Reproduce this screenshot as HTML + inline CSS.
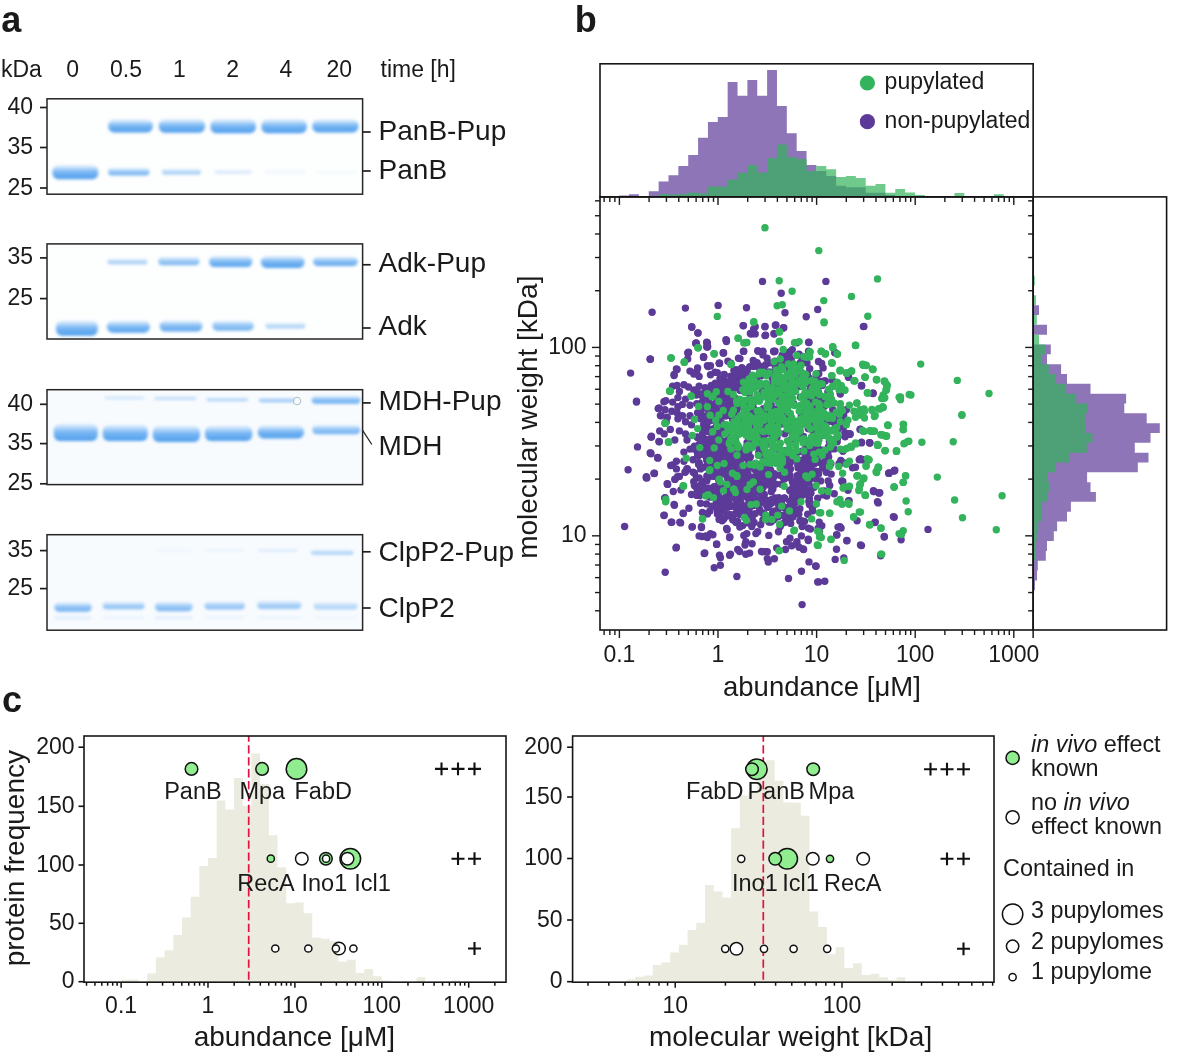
<!DOCTYPE html>
<html><head><meta charset="utf-8"><title>Figure</title>
<style>html,body{margin:0;padding:0;background:#fff;width:1200px;height:1056px;overflow:hidden}svg{display:block;will-change:transform}</style>
</head><body>
<svg width="1200" height="1056" viewBox="0 0 1200 1056" font-family="'Liberation Sans', sans-serif">
<defs>
<filter id="blur" x="-20%" y="-100%" width="140%" height="300%"><feGaussianBlur stdDeviation="1.7"/></filter>
<linearGradient id="bg" x1="0" y1="0" x2="0" y2="1"><stop offset="0" stop-color="#a6d0f8" stop-opacity="0.35"/><stop offset="0.45" stop-color="#6eb1f2" stop-opacity="0.9"/><stop offset="1" stop-color="#4c9cec"/></linearGradient>
</defs>
<rect width="1200" height="1056" fill="#ffffff"/>
<text x="1.3" y="32" font-size="36" font-weight="bold" fill="#1a1a1a">a</text>
<text x="1" y="76.5" font-size="23" fill="#1a1a1a">kDa</text>
<text x="72.7" y="76.5" font-size="23" text-anchor="middle" fill="#1a1a1a">0</text>
<text x="126" y="76.5" font-size="23" text-anchor="middle" fill="#1a1a1a">0.5</text>
<text x="179.3" y="76.5" font-size="23" text-anchor="middle" fill="#1a1a1a">1</text>
<text x="232.7" y="76.5" font-size="23" text-anchor="middle" fill="#1a1a1a">2</text>
<text x="286" y="76.5" font-size="23" text-anchor="middle" fill="#1a1a1a">4</text>
<text x="339.3" y="76.5" font-size="23" text-anchor="middle" fill="#1a1a1a">20</text>
<text x="380.5" y="76.5" font-size="23" fill="#1a1a1a">time [h]</text>
<rect x="47" y="98.8" width="315.6" height="95.4" fill="#fdfefe"/>
<rect x="108.2" y="119.5" width="44.6" height="13" rx="6" fill="url(#bg)" opacity="1" filter="url(#blur)"/>
<rect x="158.8" y="119.25" width="46.2" height="13.5" rx="6" fill="url(#bg)" opacity="1" filter="url(#blur)"/>
<rect x="210.5" y="119.3" width="45.4" height="14" rx="6" fill="url(#bg)" opacity="1" filter="url(#blur)"/>
<rect x="261.4" y="119.3" width="45.4" height="14" rx="6" fill="url(#bg)" opacity="1" filter="url(#blur)"/>
<rect x="312.3" y="119.5" width="46.2" height="13" rx="6" fill="url(#bg)" opacity="1" filter="url(#blur)"/>
<rect x="52.4" y="165.3" width="45.9" height="14" rx="6" fill="url(#bg)" opacity="1" filter="url(#blur)"/>
<rect x="108" y="168.1" width="41.5" height="7.5" rx="3.75" fill="url(#bg)" opacity="0.8" filter="url(#blur)"/>
<rect x="162" y="168.93" width="39" height="5.62" rx="2.81" fill="url(#bg)" opacity="0.55" filter="url(#blur)"/>
<rect x="214.6" y="169.38" width="37.2" height="4.38" rx="2.19" fill="url(#bg)" opacity="0.25" filter="url(#blur)"/>
<rect x="265" y="169.75" width="40" height="3.75" rx="1.88" fill="url(#bg)" opacity="0.1" filter="url(#blur)"/>
<rect x="316" y="169.75" width="40" height="3.75" rx="1.88" fill="url(#bg)" opacity="0.06" filter="url(#blur)"/>

<rect x="47" y="98.8" width="315.6" height="95.4" fill="none" stroke="#262424" stroke-width="1.5"/>
<line x1="40" y1="107.5" x2="47" y2="107.5" stroke="#1e1e1e" stroke-width="1.7"/>
<text x="33" y="114" font-size="23" text-anchor="end" fill="#1a1a1a">40</text>
<line x1="40" y1="147.5" x2="47" y2="147.5" stroke="#1e1e1e" stroke-width="1.7"/>
<text x="33" y="154" font-size="23" text-anchor="end" fill="#1a1a1a">35</text>
<line x1="40" y1="188" x2="47" y2="188" stroke="#1e1e1e" stroke-width="1.7"/>
<text x="33" y="194.5" font-size="23" text-anchor="end" fill="#1a1a1a">25</text>
<line x1="362.6" y1="132" x2="370.7" y2="132" stroke="#1e1e1e" stroke-width="1.7"/>
<text x="378.6" y="140" font-size="28" fill="#1a1a1a">PanB-Pup</text>
<line x1="362.6" y1="171" x2="370.7" y2="171" stroke="#1e1e1e" stroke-width="1.7"/>
<text x="378.6" y="179.2" font-size="28" fill="#1a1a1a">PanB</text>
<rect x="47" y="243.9" width="315.6" height="95.1" fill="#fdfefe"/>
<rect x="107.4" y="258.7" width="39.9" height="5.5" rx="2.75" fill="url(#bg)" opacity="0.55" filter="url(#blur)"/>
<rect x="158.3" y="257.05" width="41.2" height="8.25" rx="4.12" fill="url(#bg)" opacity="0.75" filter="url(#blur)"/>
<rect x="209.1" y="256" width="43.2" height="11" rx="5.5" fill="url(#bg)" opacity="0.95" filter="url(#blur)"/>
<rect x="260.8" y="256" width="43.8" height="12" rx="6" fill="url(#bg)" opacity="1" filter="url(#blur)"/>
<rect x="313.1" y="256.85" width="44.6" height="9.25" rx="4.62" fill="url(#bg)" opacity="0.9" filter="url(#blur)"/>
<rect x="56" y="320.8" width="41.8" height="15" rx="6" fill="url(#bg)" opacity="1" filter="url(#blur)"/>
<rect x="106.8" y="320.8" width="43.2" height="12" rx="6" fill="url(#bg)" opacity="0.95" filter="url(#blur)"/>
<rect x="159.6" y="320.5" width="42.7" height="11" rx="5.5" fill="url(#bg)" opacity="0.9" filter="url(#blur)"/>
<rect x="212.4" y="320.7" width="41.3" height="10" rx="5" fill="url(#bg)" opacity="0.8" filter="url(#blur)"/>
<rect x="265.5" y="322.67" width="39.9" height="5.88" rx="2.94" fill="url(#bg)" opacity="0.5" filter="url(#blur)"/>

<rect x="47" y="243.9" width="315.6" height="95.1" fill="none" stroke="#262424" stroke-width="1.5"/>
<line x1="40" y1="257.9" x2="47" y2="257.9" stroke="#1e1e1e" stroke-width="1.7"/>
<text x="33" y="264.4" font-size="23" text-anchor="end" fill="#1a1a1a">35</text>
<line x1="40" y1="298.6" x2="47" y2="298.6" stroke="#1e1e1e" stroke-width="1.7"/>
<text x="33" y="305.1" font-size="23" text-anchor="end" fill="#1a1a1a">25</text>
<line x1="362.6" y1="264.75" x2="370.7" y2="264.75" stroke="#1e1e1e" stroke-width="1.7"/>
<text x="378.6" y="272.4" font-size="28" fill="#1a1a1a">Adk-Pup</text>
<line x1="362.6" y1="328" x2="370.7" y2="328" stroke="#1e1e1e" stroke-width="1.7"/>
<text x="378.6" y="335.1" font-size="28" fill="#1a1a1a">Adk</text>
<rect x="47" y="389.7" width="315.6" height="94.9" fill="#f8fbfe"/>
<rect x="53.75" y="424" width="44" height="17" rx="6" fill="url(#bg)" opacity="1" filter="url(#blur)"/>
<rect x="102.7" y="425" width="45.1" height="16" rx="6" fill="url(#bg)" opacity="1" filter="url(#blur)"/>
<rect x="152.8" y="426" width="47.2" height="16" rx="6" fill="url(#bg)" opacity="1" filter="url(#blur)"/>
<rect x="205" y="426" width="47.3" height="15" rx="6" fill="url(#bg)" opacity="1" filter="url(#blur)"/>
<rect x="257.8" y="425.5" width="46.2" height="13" rx="6" fill="url(#bg)" opacity="1" filter="url(#blur)"/>
<rect x="312.3" y="424.98" width="48.1" height="9.38" rx="4.69" fill="url(#bg)" opacity="0.8" filter="url(#blur)"/>
<rect x="104.6" y="395.8" width="39.9" height="3.5" rx="1.75" fill="url(#bg)" opacity="0.3" filter="url(#blur)"/>
<rect x="154" y="396.1" width="42.8" height="4" rx="2" fill="url(#bg)" opacity="0.4" filter="url(#blur)"/>
<rect x="206.4" y="397.23" width="41.8" height="4.12" rx="2.06" fill="url(#bg)" opacity="0.5" filter="url(#blur)"/>
<rect x="258.6" y="397.45" width="35.8" height="4.75" rx="2.38" fill="url(#bg)" opacity="0.6" filter="url(#blur)"/>
<rect x="311.7" y="395.78" width="48.7" height="7.88" rx="3.94" fill="url(#bg)" opacity="0.85" filter="url(#blur)"/>
<circle cx="297" cy="401" r="3.8" fill="none" stroke="#aab4c0" stroke-width="0.9"/>
<rect x="47" y="389.7" width="315.6" height="94.9" fill="none" stroke="#262424" stroke-width="1.5"/>
<line x1="40" y1="404.3" x2="47" y2="404.3" stroke="#1e1e1e" stroke-width="1.7"/>
<text x="33" y="410.8" font-size="23" text-anchor="end" fill="#1a1a1a">40</text>
<line x1="40" y1="443.6" x2="47" y2="443.6" stroke="#1e1e1e" stroke-width="1.7"/>
<text x="33" y="450.1" font-size="23" text-anchor="end" fill="#1a1a1a">35</text>
<line x1="40" y1="483.8" x2="47" y2="483.8" stroke="#1e1e1e" stroke-width="1.7"/>
<text x="33" y="490.3" font-size="23" text-anchor="end" fill="#1a1a1a">25</text>
<line x1="362.6" y1="402.9" x2="370.7" y2="402.9" stroke="#1e1e1e" stroke-width="1.7"/>
<text x="378.6" y="410.2" font-size="28" fill="#1a1a1a">MDH-Pup</text>
<text x="378.6" y="454.6" font-size="28" fill="#1a1a1a">MDH</text>
<line x1="362.3" y1="429.8" x2="371.8" y2="444.5" stroke="#2a2a2a" stroke-width="1.3"/>
<rect x="47" y="534.7" width="315.6" height="95.5" fill="#f8fbfe"/>
<rect x="54.3" y="602.38" width="37.4" height="9.38" rx="4.69" fill="url(#bg)" opacity="0.8" filter="url(#blur)"/>
<rect x="102.7" y="601.8" width="41.8" height="7.5" rx="3.75" fill="url(#bg)" opacity="0.65" filter="url(#blur)"/>
<rect x="155" y="601.88" width="37.6" height="9.38" rx="4.69" fill="url(#bg)" opacity="0.75" filter="url(#blur)"/>
<rect x="204.5" y="601.42" width="40.4" height="8.12" rx="4.06" fill="url(#bg)" opacity="0.65" filter="url(#blur)"/>
<rect x="257.3" y="600.83" width="44" height="8.12" rx="4.06" fill="url(#bg)" opacity="0.6" filter="url(#blur)"/>
<rect x="313.6" y="602.1" width="44.1" height="7.5" rx="3.75" fill="url(#bg)" opacity="0.45" filter="url(#blur)"/>
<rect x="54.3" y="615.55" width="37.4" height="3.75" rx="1.88" fill="url(#bg)" opacity="0.2" filter="url(#blur)"/>
<rect x="102.7" y="615.92" width="41.8" height="3.12" rx="1.56" fill="url(#bg)" opacity="0.12" filter="url(#blur)"/>
<rect x="155" y="615.55" width="37.6" height="3.75" rx="1.88" fill="url(#bg)" opacity="0.18" filter="url(#blur)"/>
<rect x="204.5" y="615.62" width="40.4" height="3.12" rx="1.56" fill="url(#bg)" opacity="0.12" filter="url(#blur)"/>
<rect x="257.3" y="615.62" width="44" height="3.12" rx="1.56" fill="url(#bg)" opacity="0.1" filter="url(#blur)"/>
<rect x="313.6" y="615.62" width="44.1" height="3.12" rx="1.56" fill="url(#bg)" opacity="0.08" filter="url(#blur)"/>
<rect x="311" y="549.7" width="42.5" height="5" rx="2.5" fill="url(#bg)" opacity="0.5" filter="url(#blur)"/>
<rect x="258" y="548.62" width="40" height="3.12" rx="1.56" fill="url(#bg)" opacity="0.22" filter="url(#blur)"/>
<rect x="205" y="548.62" width="40" height="3.12" rx="1.56" fill="url(#bg)" opacity="0.12" filter="url(#blur)"/>
<rect x="155" y="548.62" width="37" height="3.12" rx="1.56" fill="url(#bg)" opacity="0.08" filter="url(#blur)"/>

<rect x="47" y="534.7" width="315.6" height="95.5" fill="none" stroke="#262424" stroke-width="1.5"/>
<line x1="40" y1="550.6" x2="47" y2="550.6" stroke="#1e1e1e" stroke-width="1.7"/>
<text x="33" y="557.1" font-size="23" text-anchor="end" fill="#1a1a1a">35</text>
<line x1="40" y1="588.6" x2="47" y2="588.6" stroke="#1e1e1e" stroke-width="1.7"/>
<text x="33" y="595.1" font-size="23" text-anchor="end" fill="#1a1a1a">25</text>
<line x1="362.6" y1="551.8" x2="370.7" y2="551.8" stroke="#1e1e1e" stroke-width="1.7"/>
<text x="378.6" y="560.5" font-size="28" fill="#1a1a1a">ClpP2-Pup</text>
<line x1="362.6" y1="608" x2="370.7" y2="608" stroke="#1e1e1e" stroke-width="1.7"/>
<text x="378.6" y="616.5" font-size="28" fill="#1a1a1a">ClpP2</text>
<text x="574.8" y="32.4" font-size="36" font-weight="bold" fill="#1a1a1a">b</text>
<path d="M619.2,196.9 L619.2,195.45 L629.06,195.45 L629.06,194.25 L638.92,194.25 L638.92,196.9 L648.78,196.9 L648.78,191.25 L658.64,191.25 L658.64,181.5 L668.5,181.5 L668.5,175.2 L678.36,175.2 L678.36,166.1 L688.22,166.1 L688.22,155 L698.08,155 L698.08,137.7 L707.94,137.7 L707.94,122.1 L717.8,122.1 L717.8,117 L727.66,117 L727.66,82.1 L737.52,82.1 L737.52,95.7 L747.38,95.7 L747.38,80 L757.24,80 L757.24,95.7 L767.1,95.7 L767.1,70.1 L776.96,70.1 L776.96,106 L786.82,106 L786.82,133.2 L796.68,133.2 L796.68,151.1 L806.54,151.1 L806.54,165 L816.4,165 L816.4,171 L826.26,171 L826.26,175.95 L836.12,175.95 L836.12,185.7 L845.98,185.7 L845.98,187.2 L855.84,187.2 L855.84,187.2 L865.7,187.2 L865.7,192.75 L875.56,192.75 L875.56,192.75 L885.42,192.75 L885.42,195 L895.28,195 L895.28,196.9 Z" fill="#5c3a98" fill-opacity="0.7"/>
<path d="M619.2,196.9 L619.2,196.9 L629.06,196.9 L629.06,196.9 L638.92,196.9 L638.92,196.9 L648.78,196.9 L648.78,196.9 L658.64,196.9 L658.64,193.95 L668.5,193.95 L668.5,194.55 L678.36,194.55 L678.36,193.95 L688.22,193.95 L688.22,192.45 L698.08,192.45 L698.08,193.2 L707.94,193.2 L707.94,186.45 L717.8,186.45 L717.8,186.45 L727.66,186.45 L727.66,179.55 L737.52,179.55 L737.52,172.8 L747.38,172.8 L747.38,165 L757.24,165 L757.24,172.5 L767.1,172.5 L767.1,157.95 L776.96,157.95 L776.96,144.5 L786.82,144.5 L786.82,157.2 L796.68,157.2 L796.68,159 L806.54,159 L806.54,171 L816.4,171 L816.4,166.1 L826.26,166.1 L826.26,169.2 L836.12,169.2 L836.12,177 L845.98,177 L845.98,175.95 L855.84,175.95 L855.84,178.1 L865.7,178.1 L865.7,185.7 L875.56,185.7 L875.56,184.05 L885.42,184.05 L885.42,192.75 L895.28,192.75 L895.28,189 L905.14,189 L905.14,192.45 L915,192.45 L915,195 L924.86,195 L924.86,196.9 L934.72,196.9 L934.72,196.9 L944.58,196.9 L944.58,196.9 L954.44,196.9 L954.44,193.05 L964.3,193.05 L964.3,196.9 L974.16,196.9 L974.16,196.9 L984.02,196.9 L984.02,196.9 L993.88,196.9 L993.88,194.2 L1003.74,194.2 L1003.74,196.9 Z" fill="#33b35b" fill-opacity="0.7"/>
<path d="M1033.15,275.71 L1033.15,275.71 L1033.15,285.54 L1033.15,285.54 L1033.15,295.37 L1033.15,295.37 L1033.15,305.2 L1039,305.2 L1039,315.03 L1033.15,315.03 L1033.15,324.86 L1047,324.86 L1047,334.69 L1033.15,334.69 L1033.15,344.52 L1050.8,344.52 L1050.8,354.35 L1047,354.35 L1047,364.18 L1061.1,364.18 L1061.1,374.01 L1067,374.01 L1067,383.84 L1090.5,383.84 L1090.5,393.67 L1126.1,393.67 L1126.1,403.5 L1124.3,403.5 L1124.3,413.33 L1146.7,413.33 L1146.7,423.16 L1159.8,423.16 L1159.8,432.99 L1150.5,432.99 L1150.5,442.82 L1134.8,442.82 L1134.8,452.65 L1148.5,452.65 L1148.5,462.48 L1137.8,462.48 L1137.8,472.31 L1087.1,472.31 L1087.1,482.14 L1090.5,482.14 L1090.5,491.97 L1095.9,491.97 L1095.9,501.8 L1070.9,501.8 L1070.9,511.63 L1067,511.63 L1067,521.46 L1057.1,521.46 L1057.1,531.29 L1053.8,531.29 L1053.8,541.12 L1047,541.12 L1047,550.95 L1045.8,550.95 L1045.8,560.78 L1037.8,560.78 L1037.8,570.61 L1037,570.61 L1037,580.44 L1035,580.44 L1035,590.27 L1033.15,590.27 L1033.15,600.1 L1033.15,600.1 Z" fill="#5c3a98" fill-opacity="0.7"/>
<path d="M1033.15,275.71 L1034.8,275.71 L1034.8,285.54 L1033.15,285.54 L1033.15,295.37 L1035.9,295.37 L1035.9,305.2 L1033.15,305.2 L1033.15,315.03 L1036.8,315.03 L1036.8,324.86 L1033.15,324.86 L1033.15,334.69 L1039,334.69 L1039,344.52 L1045,344.52 L1045,354.35 L1042.1,354.35 L1042.1,364.18 L1048.8,364.18 L1048.8,374.01 L1056.1,374.01 L1056.1,383.84 L1066.2,383.84 L1066.2,393.67 L1076.2,393.67 L1076.2,403.5 L1087.6,403.5 L1087.6,413.33 L1084.8,413.33 L1084.8,423.16 L1085.6,423.16 L1085.6,432.99 L1092.4,432.99 L1092.4,442.82 L1086.8,442.82 L1086.8,452.65 L1069,452.65 L1069,462.48 L1055.8,462.48 L1055.8,472.31 L1048,472.31 L1048,482.14 L1049.7,482.14 L1049.7,491.97 L1048,491.97 L1048,501.8 L1042.1,501.8 L1042.1,511.63 L1042.1,511.63 L1042.1,521.46 L1038.3,521.46 L1038.3,531.29 L1036.8,531.29 L1036.8,541.12 L1035.8,541.12 L1035.8,550.95 L1035,550.95 L1035,560.78 L1033.15,560.78 L1033.15,570.61 L1033.15,570.61 L1033.15,580.44 L1033.15,580.44 L1033.15,590.27 L1033.15,590.27 L1033.15,600.1 L1033.15,600.1 Z" fill="#33b35b" fill-opacity="0.7"/>
<g fill="#5c3a98">
<circle cx="724.8" cy="447.8" r="3.7"/>
<circle cx="789.7" cy="359.1" r="3.7"/>
<circle cx="728.4" cy="390.4" r="3.7"/>
<circle cx="791.2" cy="507.8" r="3.7"/>
<circle cx="783.9" cy="402.8" r="3.7"/>
<circle cx="764.1" cy="480.2" r="3.7"/>
<circle cx="782.9" cy="455.3" r="3.7"/>
<circle cx="797.3" cy="377.2" r="3.7"/>
<circle cx="720.3" cy="501.1" r="3.7"/>
<circle cx="699.8" cy="495.4" r="3.7"/>
<circle cx="740.4" cy="510.2" r="3.7"/>
<circle cx="785.3" cy="352.8" r="3.7"/>
<circle cx="787.1" cy="375.9" r="3.7"/>
<circle cx="748.2" cy="432.3" r="3.7"/>
<circle cx="784.7" cy="450.6" r="3.7"/>
<circle cx="763.0" cy="472.9" r="3.7"/>
<circle cx="808.5" cy="351.1" r="3.7"/>
<circle cx="746.8" cy="457.4" r="3.7"/>
<circle cx="808.0" cy="404.4" r="3.7"/>
<circle cx="724.9" cy="381.7" r="3.7"/>
<circle cx="702.0" cy="406.7" r="3.7"/>
<circle cx="758.3" cy="505.5" r="3.7"/>
<circle cx="793.8" cy="511.0" r="3.7"/>
<circle cx="705.2" cy="445.1" r="3.7"/>
<circle cx="825.3" cy="381.0" r="3.7"/>
<circle cx="792.4" cy="496.4" r="3.7"/>
<circle cx="733.8" cy="494.1" r="3.7"/>
<circle cx="754.7" cy="424.8" r="3.7"/>
<circle cx="809.7" cy="502.0" r="3.7"/>
<circle cx="735.2" cy="469.8" r="3.7"/>
<circle cx="727.2" cy="506.7" r="3.7"/>
<circle cx="743.9" cy="383.6" r="3.7"/>
<circle cx="713.7" cy="493.7" r="3.7"/>
<circle cx="729.9" cy="444.7" r="3.7"/>
<circle cx="747.4" cy="459.0" r="3.7"/>
<circle cx="819.0" cy="462.4" r="3.7"/>
<circle cx="768.0" cy="477.2" r="3.7"/>
<circle cx="762.1" cy="392.4" r="3.7"/>
<circle cx="762.7" cy="369.8" r="3.7"/>
<circle cx="807.8" cy="451.5" r="3.7"/>
<circle cx="832.3" cy="380.2" r="3.7"/>
<circle cx="770.5" cy="479.5" r="3.7"/>
<circle cx="779.4" cy="500.4" r="3.7"/>
<circle cx="726.8" cy="461.1" r="3.7"/>
<circle cx="754.1" cy="485.5" r="3.7"/>
<circle cx="811.5" cy="471.9" r="3.7"/>
<circle cx="792.6" cy="513.3" r="3.7"/>
<circle cx="759.1" cy="480.2" r="3.7"/>
<circle cx="718.3" cy="455.5" r="3.7"/>
<circle cx="729.7" cy="387.3" r="3.7"/>
<circle cx="765.2" cy="458.0" r="3.7"/>
<circle cx="822.5" cy="450.2" r="3.7"/>
<circle cx="828.3" cy="421.2" r="3.7"/>
<circle cx="763.2" cy="389.5" r="3.7"/>
<circle cx="725.5" cy="382.1" r="3.7"/>
<circle cx="727.7" cy="507.3" r="3.7"/>
<circle cx="807.0" cy="362.9" r="3.7"/>
<circle cx="733.8" cy="413.1" r="3.7"/>
<circle cx="766.3" cy="385.9" r="3.7"/>
<circle cx="796.3" cy="367.9" r="3.7"/>
<circle cx="814.2" cy="487.3" r="3.7"/>
<circle cx="794.4" cy="496.4" r="3.7"/>
<circle cx="704.0" cy="438.5" r="3.7"/>
<circle cx="798.5" cy="452.0" r="3.7"/>
<circle cx="790.5" cy="380.2" r="3.7"/>
<circle cx="740.5" cy="480.5" r="3.7"/>
<circle cx="775.9" cy="484.1" r="3.7"/>
<circle cx="749.1" cy="508.7" r="3.7"/>
<circle cx="726.4" cy="489.5" r="3.7"/>
<circle cx="809.4" cy="498.2" r="3.7"/>
<circle cx="709.5" cy="420.8" r="3.7"/>
<circle cx="780.1" cy="384.4" r="3.7"/>
<circle cx="782.5" cy="464.4" r="3.7"/>
<circle cx="735.1" cy="506.4" r="3.7"/>
<circle cx="717.4" cy="445.1" r="3.7"/>
<circle cx="793.1" cy="429.3" r="3.7"/>
<circle cx="789.3" cy="356.4" r="3.7"/>
<circle cx="739.1" cy="508.3" r="3.7"/>
<circle cx="804.8" cy="484.1" r="3.7"/>
<circle cx="768.2" cy="476.6" r="3.7"/>
<circle cx="793.6" cy="403.5" r="3.7"/>
<circle cx="752.2" cy="380.5" r="3.7"/>
<circle cx="720.0" cy="378.6" r="3.7"/>
<circle cx="767.0" cy="358.1" r="3.7"/>
<circle cx="753.2" cy="477.3" r="3.7"/>
<circle cx="712.6" cy="462.3" r="3.7"/>
<circle cx="693.7" cy="481.8" r="3.7"/>
<circle cx="762.9" cy="519.9" r="3.7"/>
<circle cx="729.5" cy="498.0" r="3.7"/>
<circle cx="740.9" cy="473.0" r="3.7"/>
<circle cx="808.8" cy="483.0" r="3.7"/>
<circle cx="805.6" cy="459.2" r="3.7"/>
<circle cx="763.1" cy="487.5" r="3.7"/>
<circle cx="724.7" cy="503.3" r="3.7"/>
<circle cx="830.9" cy="430.4" r="3.7"/>
<circle cx="755.2" cy="491.7" r="3.7"/>
<circle cx="823.1" cy="367.9" r="3.7"/>
<circle cx="718.3" cy="512.5" r="3.7"/>
<circle cx="722.3" cy="500.7" r="3.7"/>
<circle cx="812.4" cy="508.5" r="3.7"/>
<circle cx="784.4" cy="498.0" r="3.7"/>
<circle cx="762.7" cy="481.9" r="3.7"/>
<circle cx="720.8" cy="412.0" r="3.7"/>
<circle cx="757.1" cy="362.6" r="3.7"/>
<circle cx="774.6" cy="424.6" r="3.7"/>
<circle cx="733.9" cy="520.1" r="3.7"/>
<circle cx="805.9" cy="401.5" r="3.7"/>
<circle cx="757.3" cy="410.9" r="3.7"/>
<circle cx="753.8" cy="361.4" r="3.7"/>
<circle cx="827.7" cy="399.8" r="3.7"/>
<circle cx="820.0" cy="402.1" r="3.7"/>
<circle cx="813.8" cy="433.3" r="3.7"/>
<circle cx="693.6" cy="448.2" r="3.7"/>
<circle cx="726.4" cy="495.6" r="3.7"/>
<circle cx="731.8" cy="378.3" r="3.7"/>
<circle cx="715.6" cy="473.7" r="3.7"/>
<circle cx="753.3" cy="412.2" r="3.7"/>
<circle cx="760.7" cy="524.8" r="3.7"/>
<circle cx="772.3" cy="423.3" r="3.7"/>
<circle cx="840.8" cy="460.5" r="3.7"/>
<circle cx="777.0" cy="437.3" r="3.7"/>
<circle cx="747.1" cy="442.4" r="3.7"/>
<circle cx="749.1" cy="500.5" r="3.7"/>
<circle cx="809.3" cy="502.3" r="3.7"/>
<circle cx="729.8" cy="448.2" r="3.7"/>
<circle cx="793.2" cy="373.4" r="3.7"/>
<circle cx="726.1" cy="412.7" r="3.7"/>
<circle cx="810.2" cy="491.9" r="3.7"/>
<circle cx="775.0" cy="429.0" r="3.7"/>
<circle cx="718.5" cy="457.1" r="3.7"/>
<circle cx="772.9" cy="488.9" r="3.7"/>
<circle cx="768.8" cy="482.7" r="3.7"/>
<circle cx="764.9" cy="445.5" r="3.7"/>
<circle cx="720.9" cy="448.7" r="3.7"/>
<circle cx="794.0" cy="509.2" r="3.7"/>
<circle cx="721.8" cy="415.7" r="3.7"/>
<circle cx="775.1" cy="517.7" r="3.7"/>
<circle cx="758.8" cy="473.5" r="3.7"/>
<circle cx="716.8" cy="499.6" r="3.7"/>
<circle cx="824.3" cy="381.0" r="3.7"/>
<circle cx="770.6" cy="427.1" r="3.7"/>
<circle cx="800.6" cy="362.5" r="3.7"/>
<circle cx="765.3" cy="425.2" r="3.7"/>
<circle cx="740.5" cy="424.6" r="3.7"/>
<circle cx="718.8" cy="419.6" r="3.7"/>
<circle cx="781.0" cy="362.8" r="3.7"/>
<circle cx="828.4" cy="446.9" r="3.7"/>
<circle cx="788.7" cy="412.8" r="3.7"/>
<circle cx="717.4" cy="508.5" r="3.7"/>
<circle cx="768.4" cy="418.2" r="3.7"/>
<circle cx="714.7" cy="393.5" r="3.7"/>
<circle cx="741.9" cy="367.6" r="3.7"/>
<circle cx="797.2" cy="459.9" r="3.7"/>
<circle cx="700.7" cy="488.0" r="3.7"/>
<circle cx="726.8" cy="476.3" r="3.7"/>
<circle cx="703.3" cy="449.6" r="3.7"/>
<circle cx="713.9" cy="420.1" r="3.7"/>
<circle cx="718.7" cy="440.6" r="3.7"/>
<circle cx="737.6" cy="521.5" r="3.7"/>
<circle cx="764.8" cy="427.4" r="3.7"/>
<circle cx="716.1" cy="452.9" r="3.7"/>
<circle cx="807.7" cy="514.3" r="3.7"/>
<circle cx="810.6" cy="388.8" r="3.7"/>
<circle cx="739.7" cy="488.3" r="3.7"/>
<circle cx="730.1" cy="441.3" r="3.7"/>
<circle cx="766.1" cy="483.8" r="3.7"/>
<circle cx="698.9" cy="492.5" r="3.7"/>
<circle cx="739.8" cy="527.0" r="3.7"/>
<circle cx="750.0" cy="496.2" r="3.7"/>
<circle cx="739.6" cy="388.6" r="3.7"/>
<circle cx="737.8" cy="453.1" r="3.7"/>
<circle cx="741.7" cy="383.4" r="3.7"/>
<circle cx="812.5" cy="458.4" r="3.7"/>
<circle cx="817.9" cy="439.7" r="3.7"/>
<circle cx="693.0" cy="472.1" r="3.7"/>
<circle cx="735.3" cy="403.5" r="3.7"/>
<circle cx="790.5" cy="362.3" r="3.7"/>
<circle cx="744.8" cy="467.5" r="3.7"/>
<circle cx="725.1" cy="455.3" r="3.7"/>
<circle cx="741.9" cy="426.9" r="3.7"/>
<circle cx="721.7" cy="389.3" r="3.7"/>
<circle cx="792.4" cy="481.8" r="3.7"/>
<circle cx="718.5" cy="420.2" r="3.7"/>
<circle cx="708.1" cy="490.9" r="3.7"/>
<circle cx="784.5" cy="522.5" r="3.7"/>
<circle cx="840.3" cy="394.1" r="3.7"/>
<circle cx="722.1" cy="520.7" r="3.7"/>
<circle cx="740.7" cy="403.2" r="3.7"/>
<circle cx="704.5" cy="426.1" r="3.7"/>
<circle cx="729.4" cy="400.4" r="3.7"/>
<circle cx="742.7" cy="468.3" r="3.7"/>
<circle cx="705.8" cy="453.6" r="3.7"/>
<circle cx="742.5" cy="378.4" r="3.7"/>
<circle cx="767.9" cy="430.7" r="3.7"/>
<circle cx="702.9" cy="486.9" r="3.7"/>
<circle cx="831.4" cy="448.6" r="3.7"/>
<circle cx="731.9" cy="469.7" r="3.7"/>
<circle cx="809.4" cy="461.9" r="3.7"/>
<circle cx="706.5" cy="503.9" r="3.7"/>
<circle cx="797.0" cy="372.3" r="3.7"/>
<circle cx="801.9" cy="405.9" r="3.7"/>
<circle cx="814.9" cy="401.8" r="3.7"/>
<circle cx="807.1" cy="457.1" r="3.7"/>
<circle cx="785.5" cy="414.5" r="3.7"/>
<circle cx="761.7" cy="469.4" r="3.7"/>
<circle cx="767.8" cy="443.9" r="3.7"/>
<circle cx="717.1" cy="492.5" r="3.7"/>
<circle cx="697.2" cy="436.9" r="3.7"/>
<circle cx="718.9" cy="395.6" r="3.7"/>
<circle cx="779.6" cy="400.7" r="3.7"/>
<circle cx="738.3" cy="401.4" r="3.7"/>
<circle cx="768.1" cy="506.2" r="3.7"/>
<circle cx="695.8" cy="449.4" r="3.7"/>
<circle cx="782.2" cy="391.2" r="3.7"/>
<circle cx="695.4" cy="486.2" r="3.7"/>
<circle cx="708.7" cy="400.0" r="3.7"/>
<circle cx="822.0" cy="454.4" r="3.7"/>
<circle cx="736.1" cy="369.8" r="3.7"/>
<circle cx="700.9" cy="484.9" r="3.7"/>
<circle cx="729.4" cy="415.3" r="3.7"/>
<circle cx="801.4" cy="413.1" r="3.7"/>
<circle cx="723.2" cy="510.6" r="3.7"/>
<circle cx="812.1" cy="419.6" r="3.7"/>
<circle cx="720.3" cy="487.3" r="3.7"/>
<circle cx="744.6" cy="403.1" r="3.7"/>
<circle cx="748.3" cy="450.9" r="3.7"/>
<circle cx="771.5" cy="399.9" r="3.7"/>
<circle cx="811.9" cy="398.6" r="3.7"/>
<circle cx="822.6" cy="468.0" r="3.7"/>
<circle cx="793.5" cy="486.3" r="3.7"/>
<circle cx="782.0" cy="505.1" r="3.7"/>
<circle cx="789.3" cy="455.3" r="3.7"/>
<circle cx="706.0" cy="444.4" r="3.7"/>
<circle cx="772.6" cy="376.9" r="3.7"/>
<circle cx="835.1" cy="421.3" r="3.7"/>
<circle cx="783.7" cy="411.5" r="3.7"/>
<circle cx="781.9" cy="463.2" r="3.7"/>
<circle cx="802.6" cy="451.0" r="3.7"/>
<circle cx="718.0" cy="429.4" r="3.7"/>
<circle cx="789.9" cy="351.8" r="3.7"/>
<circle cx="777.9" cy="509.2" r="3.7"/>
<circle cx="726.8" cy="432.4" r="3.7"/>
<circle cx="781.4" cy="484.2" r="3.7"/>
<circle cx="724.6" cy="498.7" r="3.7"/>
<circle cx="763.7" cy="476.5" r="3.7"/>
<circle cx="696.4" cy="395.0" r="3.7"/>
<circle cx="749.3" cy="393.7" r="3.7"/>
<circle cx="719.2" cy="484.1" r="3.7"/>
<circle cx="800.2" cy="386.5" r="3.7"/>
<circle cx="762.6" cy="469.3" r="3.7"/>
<circle cx="790.0" cy="520.9" r="3.7"/>
<circle cx="735.8" cy="478.9" r="3.7"/>
<circle cx="723.7" cy="502.2" r="3.7"/>
<circle cx="767.9" cy="478.7" r="3.7"/>
<circle cx="772.0" cy="460.5" r="3.7"/>
<circle cx="816.2" cy="375.5" r="3.7"/>
<circle cx="753.8" cy="366.4" r="3.7"/>
<circle cx="714.5" cy="416.1" r="3.7"/>
<circle cx="790.1" cy="462.9" r="3.7"/>
<circle cx="793.6" cy="455.8" r="3.7"/>
<circle cx="727.2" cy="529.7" r="3.7"/>
<circle cx="726.3" cy="406.9" r="3.7"/>
<circle cx="754.1" cy="522.5" r="3.7"/>
<circle cx="829.2" cy="392.1" r="3.7"/>
<circle cx="737.9" cy="512.3" r="3.7"/>
<circle cx="717.1" cy="499.1" r="3.7"/>
<circle cx="727.1" cy="516.0" r="3.7"/>
<circle cx="789.7" cy="501.1" r="3.7"/>
<circle cx="740.6" cy="403.1" r="3.7"/>
<circle cx="837.6" cy="415.0" r="3.7"/>
<circle cx="770.5" cy="472.2" r="3.7"/>
<circle cx="740.6" cy="501.4" r="3.7"/>
<circle cx="735.9" cy="513.2" r="3.7"/>
<circle cx="738.8" cy="513.5" r="3.7"/>
<circle cx="827.9" cy="453.0" r="3.7"/>
<circle cx="758.5" cy="506.1" r="3.7"/>
<circle cx="818.5" cy="361.4" r="3.7"/>
<circle cx="699.8" cy="444.7" r="3.7"/>
<circle cx="802.1" cy="357.5" r="3.7"/>
<circle cx="754.7" cy="429.1" r="3.7"/>
<circle cx="728.2" cy="411.3" r="3.7"/>
<circle cx="810.4" cy="458.8" r="3.7"/>
<circle cx="787.6" cy="473.9" r="3.7"/>
<circle cx="762.4" cy="410.4" r="3.7"/>
<circle cx="727.6" cy="488.2" r="3.7"/>
<circle cx="725.1" cy="384.7" r="3.7"/>
<circle cx="795.6" cy="500.2" r="3.7"/>
<circle cx="721.2" cy="440.5" r="3.7"/>
<circle cx="783.8" cy="404.0" r="3.7"/>
<circle cx="707.0" cy="476.0" r="3.7"/>
<circle cx="798.1" cy="467.9" r="3.7"/>
<circle cx="735.9" cy="385.5" r="3.7"/>
<circle cx="744.1" cy="506.5" r="3.7"/>
<circle cx="774.6" cy="475.8" r="3.7"/>
<circle cx="731.4" cy="382.3" r="3.7"/>
<circle cx="727.8" cy="500.0" r="3.7"/>
<circle cx="824.3" cy="491.0" r="3.7"/>
<circle cx="764.0" cy="370.1" r="3.7"/>
<circle cx="730.6" cy="456.3" r="3.7"/>
<circle cx="700.8" cy="413.4" r="3.7"/>
<circle cx="794.8" cy="497.8" r="3.7"/>
<circle cx="740.6" cy="463.5" r="3.7"/>
<circle cx="735.5" cy="398.4" r="3.7"/>
<circle cx="761.3" cy="375.8" r="3.7"/>
<circle cx="747.3" cy="456.8" r="3.7"/>
<circle cx="819.1" cy="403.2" r="3.7"/>
<circle cx="773.6" cy="351.3" r="3.7"/>
<circle cx="775.4" cy="368.4" r="3.7"/>
<circle cx="719.4" cy="460.1" r="3.7"/>
<circle cx="743.7" cy="391.1" r="3.7"/>
<circle cx="831.8" cy="421.3" r="3.7"/>
<circle cx="747.8" cy="487.0" r="3.7"/>
<circle cx="719.9" cy="482.6" r="3.7"/>
<circle cx="770.7" cy="470.4" r="3.7"/>
<circle cx="776.2" cy="513.8" r="3.7"/>
<circle cx="730.5" cy="386.4" r="3.7"/>
<circle cx="819.7" cy="455.3" r="3.7"/>
<circle cx="802.0" cy="375.1" r="3.7"/>
<circle cx="739.4" cy="478.1" r="3.7"/>
<circle cx="787.7" cy="507.5" r="3.7"/>
<circle cx="732.7" cy="519.8" r="3.7"/>
<circle cx="711.5" cy="446.5" r="3.7"/>
<circle cx="823.7" cy="428.9" r="3.7"/>
<circle cx="731.0" cy="442.4" r="3.7"/>
<circle cx="802.7" cy="356.5" r="3.7"/>
<circle cx="800.3" cy="475.6" r="3.7"/>
<circle cx="769.8" cy="457.6" r="3.7"/>
<circle cx="718.8" cy="441.2" r="3.7"/>
<circle cx="761.1" cy="430.9" r="3.7"/>
<circle cx="747.2" cy="522.9" r="3.7"/>
<circle cx="743.9" cy="430.5" r="3.7"/>
<circle cx="735.8" cy="441.9" r="3.7"/>
<circle cx="707.2" cy="397.2" r="3.7"/>
<circle cx="761.0" cy="455.7" r="3.7"/>
<circle cx="826.6" cy="398.7" r="3.7"/>
<circle cx="784.7" cy="456.6" r="3.7"/>
<circle cx="800.6" cy="397.2" r="3.7"/>
<circle cx="762.3" cy="513.0" r="3.7"/>
<circle cx="780.1" cy="458.8" r="3.7"/>
<circle cx="704.4" cy="445.8" r="3.7"/>
<circle cx="724.1" cy="400.5" r="3.7"/>
<circle cx="745.2" cy="487.2" r="3.7"/>
<circle cx="747.8" cy="473.5" r="3.7"/>
<circle cx="751.8" cy="382.7" r="3.7"/>
<circle cx="743.8" cy="470.5" r="3.7"/>
<circle cx="800.6" cy="491.9" r="3.7"/>
<circle cx="716.7" cy="387.4" r="3.7"/>
<circle cx="714.4" cy="428.4" r="3.7"/>
<circle cx="797.8" cy="464.7" r="3.7"/>
<circle cx="768.5" cy="478.7" r="3.7"/>
<circle cx="809.8" cy="470.2" r="3.7"/>
<circle cx="748.1" cy="480.1" r="3.7"/>
<circle cx="762.1" cy="482.5" r="3.7"/>
<circle cx="785.3" cy="464.9" r="3.7"/>
<circle cx="734.0" cy="388.2" r="3.7"/>
<circle cx="784.8" cy="361.7" r="3.7"/>
<circle cx="717.4" cy="514.0" r="3.7"/>
<circle cx="732.4" cy="468.6" r="3.7"/>
<circle cx="726.8" cy="441.3" r="3.7"/>
<circle cx="761.1" cy="481.7" r="3.7"/>
<circle cx="725.9" cy="403.7" r="3.7"/>
<circle cx="769.3" cy="371.9" r="3.7"/>
<circle cx="805.8" cy="490.8" r="3.7"/>
<circle cx="801.3" cy="416.2" r="3.7"/>
<circle cx="786.5" cy="368.1" r="3.7"/>
<circle cx="752.2" cy="517.6" r="3.7"/>
<circle cx="716.3" cy="393.9" r="3.7"/>
<circle cx="818.0" cy="415.3" r="3.7"/>
<circle cx="759.7" cy="509.8" r="3.7"/>
<circle cx="756.5" cy="420.2" r="3.7"/>
<circle cx="753.9" cy="378.1" r="3.7"/>
<circle cx="730.0" cy="396.2" r="3.7"/>
<circle cx="717.7" cy="488.6" r="3.7"/>
<circle cx="733.3" cy="380.4" r="3.7"/>
<circle cx="771.3" cy="491.7" r="3.7"/>
<circle cx="784.3" cy="478.9" r="3.7"/>
<circle cx="810.7" cy="478.6" r="3.7"/>
<circle cx="804.9" cy="479.6" r="3.7"/>
<circle cx="758.9" cy="465.0" r="3.7"/>
<circle cx="806.3" cy="424.0" r="3.7"/>
<circle cx="755.5" cy="502.7" r="3.7"/>
<circle cx="720.4" cy="499.8" r="3.7"/>
<circle cx="821.7" cy="363.5" r="3.7"/>
<circle cx="759.4" cy="367.9" r="3.7"/>
<circle cx="815.5" cy="472.2" r="3.7"/>
<circle cx="723.1" cy="394.2" r="3.7"/>
<circle cx="715.4" cy="466.6" r="3.7"/>
<circle cx="748.0" cy="476.0" r="3.7"/>
<circle cx="730.1" cy="480.8" r="3.7"/>
<circle cx="759.6" cy="503.6" r="3.7"/>
<circle cx="780.0" cy="475.3" r="3.7"/>
<circle cx="843.7" cy="414.9" r="3.7"/>
<circle cx="822.1" cy="403.1" r="3.7"/>
<circle cx="732.7" cy="416.5" r="3.7"/>
<circle cx="770.9" cy="483.1" r="3.7"/>
<circle cx="732.7" cy="480.0" r="3.7"/>
<circle cx="840.8" cy="420.3" r="3.7"/>
<circle cx="785.8" cy="356.8" r="3.7"/>
<circle cx="739.6" cy="514.5" r="3.7"/>
<circle cx="755.8" cy="500.1" r="3.7"/>
<circle cx="727.1" cy="444.8" r="3.7"/>
<circle cx="706.7" cy="426.0" r="3.7"/>
<circle cx="764.1" cy="459.8" r="3.7"/>
<circle cx="703.1" cy="481.4" r="3.7"/>
<circle cx="789.7" cy="474.9" r="3.7"/>
<circle cx="733.4" cy="385.6" r="3.7"/>
<circle cx="704.8" cy="422.3" r="3.7"/>
<circle cx="720.5" cy="468.8" r="3.7"/>
<circle cx="749.3" cy="407.1" r="3.7"/>
<circle cx="811.5" cy="413.0" r="3.7"/>
<circle cx="769.9" cy="504.1" r="3.7"/>
<circle cx="736.1" cy="507.2" r="3.7"/>
<circle cx="713.0" cy="445.6" r="3.7"/>
<circle cx="714.4" cy="414.5" r="3.7"/>
<circle cx="756.8" cy="483.8" r="3.7"/>
<circle cx="741.3" cy="452.5" r="3.7"/>
<circle cx="743.8" cy="495.3" r="3.7"/>
<circle cx="723.8" cy="519.1" r="3.7"/>
<circle cx="763.4" cy="478.6" r="3.7"/>
<circle cx="750.3" cy="480.4" r="3.7"/>
<circle cx="716.4" cy="501.7" r="3.7"/>
<circle cx="775.5" cy="512.1" r="3.7"/>
<circle cx="752.2" cy="466.0" r="3.7"/>
<circle cx="715.2" cy="436.1" r="3.7"/>
<circle cx="764.3" cy="494.4" r="3.7"/>
<circle cx="751.9" cy="487.3" r="3.7"/>
<circle cx="774.8" cy="361.1" r="3.7"/>
<circle cx="726.6" cy="496.5" r="3.7"/>
<circle cx="771.2" cy="405.0" r="3.7"/>
<circle cx="800.2" cy="474.0" r="3.7"/>
<circle cx="731.1" cy="415.8" r="3.7"/>
<circle cx="754.3" cy="409.6" r="3.7"/>
<circle cx="793.1" cy="389.9" r="3.7"/>
<circle cx="771.8" cy="435.0" r="3.7"/>
<circle cx="795.6" cy="502.3" r="3.7"/>
<circle cx="801.5" cy="437.5" r="3.7"/>
<circle cx="748.5" cy="510.4" r="3.7"/>
<circle cx="810.8" cy="456.6" r="3.7"/>
<circle cx="740.2" cy="373.6" r="3.7"/>
<circle cx="730.8" cy="376.3" r="3.7"/>
<circle cx="731.7" cy="506.2" r="3.7"/>
<circle cx="747.8" cy="513.2" r="3.7"/>
<circle cx="804.1" cy="459.5" r="3.7"/>
<circle cx="727.6" cy="443.3" r="3.7"/>
<circle cx="765.3" cy="411.6" r="3.7"/>
<circle cx="746.3" cy="434.6" r="3.7"/>
<circle cx="733.1" cy="379.5" r="3.7"/>
<circle cx="770.9" cy="522.1" r="3.7"/>
<circle cx="728.8" cy="486.8" r="3.7"/>
<circle cx="721.8" cy="423.3" r="3.7"/>
<circle cx="800.6" cy="463.6" r="3.7"/>
<circle cx="749.4" cy="467.2" r="3.7"/>
<circle cx="765.9" cy="412.9" r="3.7"/>
<circle cx="836.4" cy="427.9" r="3.7"/>
<circle cx="762.7" cy="485.4" r="3.7"/>
<circle cx="713.3" cy="410.4" r="3.7"/>
<circle cx="810.9" cy="472.7" r="3.7"/>
<circle cx="801.7" cy="469.1" r="3.7"/>
<circle cx="748.2" cy="404.7" r="3.7"/>
<circle cx="811.3" cy="467.1" r="3.7"/>
<circle cx="793.1" cy="505.4" r="3.7"/>
<circle cx="751.2" cy="493.0" r="3.7"/>
<circle cx="808.2" cy="428.4" r="3.7"/>
<circle cx="712.5" cy="404.7" r="3.7"/>
<circle cx="756.5" cy="379.6" r="3.7"/>
<circle cx="731.9" cy="463.6" r="3.7"/>
<circle cx="734.0" cy="465.0" r="3.7"/>
<circle cx="755.8" cy="413.5" r="3.7"/>
<circle cx="753.2" cy="403.4" r="3.7"/>
<circle cx="770.7" cy="460.7" r="3.7"/>
<circle cx="809.9" cy="489.9" r="3.7"/>
<circle cx="723.5" cy="406.3" r="3.7"/>
<circle cx="815.7" cy="427.4" r="3.7"/>
<circle cx="800.0" cy="366.6" r="3.7"/>
<circle cx="815.8" cy="461.4" r="3.7"/>
<circle cx="742.6" cy="419.1" r="3.7"/>
<circle cx="729.5" cy="494.6" r="3.7"/>
<circle cx="782.8" cy="461.6" r="3.7"/>
<circle cx="773.5" cy="383.7" r="3.7"/>
<circle cx="791.5" cy="439.1" r="3.7"/>
<circle cx="790.9" cy="388.1" r="3.7"/>
<circle cx="815.6" cy="478.5" r="3.7"/>
<circle cx="820.5" cy="426.1" r="3.7"/>
<circle cx="722.7" cy="425.0" r="3.7"/>
<circle cx="775.0" cy="499.3" r="3.7"/>
<circle cx="737.9" cy="451.6" r="3.7"/>
<circle cx="704.5" cy="392.4" r="3.7"/>
<circle cx="725.2" cy="498.1" r="3.7"/>
<circle cx="709.0" cy="476.9" r="3.7"/>
<circle cx="777.9" cy="448.2" r="3.7"/>
<circle cx="759.3" cy="450.5" r="3.7"/>
<circle cx="699.0" cy="464.1" r="3.7"/>
<circle cx="821.5" cy="435.6" r="3.7"/>
<circle cx="769.8" cy="478.9" r="3.7"/>
<circle cx="764.9" cy="463.9" r="3.7"/>
<circle cx="764.0" cy="513.6" r="3.7"/>
<circle cx="772.0" cy="377.6" r="3.7"/>
<circle cx="741.9" cy="505.3" r="3.7"/>
<circle cx="720.7" cy="447.4" r="3.7"/>
<circle cx="700.5" cy="503.2" r="3.7"/>
<circle cx="738.5" cy="464.5" r="3.7"/>
<circle cx="727.6" cy="408.6" r="3.7"/>
<circle cx="785.3" cy="397.5" r="3.7"/>
<circle cx="711.8" cy="391.9" r="3.7"/>
<circle cx="738.0" cy="462.3" r="3.7"/>
<circle cx="759.4" cy="500.2" r="3.7"/>
<circle cx="733.5" cy="458.8" r="3.7"/>
<circle cx="697.7" cy="437.5" r="3.7"/>
<circle cx="738.7" cy="387.6" r="3.7"/>
<circle cx="817.6" cy="395.6" r="3.7"/>
<circle cx="700.6" cy="468.9" r="3.7"/>
<circle cx="744.9" cy="510.2" r="3.7"/>
<circle cx="717.0" cy="509.2" r="3.7"/>
<circle cx="724.4" cy="498.6" r="3.7"/>
<circle cx="743.6" cy="472.8" r="3.7"/>
<circle cx="771.7" cy="503.1" r="3.7"/>
<circle cx="746.9" cy="516.8" r="3.7"/>
<circle cx="764.3" cy="481.5" r="3.7"/>
<circle cx="737.8" cy="464.6" r="3.7"/>
<circle cx="807.4" cy="373.9" r="3.7"/>
<circle cx="753.5" cy="365.1" r="3.7"/>
<circle cx="727.2" cy="504.7" r="3.7"/>
<circle cx="703.0" cy="431.9" r="3.7"/>
<circle cx="747.9" cy="432.9" r="3.7"/>
<circle cx="786.1" cy="418.7" r="3.7"/>
<circle cx="720.9" cy="431.1" r="3.7"/>
<circle cx="837.9" cy="437.2" r="3.7"/>
<circle cx="719.3" cy="458.6" r="3.7"/>
<circle cx="746.4" cy="416.9" r="3.7"/>
<circle cx="703.2" cy="451.4" r="3.7"/>
<circle cx="710.0" cy="467.6" r="3.7"/>
<circle cx="751.2" cy="497.9" r="3.7"/>
<circle cx="737.8" cy="403.4" r="3.7"/>
<circle cx="725.2" cy="425.4" r="3.7"/>
<circle cx="809.0" cy="428.7" r="3.7"/>
<circle cx="803.2" cy="494.7" r="3.7"/>
<circle cx="715.2" cy="384.3" r="3.7"/>
<circle cx="728.9" cy="466.4" r="3.7"/>
<circle cx="720.8" cy="446.8" r="3.7"/>
<circle cx="727.8" cy="489.5" r="3.7"/>
<circle cx="808.9" cy="378.0" r="3.7"/>
<circle cx="716.6" cy="487.9" r="3.7"/>
<circle cx="828.9" cy="416.0" r="3.7"/>
<circle cx="703.2" cy="493.9" r="3.7"/>
<circle cx="756.6" cy="470.6" r="3.7"/>
<circle cx="767.5" cy="507.4" r="3.7"/>
<circle cx="735.7" cy="385.7" r="3.7"/>
<circle cx="802.8" cy="484.2" r="3.7"/>
<circle cx="813.0" cy="476.2" r="3.7"/>
<circle cx="738.4" cy="473.3" r="3.7"/>
<circle cx="759.4" cy="365.9" r="3.7"/>
<circle cx="712.1" cy="506.2" r="3.7"/>
<circle cx="720.7" cy="446.5" r="3.7"/>
<circle cx="791.5" cy="460.8" r="3.7"/>
<circle cx="750.2" cy="502.2" r="3.7"/>
<circle cx="753.5" cy="505.6" r="3.7"/>
<circle cx="730.4" cy="440.5" r="3.7"/>
<circle cx="765.3" cy="499.8" r="3.7"/>
<circle cx="782.2" cy="355.3" r="3.7"/>
<circle cx="829.4" cy="441.4" r="3.7"/>
<circle cx="732.3" cy="386.2" r="3.7"/>
<circle cx="812.5" cy="506.9" r="3.7"/>
<circle cx="800.0" cy="431.5" r="3.7"/>
<circle cx="727.9" cy="451.9" r="3.7"/>
<circle cx="739.7" cy="416.9" r="3.7"/>
<circle cx="799.8" cy="520.9" r="3.7"/>
<circle cx="715.3" cy="492.4" r="3.7"/>
<circle cx="830.9" cy="439.7" r="3.7"/>
<circle cx="735.6" cy="429.4" r="3.7"/>
<circle cx="739.9" cy="450.0" r="3.7"/>
<circle cx="784.0" cy="507.9" r="3.7"/>
<circle cx="843.9" cy="421.6" r="3.7"/>
<circle cx="792.9" cy="482.5" r="3.7"/>
<circle cx="794.4" cy="501.2" r="3.7"/>
<circle cx="784.2" cy="401.7" r="3.7"/>
<circle cx="793.2" cy="486.6" r="3.7"/>
<circle cx="798.5" cy="476.5" r="3.7"/>
<circle cx="718.4" cy="462.5" r="3.7"/>
<circle cx="825.3" cy="403.9" r="3.7"/>
<circle cx="752.2" cy="514.4" r="3.7"/>
<circle cx="767.4" cy="412.7" r="3.7"/>
<circle cx="714.9" cy="464.3" r="3.7"/>
<circle cx="693.4" cy="448.8" r="3.7"/>
<circle cx="740.2" cy="406.8" r="3.7"/>
<circle cx="694.4" cy="485.6" r="3.7"/>
<circle cx="722.8" cy="424.6" r="3.7"/>
<circle cx="709.9" cy="510.9" r="3.7"/>
<circle cx="832.4" cy="421.1" r="3.7"/>
<circle cx="774.6" cy="447.0" r="3.7"/>
<circle cx="703.1" cy="408.3" r="3.7"/>
<circle cx="790.0" cy="477.7" r="3.7"/>
<circle cx="742.6" cy="471.8" r="3.7"/>
<circle cx="762.9" cy="354.9" r="3.7"/>
<circle cx="700.7" cy="488.6" r="3.7"/>
<circle cx="753.3" cy="503.3" r="3.7"/>
<circle cx="763.8" cy="454.3" r="3.7"/>
<circle cx="715.4" cy="383.2" r="3.7"/>
<circle cx="837.2" cy="441.8" r="3.7"/>
<circle cx="707.4" cy="513.9" r="3.7"/>
<circle cx="709.1" cy="404.8" r="3.7"/>
<circle cx="732.2" cy="481.6" r="3.7"/>
<circle cx="794.7" cy="421.8" r="3.7"/>
<circle cx="723.7" cy="383.0" r="3.7"/>
<circle cx="709.0" cy="460.2" r="3.7"/>
<circle cx="739.6" cy="495.9" r="3.7"/>
<circle cx="816.2" cy="423.7" r="3.7"/>
<circle cx="797.0" cy="475.8" r="3.7"/>
<circle cx="705.0" cy="450.9" r="3.7"/>
<circle cx="787.8" cy="516.3" r="3.7"/>
<circle cx="747.3" cy="372.3" r="3.7"/>
<circle cx="737.8" cy="432.9" r="3.7"/>
<circle cx="806.3" cy="466.5" r="3.7"/>
<circle cx="829.3" cy="397.2" r="3.7"/>
<circle cx="808.9" cy="501.1" r="3.7"/>
<circle cx="724.6" cy="509.6" r="3.7"/>
<circle cx="702.8" cy="396.7" r="3.7"/>
<circle cx="725.0" cy="411.0" r="3.7"/>
<circle cx="729.4" cy="503.9" r="3.7"/>
<circle cx="753.8" cy="480.2" r="3.7"/>
<circle cx="826.8" cy="496.0" r="3.7"/>
<circle cx="746.9" cy="508.6" r="3.7"/>
<circle cx="707.4" cy="456.3" r="3.7"/>
<circle cx="805.4" cy="483.7" r="3.7"/>
<circle cx="756.1" cy="483.8" r="3.7"/>
<circle cx="825.4" cy="430.9" r="3.7"/>
<circle cx="816.1" cy="407.4" r="3.7"/>
<circle cx="814.0" cy="504.8" r="3.7"/>
<circle cx="728.3" cy="432.5" r="3.7"/>
<circle cx="811.0" cy="381.5" r="3.7"/>
<circle cx="773.0" cy="474.5" r="3.7"/>
<circle cx="773.7" cy="414.2" r="3.7"/>
<circle cx="822.4" cy="464.1" r="3.7"/>
<circle cx="698.9" cy="451.5" r="3.7"/>
<circle cx="724.1" cy="416.1" r="3.7"/>
<circle cx="722.9" cy="424.8" r="3.7"/>
<circle cx="750.3" cy="457.0" r="3.7"/>
<circle cx="816.3" cy="399.0" r="3.7"/>
<circle cx="745.5" cy="370.3" r="3.7"/>
<circle cx="723.6" cy="405.9" r="3.7"/>
<circle cx="716.3" cy="444.5" r="3.7"/>
<circle cx="801.6" cy="520.7" r="3.7"/>
<circle cx="768.7" cy="473.8" r="3.7"/>
<circle cx="756.9" cy="444.4" r="3.7"/>
<circle cx="775.8" cy="462.8" r="3.7"/>
<circle cx="759.3" cy="476.6" r="3.7"/>
<circle cx="720.8" cy="448.2" r="3.7"/>
<circle cx="742.6" cy="373.0" r="3.7"/>
<circle cx="768.3" cy="517.3" r="3.7"/>
<circle cx="735.5" cy="438.9" r="3.7"/>
<circle cx="788.8" cy="430.1" r="3.7"/>
<circle cx="747.6" cy="512.8" r="3.7"/>
<circle cx="764.1" cy="372.7" r="3.7"/>
<circle cx="732.3" cy="515.7" r="3.7"/>
<circle cx="759.6" cy="499.4" r="3.7"/>
<circle cx="742.8" cy="481.5" r="3.7"/>
<circle cx="739.7" cy="372.1" r="3.7"/>
<circle cx="820.3" cy="427.8" r="3.7"/>
<circle cx="739.4" cy="426.5" r="3.7"/>
<circle cx="709.8" cy="412.4" r="3.7"/>
<circle cx="729.6" cy="506.6" r="3.7"/>
<circle cx="818.8" cy="373.7" r="3.7"/>
<circle cx="697.8" cy="456.1" r="3.7"/>
<circle cx="737.9" cy="494.8" r="3.7"/>
<circle cx="752.0" cy="496.7" r="3.7"/>
<circle cx="746.2" cy="416.8" r="3.7"/>
<circle cx="733.3" cy="460.3" r="3.7"/>
<circle cx="790.4" cy="468.9" r="3.7"/>
<circle cx="720.2" cy="426.3" r="3.7"/>
<circle cx="742.3" cy="494.5" r="3.7"/>
<circle cx="812.8" cy="393.4" r="3.7"/>
<circle cx="792.7" cy="427.1" r="3.7"/>
<circle cx="744.0" cy="387.9" r="3.7"/>
<circle cx="738.2" cy="422.9" r="3.7"/>
<circle cx="772.6" cy="513.3" r="3.7"/>
<circle cx="760.1" cy="473.5" r="3.7"/>
<circle cx="755.8" cy="490.1" r="3.7"/>
<circle cx="714.2" cy="431.1" r="3.7"/>
<circle cx="787.4" cy="521.2" r="3.7"/>
<circle cx="839.1" cy="463.4" r="3.7"/>
<circle cx="723.1" cy="442.1" r="3.7"/>
<circle cx="747.0" cy="381.6" r="3.7"/>
<circle cx="808.2" cy="465.6" r="3.7"/>
<circle cx="737.9" cy="447.5" r="3.7"/>
<circle cx="783.2" cy="361.6" r="3.7"/>
<circle cx="788.2" cy="474.8" r="3.7"/>
<circle cx="779.6" cy="515.0" r="3.7"/>
<circle cx="698.6" cy="464.4" r="3.7"/>
<circle cx="816.4" cy="471.5" r="3.7"/>
<circle cx="778.0" cy="503.2" r="3.7"/>
<circle cx="770.0" cy="469.2" r="3.7"/>
<circle cx="809.4" cy="470.3" r="3.7"/>
<circle cx="726.3" cy="415.8" r="3.7"/>
<circle cx="748.8" cy="451.4" r="3.7"/>
<circle cx="812.0" cy="424.6" r="3.7"/>
<circle cx="718.0" cy="463.7" r="3.7"/>
<circle cx="759.0" cy="438.7" r="3.7"/>
<circle cx="730.6" cy="496.5" r="3.7"/>
<circle cx="732.2" cy="479.8" r="3.7"/>
<circle cx="811.3" cy="401.1" r="3.7"/>
<circle cx="731.2" cy="488.3" r="3.7"/>
<circle cx="708.0" cy="408.9" r="3.7"/>
<circle cx="804.5" cy="401.7" r="3.7"/>
<circle cx="762.8" cy="385.6" r="3.7"/>
<circle cx="745.0" cy="493.1" r="3.7"/>
<circle cx="709.5" cy="456.3" r="3.7"/>
<circle cx="705.0" cy="395.4" r="3.7"/>
<circle cx="729.7" cy="504.4" r="3.7"/>
<circle cx="755.3" cy="513.6" r="3.7"/>
<circle cx="768.6" cy="469.8" r="3.7"/>
<circle cx="699.4" cy="444.2" r="3.7"/>
<circle cx="729.4" cy="514.7" r="3.7"/>
<circle cx="754.1" cy="499.9" r="3.7"/>
<circle cx="732.5" cy="428.8" r="3.7"/>
<circle cx="768.2" cy="466.3" r="3.7"/>
<circle cx="702.3" cy="415.9" r="3.7"/>
<circle cx="828.6" cy="456.9" r="3.7"/>
<circle cx="720.8" cy="387.0" r="3.7"/>
<circle cx="705.6" cy="456.1" r="3.7"/>
<circle cx="844.8" cy="432.8" r="3.7"/>
<circle cx="809.4" cy="504.6" r="3.7"/>
<circle cx="720.8" cy="487.4" r="3.7"/>
<circle cx="717.3" cy="497.3" r="3.7"/>
<circle cx="773.0" cy="382.2" r="3.7"/>
<circle cx="726.4" cy="414.3" r="3.7"/>
<circle cx="707.4" cy="422.0" r="3.7"/>
<circle cx="786.5" cy="394.4" r="3.7"/>
<circle cx="773.1" cy="501.2" r="3.7"/>
<circle cx="805.7" cy="444.9" r="3.7"/>
<circle cx="700.3" cy="454.5" r="3.7"/>
<circle cx="715.1" cy="444.1" r="3.7"/>
<circle cx="736.2" cy="401.8" r="3.7"/>
<circle cx="728.1" cy="441.3" r="3.7"/>
<circle cx="784.4" cy="478.7" r="3.7"/>
<circle cx="714.2" cy="473.3" r="3.7"/>
<circle cx="719.8" cy="506.7" r="3.7"/>
<circle cx="720.8" cy="433.7" r="3.7"/>
<circle cx="801.9" cy="485.3" r="3.7"/>
<circle cx="727.0" cy="503.6" r="3.7"/>
<circle cx="718.3" cy="494.9" r="3.7"/>
<circle cx="809.6" cy="398.2" r="3.7"/>
<circle cx="794.3" cy="454.5" r="3.7"/>
<circle cx="809.7" cy="368.6" r="3.7"/>
<circle cx="761.9" cy="495.0" r="3.7"/>
<circle cx="739.6" cy="503.5" r="3.7"/>
<circle cx="817.9" cy="373.7" r="3.7"/>
<circle cx="814.1" cy="463.9" r="3.7"/>
<circle cx="712.3" cy="443.3" r="3.7"/>
<circle cx="741.6" cy="454.1" r="3.7"/>
<circle cx="794.6" cy="510.4" r="3.7"/>
<circle cx="797.8" cy="385.6" r="3.7"/>
<circle cx="766.8" cy="387.8" r="3.7"/>
<circle cx="808.0" cy="481.6" r="3.7"/>
<circle cx="732.5" cy="379.1" r="3.7"/>
<circle cx="793.5" cy="386.6" r="3.7"/>
<circle cx="711.1" cy="446.8" r="3.7"/>
<circle cx="823.8" cy="494.9" r="3.7"/>
<circle cx="715.2" cy="406.1" r="3.7"/>
<circle cx="726.9" cy="466.6" r="3.7"/>
<circle cx="724.4" cy="488.3" r="3.7"/>
<circle cx="776.7" cy="368.8" r="3.7"/>
<circle cx="832.6" cy="440.8" r="3.7"/>
<circle cx="728.5" cy="437.5" r="3.7"/>
<circle cx="779.7" cy="395.8" r="3.7"/>
<circle cx="782.1" cy="423.9" r="3.7"/>
<circle cx="721.4" cy="462.2" r="3.7"/>
<circle cx="702.4" cy="512.4" r="3.7"/>
<circle cx="756.0" cy="377.5" r="3.7"/>
<circle cx="710.1" cy="472.3" r="3.7"/>
<circle cx="840.2" cy="392.7" r="3.7"/>
<circle cx="778.8" cy="497.6" r="3.7"/>
<circle cx="736.1" cy="522.6" r="3.7"/>
<circle cx="742.4" cy="467.3" r="3.7"/>
<circle cx="773.3" cy="520.1" r="3.7"/>
<circle cx="721.9" cy="410.3" r="3.7"/>
<circle cx="781.6" cy="503.9" r="3.7"/>
<circle cx="776.9" cy="449.0" r="3.7"/>
<circle cx="708.9" cy="389.6" r="3.7"/>
<circle cx="731.1" cy="387.5" r="3.7"/>
<circle cx="732.9" cy="477.4" r="3.7"/>
<circle cx="769.1" cy="470.8" r="3.7"/>
<circle cx="702.6" cy="431.3" r="3.7"/>
<circle cx="709.5" cy="460.1" r="3.7"/>
<circle cx="716.7" cy="425.6" r="3.7"/>
<circle cx="766.5" cy="387.5" r="3.7"/>
<circle cx="775.1" cy="409.3" r="3.7"/>
<circle cx="793.7" cy="377.5" r="3.7"/>
<circle cx="719.1" cy="519.4" r="3.7"/>
<circle cx="804.5" cy="521.5" r="3.7"/>
<circle cx="758.7" cy="452.9" r="3.7"/>
<circle cx="765.7" cy="466.4" r="3.7"/>
<circle cx="817.7" cy="498.3" r="3.7"/>
<circle cx="708.8" cy="488.2" r="3.7"/>
<circle cx="749.2" cy="507.9" r="3.7"/>
<circle cx="707.2" cy="461.3" r="3.7"/>
<circle cx="753.2" cy="497.3" r="3.7"/>
<circle cx="810.7" cy="381.9" r="3.7"/>
<circle cx="719.0" cy="478.6" r="3.7"/>
<circle cx="808.7" cy="391.7" r="3.7"/>
<circle cx="765.1" cy="480.7" r="3.7"/>
<circle cx="720.1" cy="515.0" r="3.7"/>
<circle cx="801.4" cy="438.5" r="3.7"/>
<circle cx="778.8" cy="425.1" r="3.7"/>
<circle cx="811.0" cy="493.1" r="3.7"/>
<circle cx="721.4" cy="460.0" r="3.7"/>
<circle cx="843.6" cy="426.6" r="3.7"/>
<circle cx="803.0" cy="360.9" r="3.7"/>
<circle cx="816.1" cy="378.8" r="3.7"/>
<circle cx="780.9" cy="524.4" r="3.7"/>
<circle cx="746.9" cy="512.2" r="3.7"/>
<circle cx="798.8" cy="514.2" r="3.7"/>
<circle cx="778.4" cy="398.4" r="3.7"/>
<circle cx="748.2" cy="504.5" r="3.7"/>
<circle cx="747.0" cy="485.9" r="3.7"/>
<circle cx="711.9" cy="496.7" r="3.7"/>
<circle cx="756.6" cy="484.0" r="3.7"/>
<circle cx="718.6" cy="488.7" r="3.7"/>
<circle cx="750.6" cy="420.7" r="3.7"/>
<circle cx="771.1" cy="499.9" r="3.7"/>
<circle cx="765.8" cy="504.2" r="3.7"/>
<circle cx="758.2" cy="384.9" r="3.7"/>
<circle cx="762.7" cy="432.0" r="3.7"/>
<circle cx="707.6" cy="461.7" r="3.7"/>
<circle cx="805.2" cy="454.8" r="3.7"/>
<circle cx="736.3" cy="500.2" r="3.7"/>
<circle cx="830.9" cy="463.8" r="3.7"/>
<circle cx="820.9" cy="381.4" r="3.7"/>
<circle cx="827.9" cy="391.7" r="3.7"/>
<circle cx="723.8" cy="470.5" r="3.7"/>
<circle cx="712.6" cy="449.7" r="3.7"/>
<circle cx="730.1" cy="390.8" r="3.7"/>
<circle cx="739.5" cy="487.1" r="3.7"/>
<circle cx="715.5" cy="462.8" r="3.7"/>
<circle cx="747.1" cy="497.2" r="3.7"/>
<circle cx="716.0" cy="463.3" r="3.7"/>
<circle cx="713.4" cy="497.3" r="3.7"/>
<circle cx="754.1" cy="409.3" r="3.7"/>
<circle cx="730.1" cy="398.1" r="3.7"/>
<circle cx="826.0" cy="422.9" r="3.7"/>
<circle cx="713.0" cy="458.0" r="3.7"/>
<circle cx="725.0" cy="465.2" r="3.7"/>
<circle cx="706.7" cy="458.1" r="3.7"/>
<circle cx="710.4" cy="420.6" r="3.7"/>
<circle cx="737.0" cy="418.5" r="3.7"/>
<circle cx="763.6" cy="466.7" r="3.7"/>
<circle cx="715.2" cy="486.8" r="3.7"/>
<circle cx="803.8" cy="404.4" r="3.7"/>
<circle cx="751.8" cy="526.6" r="3.7"/>
<circle cx="753.3" cy="415.6" r="3.7"/>
<circle cx="724.8" cy="385.0" r="3.7"/>
<circle cx="715.4" cy="419.5" r="3.7"/>
<circle cx="716.6" cy="399.3" r="3.7"/>
<circle cx="717.0" cy="447.7" r="3.7"/>
<circle cx="727.6" cy="463.6" r="3.7"/>
<circle cx="742.9" cy="372.2" r="3.7"/>
<circle cx="696.5" cy="478.1" r="3.7"/>
<circle cx="792.5" cy="503.4" r="3.7"/>
<circle cx="837.3" cy="430.5" r="3.7"/>
<circle cx="811.2" cy="445.0" r="3.7"/>
<circle cx="742.3" cy="472.6" r="3.7"/>
<circle cx="715.3" cy="404.9" r="3.7"/>
<circle cx="791.2" cy="359.7" r="3.7"/>
<circle cx="790.8" cy="506.6" r="3.7"/>
<circle cx="795.2" cy="485.0" r="3.7"/>
<circle cx="787.1" cy="468.5" r="3.7"/>
<circle cx="840.4" cy="416.8" r="3.7"/>
<circle cx="745.6" cy="376.9" r="3.7"/>
<circle cx="732.6" cy="419.7" r="3.7"/>
<circle cx="726.6" cy="385.5" r="3.7"/>
<circle cx="750.7" cy="412.9" r="3.7"/>
<circle cx="845.1" cy="436.8" r="3.7"/>
<circle cx="731.3" cy="453.2" r="3.7"/>
<circle cx="766.6" cy="395.8" r="3.7"/>
<circle cx="799.9" cy="508.8" r="3.7"/>
<circle cx="740.9" cy="458.4" r="3.7"/>
<circle cx="739.9" cy="390.2" r="3.7"/>
<circle cx="818.1" cy="396.1" r="3.7"/>
<circle cx="786.3" cy="513.6" r="3.7"/>
<circle cx="818.6" cy="448.9" r="3.7"/>
<circle cx="797.4" cy="478.0" r="3.7"/>
<circle cx="730.8" cy="514.8" r="3.7"/>
<circle cx="707.9" cy="458.3" r="3.7"/>
<circle cx="696.9" cy="495.4" r="3.7"/>
<circle cx="697.8" cy="392.9" r="3.7"/>
<circle cx="710.4" cy="438.7" r="3.7"/>
<circle cx="736.9" cy="482.8" r="3.7"/>
<circle cx="753.7" cy="381.4" r="3.7"/>
<circle cx="707.2" cy="476.2" r="3.7"/>
<circle cx="801.2" cy="382.8" r="3.7"/>
<circle cx="738.7" cy="419.9" r="3.7"/>
<circle cx="775.0" cy="498.0" r="3.7"/>
<circle cx="758.6" cy="438.2" r="3.7"/>
<circle cx="800.8" cy="496.1" r="3.7"/>
<circle cx="745.6" cy="370.0" r="3.7"/>
<circle cx="726.9" cy="487.3" r="3.7"/>
<circle cx="704.1" cy="451.4" r="3.7"/>
<circle cx="810.0" cy="462.1" r="3.7"/>
<circle cx="772.0" cy="460.2" r="3.7"/>
<circle cx="709.5" cy="497.0" r="3.7"/>
<circle cx="728.1" cy="426.7" r="3.7"/>
<circle cx="741.7" cy="379.6" r="3.7"/>
<circle cx="804.6" cy="493.5" r="3.7"/>
<circle cx="814.3" cy="389.4" r="3.7"/>
<circle cx="740.2" cy="503.7" r="3.7"/>
<circle cx="772.8" cy="418.9" r="3.7"/>
<circle cx="809.9" cy="447.6" r="3.7"/>
<circle cx="813.1" cy="451.3" r="3.7"/>
<circle cx="822.3" cy="385.4" r="3.7"/>
<circle cx="729.7" cy="391.8" r="3.7"/>
<circle cx="781.3" cy="417.0" r="3.7"/>
<circle cx="718.7" cy="480.3" r="3.7"/>
<circle cx="747.9" cy="418.7" r="3.7"/>
<circle cx="764.9" cy="434.5" r="3.7"/>
<circle cx="774.3" cy="473.8" r="3.7"/>
<circle cx="757.0" cy="473.8" r="3.7"/>
<circle cx="780.2" cy="500.8" r="3.7"/>
<circle cx="818.6" cy="401.7" r="3.7"/>
<circle cx="738.5" cy="475.2" r="3.7"/>
<circle cx="718.7" cy="487.8" r="3.7"/>
<circle cx="769.0" cy="522.0" r="3.7"/>
<circle cx="807.9" cy="459.6" r="3.7"/>
<circle cx="716.9" cy="499.5" r="3.7"/>
<circle cx="795.7" cy="491.0" r="3.7"/>
<circle cx="824.7" cy="406.0" r="3.7"/>
<circle cx="737.6" cy="463.8" r="3.7"/>
<circle cx="748.8" cy="442.8" r="3.7"/>
<circle cx="759.4" cy="473.7" r="3.7"/>
<circle cx="739.8" cy="369.9" r="3.7"/>
<circle cx="784.7" cy="433.7" r="3.7"/>
<circle cx="754.4" cy="469.3" r="3.7"/>
<circle cx="802.1" cy="490.5" r="3.7"/>
<circle cx="754.0" cy="488.0" r="3.7"/>
<circle cx="750.9" cy="504.0" r="3.7"/>
<circle cx="743.8" cy="378.6" r="3.7"/>
<circle cx="743.5" cy="485.3" r="3.7"/>
<circle cx="818.5" cy="473.9" r="3.7"/>
<circle cx="726.6" cy="528.4" r="3.7"/>
<circle cx="769.5" cy="485.3" r="3.7"/>
<circle cx="743.4" cy="475.4" r="3.7"/>
<circle cx="706.8" cy="513.6" r="3.7"/>
<circle cx="788.5" cy="512.1" r="3.7"/>
<circle cx="716.3" cy="409.4" r="3.7"/>
<circle cx="763.4" cy="408.7" r="3.7"/>
<circle cx="784.4" cy="498.1" r="3.7"/>
<circle cx="725.9" cy="485.3" r="3.7"/>
<circle cx="739.2" cy="379.5" r="3.7"/>
<circle cx="785.4" cy="474.5" r="3.7"/>
<circle cx="813.7" cy="449.6" r="3.7"/>
<circle cx="710.6" cy="430.1" r="3.7"/>
<circle cx="782.8" cy="477.0" r="3.7"/>
<circle cx="771.8" cy="499.8" r="3.7"/>
<circle cx="785.7" cy="467.7" r="3.7"/>
<circle cx="750.4" cy="499.2" r="3.7"/>
<circle cx="803.5" cy="436.4" r="3.7"/>
<circle cx="770.8" cy="362.9" r="3.7"/>
<circle cx="794.7" cy="456.2" r="3.7"/>
<circle cx="727.0" cy="470.6" r="3.7"/>
<circle cx="806.8" cy="383.2" r="3.7"/>
<circle cx="730.8" cy="460.5" r="3.7"/>
<circle cx="835.3" cy="425.2" r="3.7"/>
<circle cx="708.7" cy="448.7" r="3.7"/>
<circle cx="789.6" cy="459.9" r="3.7"/>
<circle cx="772.3" cy="457.3" r="3.7"/>
<circle cx="697.3" cy="490.1" r="3.7"/>
<circle cx="703.1" cy="485.7" r="3.7"/>
<circle cx="739.7" cy="383.1" r="3.7"/>
<circle cx="805.1" cy="420.9" r="3.7"/>
<circle cx="728.0" cy="397.0" r="3.7"/>
<circle cx="789.8" cy="490.1" r="3.7"/>
<circle cx="754.1" cy="495.0" r="3.7"/>
<circle cx="773.1" cy="477.9" r="3.7"/>
<circle cx="766.6" cy="473.0" r="3.7"/>
<circle cx="707.8" cy="431.5" r="3.7"/>
<circle cx="699.7" cy="411.6" r="3.7"/>
<circle cx="723.8" cy="442.3" r="3.7"/>
<circle cx="778.5" cy="516.6" r="3.7"/>
<circle cx="799.0" cy="354.2" r="3.7"/>
<circle cx="726.4" cy="466.2" r="3.7"/>
<circle cx="714.8" cy="430.6" r="3.7"/>
<circle cx="761.2" cy="495.0" r="3.7"/>
<circle cx="712.4" cy="429.1" r="3.7"/>
<circle cx="755.7" cy="445.5" r="3.7"/>
<circle cx="799.3" cy="460.2" r="3.7"/>
<circle cx="749.0" cy="491.1" r="3.7"/>
<circle cx="826.3" cy="472.2" r="3.7"/>
<circle cx="760.0" cy="500.9" r="3.7"/>
<circle cx="714.1" cy="486.6" r="3.7"/>
<circle cx="717.0" cy="440.1" r="3.7"/>
<circle cx="792.3" cy="349.6" r="3.7"/>
<circle cx="725.2" cy="381.2" r="3.7"/>
<circle cx="743.6" cy="495.2" r="3.7"/>
<circle cx="726.9" cy="486.5" r="3.7"/>
<circle cx="704.1" cy="439.2" r="3.7"/>
<circle cx="721.4" cy="393.6" r="3.7"/>
<circle cx="726.9" cy="407.9" r="3.7"/>
<circle cx="765.6" cy="364.7" r="3.7"/>
<circle cx="736.7" cy="409.9" r="3.7"/>
<circle cx="743.7" cy="472.0" r="3.7"/>
<circle cx="790.7" cy="523.4" r="3.7"/>
<circle cx="800.2" cy="487.3" r="3.7"/>
<circle cx="706.8" cy="459.7" r="3.7"/>
<circle cx="804.4" cy="470.5" r="3.7"/>
<circle cx="728.9" cy="409.6" r="3.7"/>
<circle cx="834.1" cy="448.9" r="3.7"/>
<circle cx="773.9" cy="374.8" r="3.7"/>
<circle cx="711.3" cy="455.7" r="3.7"/>
<circle cx="729.9" cy="395.4" r="3.7"/>
<circle cx="749.1" cy="461.7" r="3.7"/>
<circle cx="773.1" cy="511.2" r="3.7"/>
<circle cx="717.9" cy="507.4" r="3.7"/>
<circle cx="721.9" cy="455.8" r="3.7"/>
<circle cx="844.2" cy="423.6" r="3.7"/>
<circle cx="794.9" cy="423.7" r="3.7"/>
<circle cx="800.3" cy="481.8" r="3.7"/>
<circle cx="707.7" cy="388.9" r="3.7"/>
<circle cx="842.9" cy="451.3" r="3.7"/>
<circle cx="708.7" cy="391.8" r="3.7"/>
<circle cx="789.9" cy="490.8" r="3.7"/>
<circle cx="749.8" cy="366.6" r="3.7"/>
<circle cx="776.8" cy="365.7" r="3.7"/>
<circle cx="740.2" cy="449.9" r="3.7"/>
<circle cx="762.5" cy="281.4" r="3.7"/>
<circle cx="781.2" cy="293.3" r="3.7"/>
<circle cx="785.0" cy="312.7" r="3.7"/>
<circle cx="817.7" cy="309.5" r="3.7"/>
<circle cx="806.2" cy="316.8" r="3.7"/>
<circle cx="652.1" cy="312.2" r="3.7"/>
<circle cx="685.4" cy="308.1" r="3.7"/>
<circle cx="718.1" cy="305.4" r="3.7"/>
<circle cx="746.5" cy="307.7" r="3.7"/>
<circle cx="691.7" cy="326.8" r="3.7"/>
<circle cx="697.9" cy="332.9" r="3.7"/>
<circle cx="743.1" cy="325.6" r="3.7"/>
<circle cx="755.2" cy="326.8" r="3.7"/>
<circle cx="765.0" cy="326.8" r="3.7"/>
<circle cx="775.4" cy="325.2" r="3.7"/>
<circle cx="783.8" cy="327.7" r="3.7"/>
<circle cx="750.4" cy="333.5" r="3.7"/>
<circle cx="755.2" cy="333.9" r="3.7"/>
<circle cx="765.6" cy="335.2" r="3.7"/>
<circle cx="774.0" cy="333.5" r="3.7"/>
<circle cx="726.0" cy="339.8" r="3.7"/>
<circle cx="696.2" cy="343.3" r="3.7"/>
<circle cx="707.3" cy="342.9" r="3.7"/>
<circle cx="707.3" cy="347.0" r="3.7"/>
<circle cx="809.0" cy="342.5" r="3.7"/>
<circle cx="688.5" cy="352.7" r="3.7"/>
<circle cx="723.3" cy="352.7" r="3.7"/>
<circle cx="743.8" cy="351.2" r="3.7"/>
<circle cx="758.3" cy="351.2" r="3.7"/>
<circle cx="762.9" cy="351.2" r="3.7"/>
<circle cx="775.0" cy="351.2" r="3.7"/>
<circle cx="703.5" cy="357.0" r="3.7"/>
<circle cx="650.4" cy="359.1" r="3.7"/>
<circle cx="719.2" cy="363.3" r="3.7"/>
<circle cx="630.6" cy="373.1" r="3.7"/>
<circle cx="636.5" cy="401.2" r="3.7"/>
<circle cx="825.9" cy="281.4" r="3.7"/>
<circle cx="863.4" cy="326.6" r="3.7"/>
<circle cx="834.8" cy="352.7" r="3.7"/>
<circle cx="848.4" cy="377.2" r="3.7"/>
<circle cx="861.5" cy="385.6" r="3.7"/>
<circle cx="873.0" cy="393.5" r="3.7"/>
<circle cx="818.2" cy="391.8" r="3.7"/>
<circle cx="818.2" cy="397.0" r="3.7"/>
<circle cx="849.8" cy="434.4" r="3.7"/>
<circle cx="869.8" cy="442.7" r="3.7"/>
<circle cx="861.5" cy="442.9" r="3.7"/>
<circle cx="862.3" cy="459.6" r="3.7"/>
<circle cx="889.0" cy="472.9" r="3.7"/>
<circle cx="894.2" cy="470.8" r="3.7"/>
<circle cx="842.8" cy="481.5" r="3.7"/>
<circle cx="848.0" cy="490.2" r="3.7"/>
<circle cx="873.4" cy="490.8" r="3.7"/>
<circle cx="879.2" cy="492.9" r="3.7"/>
<circle cx="878.2" cy="502.9" r="3.7"/>
<circle cx="848.4" cy="501.0" r="3.7"/>
<circle cx="857.1" cy="520.8" r="3.7"/>
<circle cx="894.2" cy="517.3" r="3.7"/>
<circle cx="874.8" cy="522.5" r="3.7"/>
<circle cx="838.0" cy="527.1" r="3.7"/>
<circle cx="841.1" cy="528.1" r="3.7"/>
<circle cx="928.0" cy="529.4" r="3.7"/>
<circle cx="901.1" cy="539.8" r="3.7"/>
<circle cx="884.2" cy="536.5" r="3.7"/>
<circle cx="836.9" cy="535.0" r="3.7"/>
<circle cx="846.9" cy="540.8" r="3.7"/>
<circle cx="861.5" cy="545.6" r="3.7"/>
<circle cx="836.5" cy="549.2" r="3.7"/>
<circle cx="819.2" cy="522.1" r="3.7"/>
<circle cx="818.2" cy="528.1" r="3.7"/>
<circle cx="835.2" cy="559.4" r="3.7"/>
<circle cx="843.8" cy="557.9" r="3.7"/>
<circle cx="880.7" cy="555.8" r="3.7"/>
<circle cx="816.1" cy="566.2" r="3.7"/>
<circle cx="818.6" cy="581.9" r="3.7"/>
<circle cx="824.8" cy="581.2" r="3.7"/>
<circle cx="636.5" cy="402.1" r="3.7"/>
<circle cx="659.0" cy="408.3" r="3.7"/>
<circle cx="660.4" cy="415.6" r="3.7"/>
<circle cx="666.2" cy="421.9" r="3.7"/>
<circle cx="651.0" cy="437.1" r="3.7"/>
<circle cx="659.4" cy="441.7" r="3.7"/>
<circle cx="637.5" cy="446.9" r="3.7"/>
<circle cx="651.0" cy="453.8" r="3.7"/>
<circle cx="657.7" cy="457.9" r="3.7"/>
<circle cx="628.1" cy="469.8" r="3.7"/>
<circle cx="646.2" cy="477.7" r="3.7"/>
<circle cx="654.2" cy="473.5" r="3.7"/>
<circle cx="667.7" cy="484.4" r="3.7"/>
<circle cx="665.0" cy="497.9" r="3.7"/>
<circle cx="674.4" cy="505.2" r="3.7"/>
<circle cx="683.3" cy="513.5" r="3.7"/>
<circle cx="664.2" cy="515.2" r="3.7"/>
<circle cx="671.2" cy="522.3" r="3.7"/>
<circle cx="680.6" cy="522.9" r="3.7"/>
<circle cx="624.6" cy="526.5" r="3.7"/>
<circle cx="692.1" cy="527.1" r="3.7"/>
<circle cx="701.5" cy="527.5" r="3.7"/>
<circle cx="702.1" cy="536.5" r="3.7"/>
<circle cx="707.3" cy="537.5" r="3.7"/>
<circle cx="712.9" cy="534.8" r="3.7"/>
<circle cx="716.7" cy="544.4" r="3.7"/>
<circle cx="729.6" cy="537.5" r="3.7"/>
<circle cx="676.0" cy="547.9" r="3.7"/>
<circle cx="704.2" cy="553.5" r="3.7"/>
<circle cx="720.4" cy="557.7" r="3.7"/>
<circle cx="729.6" cy="555.2" r="3.7"/>
<circle cx="714.2" cy="567.7" r="3.7"/>
<circle cx="720.4" cy="565.2" r="3.7"/>
<circle cx="665.2" cy="572.3" r="3.7"/>
<circle cx="736.9" cy="576.5" r="3.7"/>
<circle cx="739.6" cy="551.5" r="3.7"/>
<circle cx="745.8" cy="554.2" r="3.7"/>
<circle cx="749.6" cy="553.1" r="3.7"/>
<circle cx="752.1" cy="543.8" r="3.7"/>
<circle cx="743.8" cy="535.4" r="3.7"/>
<circle cx="745.8" cy="541.7" r="3.7"/>
<circle cx="761.5" cy="551.5" r="3.7"/>
<circle cx="765.6" cy="551.7" r="3.7"/>
<circle cx="768.3" cy="562.1" r="3.7"/>
<circle cx="774.4" cy="558.8" r="3.7"/>
<circle cx="776.7" cy="547.9" r="3.7"/>
<circle cx="788.5" cy="578.5" r="3.7"/>
<circle cx="801.5" cy="571.2" r="3.7"/>
<circle cx="802.1" cy="604.6" r="3.7"/>
<circle cx="809.0" cy="561.9" r="3.7"/>
<circle cx="815.6" cy="566.0" r="3.7"/>
<circle cx="817.7" cy="581.9" r="3.7"/>
<circle cx="742.7" cy="525.6" r="3.7"/>
<circle cx="757.7" cy="531.7" r="3.7"/>
<circle cx="768.8" cy="535.4" r="3.7"/>
<circle cx="778.5" cy="531.7" r="3.7"/>
<circle cx="780.2" cy="526.5" r="3.7"/>
<circle cx="786.5" cy="541.7" r="3.7"/>
<circle cx="791.7" cy="545.8" r="3.7"/>
<circle cx="796.9" cy="541.7" r="3.7"/>
<circle cx="803.1" cy="549.0" r="3.7"/>
<circle cx="808.3" cy="540.6" r="3.7"/>
<circle cx="808.3" cy="528.1" r="3.7"/>
<circle cx="802.1" cy="526.5" r="3.7"/>
<circle cx="793.1" cy="516.7" r="3.7"/>
<circle cx="783.3" cy="515.6" r="3.7"/>
<circle cx="691.8" cy="327.3" r="3.7"/>
<circle cx="698.0" cy="333.0" r="3.7"/>
<circle cx="743.4" cy="325.7" r="3.7"/>
<circle cx="753.6" cy="329.1" r="3.7"/>
<circle cx="765.0" cy="326.4" r="3.7"/>
<circle cx="775.9" cy="325.0" r="3.7"/>
<circle cx="783.2" cy="328.0" r="3.7"/>
<circle cx="751.4" cy="334.1" r="3.7"/>
<circle cx="765.0" cy="335.5" r="3.7"/>
<circle cx="774.1" cy="334.1" r="3.7"/>
<circle cx="726.4" cy="340.5" r="3.7"/>
<circle cx="796.8" cy="342.7" r="3.7"/>
<circle cx="808.6" cy="342.3" r="3.7"/>
<circle cx="863.9" cy="326.4" r="3.7"/>
<circle cx="695.7" cy="343.4" r="3.7"/>
<circle cx="707.0" cy="342.7" r="3.7"/>
<circle cx="707.7" cy="346.8" r="3.7"/>
<circle cx="723.6" cy="353.0" r="3.7"/>
<circle cx="743.4" cy="351.4" r="3.7"/>
<circle cx="757.7" cy="350.7" r="3.7"/>
<circle cx="762.7" cy="351.8" r="3.7"/>
<circle cx="774.1" cy="351.8" r="3.7"/>
<circle cx="650.2" cy="359.1" r="3.7"/>
<circle cx="687.7" cy="353.0" r="3.7"/>
<circle cx="703.6" cy="356.8" r="3.7"/>
<circle cx="719.5" cy="363.2" r="3.7"/>
<circle cx="730.9" cy="363.2" r="3.7"/>
<circle cx="740.0" cy="358.6" r="3.7"/>
<circle cx="753.2" cy="360.5" r="3.7"/>
<circle cx="861.6" cy="385.9" r="3.7"/>
<circle cx="873.0" cy="393.2" r="3.7"/>
<circle cx="869.5" cy="442.7" r="3.7"/>
<circle cx="860.5" cy="429.1" r="3.7"/>
<circle cx="849.1" cy="433.6" r="3.7"/>
<circle cx="860.5" cy="458.6" r="3.7"/>
<circle cx="852.5" cy="467.7" r="3.7"/>
<circle cx="888.9" cy="473.4" r="3.7"/>
<circle cx="894.1" cy="471.1" r="3.7"/>
<circle cx="874.1" cy="491.6" r="3.7"/>
<circle cx="879.8" cy="492.7" r="3.7"/>
<circle cx="877.5" cy="501.8" r="3.7"/>
<circle cx="893.4" cy="516.6" r="3.7"/>
<circle cx="884.3" cy="537.0" r="3.7"/>
<circle cx="875.2" cy="522.3" r="3.7"/>
<circle cx="860.5" cy="545.0" r="3.7"/>
<circle cx="846.8" cy="540.5" r="3.7"/>
<circle cx="836.6" cy="534.8" r="3.7"/>
<circle cx="840.0" cy="526.8" r="3.7"/>
<circle cx="821.8" cy="525.7" r="3.7"/>
<circle cx="842.3" cy="481.4" r="3.7"/>
<circle cx="849.1" cy="500.7" r="3.7"/>
<circle cx="812.7" cy="510.9" r="3.7"/>
<circle cx="810.5" cy="529.1" r="3.7"/>
<circle cx="819.5" cy="531.4" r="3.7"/>
<circle cx="801.4" cy="535.9" r="3.7"/>
<circle cx="790.0" cy="538.2" r="3.7"/>
<circle cx="796.8" cy="543.9" r="3.7"/>
<circle cx="799.1" cy="547.3" r="3.7"/>
<circle cx="808.2" cy="539.3" r="3.7"/>
<circle cx="803.6" cy="549.5" r="3.7"/>
<circle cx="785.5" cy="549.5" r="3.7"/>
<circle cx="767.3" cy="551.8" r="3.7"/>
<circle cx="762.7" cy="551.8" r="3.7"/>
<circle cx="755.9" cy="533.6" r="3.7"/>
<circle cx="746.8" cy="533.6" r="3.7"/>
<circle cx="745.0" cy="545.0" r="3.7"/>
<circle cx="737.7" cy="549.5" r="3.7"/>
<circle cx="730.5" cy="554.1" r="3.7"/>
<circle cx="719.5" cy="555.2" r="3.7"/>
<circle cx="704.8" cy="553.0" r="3.7"/>
<circle cx="729.8" cy="537.0" r="3.7"/>
<circle cx="716.6" cy="543.9" r="3.7"/>
<circle cx="699.1" cy="535.9" r="3.7"/>
<circle cx="705.9" cy="535.9" r="3.7"/>
<circle cx="710.5" cy="533.6" r="3.7"/>
<circle cx="692.3" cy="526.8" r="3.7"/>
<circle cx="701.4" cy="526.8" r="3.7"/>
<circle cx="676.4" cy="547.3" r="3.7"/>
<circle cx="679.8" cy="522.3" r="3.7"/>
<circle cx="671.8" cy="522.3" r="3.7"/>
<circle cx="663.9" cy="515.5" r="3.7"/>
<circle cx="674.1" cy="504.5" r="3.7"/>
<circle cx="683.2" cy="513.2" r="3.7"/>
<circle cx="688.9" cy="508.2" r="3.7"/>
<circle cx="665.0" cy="498.4" r="3.7"/>
<circle cx="667.3" cy="483.6" r="3.7"/>
<circle cx="675.2" cy="479.1" r="3.7"/>
<circle cx="677.5" cy="476.8" r="3.7"/>
<circle cx="670.7" cy="465.5" r="3.7"/>
<circle cx="676.4" cy="468.9" r="3.7"/>
<circle cx="685.0" cy="472.3" r="3.7"/>
<circle cx="687.3" cy="468.9" r="3.7"/>
<circle cx="646.4" cy="476.8" r="3.7"/>
<circle cx="654.1" cy="473.4" r="3.7"/>
<circle cx="650.2" cy="453.0" r="3.7"/>
<circle cx="657.7" cy="457.5" r="3.7"/>
<circle cx="651.4" cy="437.0" r="3.7"/>
<circle cx="658.2" cy="408.6" r="3.7"/>
<circle cx="663.9" cy="401.8" r="3.7"/>
<circle cx="676.4" cy="368.9" r="3.7"/>
<circle cx="674.1" cy="374.5" r="3.7"/>
<circle cx="696.8" cy="371.1" r="3.7"/>
<circle cx="708.2" cy="366.6" r="3.7"/>
<circle cx="715.0" cy="372.3" r="3.7"/>
<circle cx="724.1" cy="374.5" r="3.7"/>
<circle cx="767.3" cy="558.6" r="3.7"/>
<circle cx="835.0" cy="352.4" r="3.7"/>
<circle cx="848.6" cy="377.1" r="3.7"/>
<circle cx="861.5" cy="385.5" r="3.7"/>
<circle cx="872.9" cy="393.3" r="3.7"/>
<circle cx="817.6" cy="391.5" r="3.7"/>
<circle cx="819.1" cy="397.6" r="3.7"/>
<circle cx="832.7" cy="409.7" r="3.7"/>
<circle cx="838.0" cy="412.7" r="3.7"/>
<circle cx="846.4" cy="409.7" r="3.7"/>
<circle cx="842.6" cy="427.1" r="3.7"/>
<circle cx="850.2" cy="433.9" r="3.7"/>
<circle cx="860.0" cy="429.4" r="3.7"/>
<circle cx="861.5" cy="442.3" r="3.7"/>
<circle cx="869.8" cy="443.0" r="3.7"/>
<circle cx="859.2" cy="459.7" r="3.7"/>
<circle cx="862.3" cy="459.7" r="3.7"/>
<circle cx="855.5" cy="467.3" r="3.7"/>
<circle cx="843.3" cy="462.7" r="3.7"/>
<circle cx="831.2" cy="474.1" r="3.7"/>
<circle cx="841.8" cy="480.9" r="3.7"/>
<circle cx="888.8" cy="473.3" r="3.7"/>
<circle cx="894.8" cy="470.3" r="3.7"/>
<circle cx="873.6" cy="491.5" r="3.7"/>
<circle cx="878.9" cy="493.0" r="3.7"/>
<circle cx="825.2" cy="461.2" r="3.7"/>
<circle cx="817.6" cy="471.8" r="3.7"/>
<circle cx="814.5" cy="476.4" r="3.7"/>
<circle cx="820.6" cy="480.9" r="3.7"/>
<circle cx="828.2" cy="480.9" r="3.7"/>
<circle cx="829.7" cy="485.5" r="3.7"/>
<circle cx="834.2" cy="493.8" r="3.7"/>
<circle cx="696.1" cy="343.0" r="3.7"/>
<circle cx="706.7" cy="342.3" r="3.7"/>
<circle cx="706.7" cy="346.8" r="3.7"/>
<circle cx="726.4" cy="341.5" r="3.7"/>
<circle cx="723.3" cy="352.9" r="3.7"/>
<circle cx="650.3" cy="359.2" r="3.7"/>
<circle cx="688.5" cy="352.1" r="3.7"/>
<circle cx="687.7" cy="358.9" r="3.7"/>
<circle cx="703.6" cy="357.4" r="3.7"/>
<circle cx="707.4" cy="365.8" r="3.7"/>
<circle cx="710.5" cy="365.8" r="3.7"/>
<circle cx="719.5" cy="363.5" r="3.7"/>
<circle cx="727.9" cy="361.2" r="3.7"/>
<circle cx="738.5" cy="358.2" r="3.7"/>
<circle cx="677.1" cy="369.5" r="3.7"/>
<circle cx="674.1" cy="375.6" r="3.7"/>
<circle cx="690.0" cy="371.1" r="3.7"/>
<circle cx="693.8" cy="374.1" r="3.7"/>
<circle cx="697.6" cy="368.0" r="3.7"/>
<circle cx="699.1" cy="376.4" r="3.7"/>
<circle cx="710.5" cy="374.8" r="3.7"/>
<circle cx="717.3" cy="372.6" r="3.7"/>
<circle cx="724.1" cy="374.8" r="3.7"/>
<circle cx="733.9" cy="370.3" r="3.7"/>
<circle cx="737.0" cy="376.4" r="3.7"/>
<circle cx="672.6" cy="386.2" r="3.7"/>
<circle cx="677.1" cy="385.5" r="3.7"/>
<circle cx="683.9" cy="384.7" r="3.7"/>
<circle cx="688.5" cy="387.0" r="3.7"/>
<circle cx="693.8" cy="390.0" r="3.7"/>
<circle cx="699.1" cy="386.2" r="3.7"/>
<circle cx="705.2" cy="387.7" r="3.7"/>
<circle cx="711.2" cy="385.5" r="3.7"/>
<circle cx="715.8" cy="383.9" r="3.7"/>
<circle cx="721.8" cy="383.9" r="3.7"/>
<circle cx="679.4" cy="391.5" r="3.7"/>
<circle cx="700.6" cy="394.5" r="3.7"/>
<circle cx="724.8" cy="388.5" r="3.7"/>
<circle cx="730.9" cy="385.5" r="3.7"/>
<circle cx="665.8" cy="400.6" r="3.7"/>
<circle cx="658.9" cy="408.2" r="3.7"/>
<circle cx="665.0" cy="409.7" r="3.7"/>
<circle cx="672.6" cy="402.1" r="3.7"/>
<circle cx="677.9" cy="397.6" r="3.7"/>
<circle cx="685.5" cy="399.1" r="3.7"/>
<circle cx="677.9" cy="406.7" r="3.7"/>
<circle cx="682.4" cy="404.4" r="3.7"/>
<circle cx="690.0" cy="405.2" r="3.7"/>
<circle cx="696.8" cy="403.6" r="3.7"/>
<circle cx="702.1" cy="402.1" r="3.7"/>
<circle cx="703.6" cy="407.4" r="3.7"/>
<circle cx="709.7" cy="409.7" r="3.7"/>
<circle cx="715.8" cy="406.7" r="3.7"/>
<circle cx="721.8" cy="403.6" r="3.7"/>
<circle cx="730.9" cy="406.7" r="3.7"/>
<circle cx="661.2" cy="415.8" r="3.7"/>
<circle cx="667.3" cy="417.3" r="3.7"/>
<circle cx="671.8" cy="411.2" r="3.7"/>
<circle cx="677.1" cy="412.7" r="3.7"/>
<circle cx="677.9" cy="418.8" r="3.7"/>
<circle cx="682.4" cy="415.8" r="3.7"/>
<circle cx="685.5" cy="421.8" r="3.7"/>
<circle cx="690.0" cy="415.8" r="3.7"/>
<circle cx="697.6" cy="412.7" r="3.7"/>
<circle cx="700.6" cy="418.8" r="3.7"/>
<circle cx="706.7" cy="415.8" r="3.7"/>
<circle cx="711.2" cy="418.8" r="3.7"/>
<circle cx="715.8" cy="415.8" r="3.7"/>
<circle cx="718.8" cy="421.8" r="3.7"/>
<circle cx="659.7" cy="430.9" r="3.7"/>
<circle cx="651.4" cy="436.2" r="3.7"/>
<circle cx="658.9" cy="441.5" r="3.7"/>
<circle cx="664.2" cy="433.9" r="3.7"/>
<circle cx="670.3" cy="429.4" r="3.7"/>
<circle cx="674.8" cy="440.0" r="3.7"/>
<circle cx="679.4" cy="430.9" r="3.7"/>
<circle cx="685.5" cy="433.9" r="3.7"/>
<circle cx="687.0" cy="440.0" r="3.7"/>
<circle cx="691.5" cy="424.8" r="3.7"/>
<circle cx="703.6" cy="424.8" r="3.7"/>
<circle cx="708.2" cy="430.9" r="3.7"/>
<circle cx="700.6" cy="437.0" r="3.7"/>
<circle cx="708.2" cy="440.0" r="3.7"/>
<circle cx="720.3" cy="433.9" r="3.7"/>
<circle cx="727.9" cy="430.9" r="3.7"/>
<circle cx="650.6" cy="452.9" r="3.7"/>
<circle cx="657.9" cy="457.9" r="3.7"/>
<circle cx="683.9" cy="452.1" r="3.7"/>
<circle cx="690.0" cy="449.1" r="3.7"/>
<circle cx="694.5" cy="446.1" r="3.7"/>
<circle cx="697.6" cy="453.6" r="3.7"/>
<circle cx="703.6" cy="449.1" r="3.7"/>
<circle cx="709.7" cy="452.1" r="3.7"/>
<circle cx="715.8" cy="446.1" r="3.7"/>
<circle cx="721.8" cy="450.6" r="3.7"/>
<circle cx="726.4" cy="455.2" r="3.7"/>
<circle cx="733.9" cy="446.1" r="3.7"/>
<circle cx="672.6" cy="465.0" r="3.7"/>
<circle cx="676.4" cy="461.2" r="3.7"/>
<circle cx="683.9" cy="461.2" r="3.7"/>
<circle cx="687.0" cy="468.8" r="3.7"/>
<circle cx="693.0" cy="459.7" r="3.7"/>
<circle cx="699.1" cy="462.7" r="3.7"/>
<circle cx="703.6" cy="467.3" r="3.7"/>
<circle cx="712.7" cy="459.7" r="3.7"/>
<circle cx="718.8" cy="461.2" r="3.7"/>
<circle cx="724.8" cy="458.2" r="3.7"/>
<circle cx="730.9" cy="465.8" r="3.7"/>
<circle cx="646.8" cy="477.9" r="3.7"/>
<circle cx="654.4" cy="473.3" r="3.7"/>
<circle cx="667.3" cy="483.9" r="3.7"/>
<circle cx="674.8" cy="479.4" r="3.7"/>
<circle cx="679.4" cy="476.4" r="3.7"/>
<circle cx="685.5" cy="471.8" r="3.7"/>
<circle cx="694.5" cy="473.3" r="3.7"/>
<circle cx="699.1" cy="477.9" r="3.7"/>
<circle cx="706.7" cy="480.9" r="3.7"/>
<circle cx="714.2" cy="476.4" r="3.7"/>
<circle cx="721.8" cy="473.3" r="3.7"/>
<circle cx="727.9" cy="479.4" r="3.7"/>
<circle cx="735.5" cy="479.4" r="3.7"/>
<circle cx="665.0" cy="497.6" r="3.7"/>
<circle cx="673.3" cy="491.5" r="3.7"/>
<circle cx="680.9" cy="490.0" r="3.7"/>
<circle cx="691.5" cy="494.5" r="3.7"/>
<circle cx="697.6" cy="490.0" r="3.7"/>
<circle cx="703.6" cy="491.5" r="3.7"/>
<circle cx="709.7" cy="496.1" r="3.7"/>
<circle cx="715.8" cy="491.5" r="3.7"/>
<circle cx="724.8" cy="490.0" r="3.7"/>
<circle cx="730.9" cy="497.6" r="3.7"/>
<circle cx="737.0" cy="491.5" r="3.7"/>
</g>
<g fill="#33b35b">
<circle cx="824.9" cy="435.3" r="3.7"/>
<circle cx="735.4" cy="441.0" r="3.7"/>
<circle cx="734.2" cy="489.5" r="3.7"/>
<circle cx="769.8" cy="426.9" r="3.7"/>
<circle cx="784.2" cy="406.3" r="3.7"/>
<circle cx="733.4" cy="410.2" r="3.7"/>
<circle cx="783.5" cy="400.2" r="3.7"/>
<circle cx="769.0" cy="405.5" r="3.7"/>
<circle cx="793.2" cy="455.7" r="3.7"/>
<circle cx="804.8" cy="417.5" r="3.7"/>
<circle cx="746.5" cy="420.5" r="3.7"/>
<circle cx="803.0" cy="423.6" r="3.7"/>
<circle cx="749.0" cy="378.9" r="3.7"/>
<circle cx="750.4" cy="447.9" r="3.7"/>
<circle cx="793.3" cy="431.8" r="3.7"/>
<circle cx="752.5" cy="447.3" r="3.7"/>
<circle cx="806.7" cy="381.3" r="3.7"/>
<circle cx="795.7" cy="438.1" r="3.7"/>
<circle cx="811.6" cy="436.9" r="3.7"/>
<circle cx="746.4" cy="415.7" r="3.7"/>
<circle cx="816.0" cy="373.6" r="3.7"/>
<circle cx="839.5" cy="414.2" r="3.7"/>
<circle cx="815.4" cy="436.1" r="3.7"/>
<circle cx="766.5" cy="375.5" r="3.7"/>
<circle cx="740.8" cy="415.6" r="3.7"/>
<circle cx="792.8" cy="455.5" r="3.7"/>
<circle cx="774.5" cy="381.9" r="3.7"/>
<circle cx="808.0" cy="425.4" r="3.7"/>
<circle cx="831.6" cy="416.0" r="3.7"/>
<circle cx="762.5" cy="444.5" r="3.7"/>
<circle cx="774.6" cy="377.7" r="3.7"/>
<circle cx="817.1" cy="441.3" r="3.7"/>
<circle cx="785.8" cy="423.8" r="3.7"/>
<circle cx="792.7" cy="383.1" r="3.7"/>
<circle cx="750.7" cy="399.2" r="3.7"/>
<circle cx="774.5" cy="417.9" r="3.7"/>
<circle cx="802.7" cy="405.0" r="3.7"/>
<circle cx="713.1" cy="396.3" r="3.7"/>
<circle cx="758.8" cy="374.1" r="3.7"/>
<circle cx="769.7" cy="416.2" r="3.7"/>
<circle cx="773.4" cy="428.8" r="3.7"/>
<circle cx="756.2" cy="504.0" r="3.7"/>
<circle cx="828.0" cy="418.2" r="3.7"/>
<circle cx="735.3" cy="440.6" r="3.7"/>
<circle cx="698.6" cy="406.4" r="3.7"/>
<circle cx="748.3" cy="435.1" r="3.7"/>
<circle cx="795.7" cy="444.9" r="3.7"/>
<circle cx="751.4" cy="386.3" r="3.7"/>
<circle cx="779.5" cy="392.5" r="3.7"/>
<circle cx="751.0" cy="447.0" r="3.7"/>
<circle cx="828.8" cy="437.8" r="3.7"/>
<circle cx="804.9" cy="409.8" r="3.7"/>
<circle cx="764.9" cy="446.9" r="3.7"/>
<circle cx="767.4" cy="455.0" r="3.7"/>
<circle cx="808.0" cy="412.0" r="3.7"/>
<circle cx="781.4" cy="366.8" r="3.7"/>
<circle cx="771.2" cy="420.6" r="3.7"/>
<circle cx="809.6" cy="440.4" r="3.7"/>
<circle cx="819.6" cy="394.7" r="3.7"/>
<circle cx="792.2" cy="386.2" r="3.7"/>
<circle cx="796.9" cy="458.9" r="3.7"/>
<circle cx="789.5" cy="510.9" r="3.7"/>
<circle cx="801.9" cy="378.7" r="3.7"/>
<circle cx="742.8" cy="389.6" r="3.7"/>
<circle cx="772.3" cy="426.0" r="3.7"/>
<circle cx="782.4" cy="462.5" r="3.7"/>
<circle cx="765.2" cy="392.9" r="3.7"/>
<circle cx="809.6" cy="445.4" r="3.7"/>
<circle cx="803.9" cy="450.9" r="3.7"/>
<circle cx="808.5" cy="394.8" r="3.7"/>
<circle cx="764.8" cy="384.6" r="3.7"/>
<circle cx="768.9" cy="394.3" r="3.7"/>
<circle cx="810.7" cy="414.4" r="3.7"/>
<circle cx="765.0" cy="417.1" r="3.7"/>
<circle cx="836.6" cy="427.6" r="3.7"/>
<circle cx="823.8" cy="425.2" r="3.7"/>
<circle cx="738.0" cy="418.4" r="3.7"/>
<circle cx="778.7" cy="420.8" r="3.7"/>
<circle cx="738.0" cy="447.7" r="3.7"/>
<circle cx="733.6" cy="437.1" r="3.7"/>
<circle cx="813.5" cy="436.4" r="3.7"/>
<circle cx="826.8" cy="435.8" r="3.7"/>
<circle cx="826.6" cy="416.5" r="3.7"/>
<circle cx="828.8" cy="399.1" r="3.7"/>
<circle cx="835.5" cy="428.2" r="3.7"/>
<circle cx="757.0" cy="387.1" r="3.7"/>
<circle cx="812.1" cy="474.3" r="3.7"/>
<circle cx="821.3" cy="415.5" r="3.7"/>
<circle cx="766.2" cy="383.1" r="3.7"/>
<circle cx="772.5" cy="416.2" r="3.7"/>
<circle cx="819.6" cy="434.6" r="3.7"/>
<circle cx="789.4" cy="405.3" r="3.7"/>
<circle cx="816.4" cy="423.9" r="3.7"/>
<circle cx="833.0" cy="439.7" r="3.7"/>
<circle cx="792.8" cy="398.5" r="3.7"/>
<circle cx="818.6" cy="422.7" r="3.7"/>
<circle cx="724.2" cy="424.6" r="3.7"/>
<circle cx="776.4" cy="463.4" r="3.7"/>
<circle cx="799.2" cy="383.2" r="3.7"/>
<circle cx="784.0" cy="420.7" r="3.7"/>
<circle cx="787.1" cy="395.1" r="3.7"/>
<circle cx="782.7" cy="400.5" r="3.7"/>
<circle cx="784.1" cy="381.8" r="3.7"/>
<circle cx="719.2" cy="479.2" r="3.7"/>
<circle cx="752.4" cy="375.3" r="3.7"/>
<circle cx="759.0" cy="410.4" r="3.7"/>
<circle cx="789.5" cy="443.4" r="3.7"/>
<circle cx="803.3" cy="383.1" r="3.7"/>
<circle cx="765.8" cy="452.0" r="3.7"/>
<circle cx="746.1" cy="446.6" r="3.7"/>
<circle cx="827.4" cy="430.9" r="3.7"/>
<circle cx="769.6" cy="397.7" r="3.7"/>
<circle cx="836.4" cy="412.2" r="3.7"/>
<circle cx="813.1" cy="391.5" r="3.7"/>
<circle cx="758.6" cy="416.5" r="3.7"/>
<circle cx="823.2" cy="429.9" r="3.7"/>
<circle cx="730.5" cy="431.2" r="3.7"/>
<circle cx="771.0" cy="440.1" r="3.7"/>
<circle cx="822.9" cy="411.7" r="3.7"/>
<circle cx="772.2" cy="420.9" r="3.7"/>
<circle cx="756.8" cy="428.5" r="3.7"/>
<circle cx="759.4" cy="401.2" r="3.7"/>
<circle cx="826.9" cy="416.3" r="3.7"/>
<circle cx="805.1" cy="406.0" r="3.7"/>
<circle cx="826.8" cy="404.4" r="3.7"/>
<circle cx="810.4" cy="416.7" r="3.7"/>
<circle cx="815.6" cy="402.1" r="3.7"/>
<circle cx="777.2" cy="411.6" r="3.7"/>
<circle cx="768.0" cy="461.4" r="3.7"/>
<circle cx="763.7" cy="441.1" r="3.7"/>
<circle cx="791.2" cy="365.8" r="3.7"/>
<circle cx="764.5" cy="373.8" r="3.7"/>
<circle cx="828.0" cy="415.4" r="3.7"/>
<circle cx="811.7" cy="380.4" r="3.7"/>
<circle cx="790.1" cy="396.9" r="3.7"/>
<circle cx="780.0" cy="404.6" r="3.7"/>
<circle cx="710.1" cy="415.3" r="3.7"/>
<circle cx="837.2" cy="434.5" r="3.7"/>
<circle cx="828.8" cy="389.3" r="3.7"/>
<circle cx="760.1" cy="489.3" r="3.7"/>
<circle cx="814.5" cy="413.0" r="3.7"/>
<circle cx="802.1" cy="405.6" r="3.7"/>
<circle cx="817.9" cy="434.1" r="3.7"/>
<circle cx="774.1" cy="437.6" r="3.7"/>
<circle cx="795.0" cy="375.0" r="3.7"/>
<circle cx="796.8" cy="450.5" r="3.7"/>
<circle cx="795.6" cy="391.6" r="3.7"/>
<circle cx="803.7" cy="417.7" r="3.7"/>
<circle cx="794.6" cy="405.5" r="3.7"/>
<circle cx="764.7" cy="415.4" r="3.7"/>
<circle cx="760.3" cy="383.1" r="3.7"/>
<circle cx="833.5" cy="443.3" r="3.7"/>
<circle cx="780.2" cy="468.2" r="3.7"/>
<circle cx="805.8" cy="374.5" r="3.7"/>
<circle cx="746.8" cy="431.0" r="3.7"/>
<circle cx="813.4" cy="392.2" r="3.7"/>
<circle cx="756.9" cy="427.5" r="3.7"/>
<circle cx="778.7" cy="374.8" r="3.7"/>
<circle cx="739.0" cy="434.3" r="3.7"/>
<circle cx="803.7" cy="397.7" r="3.7"/>
<circle cx="790.4" cy="413.5" r="3.7"/>
<circle cx="832.6" cy="418.2" r="3.7"/>
<circle cx="794.1" cy="387.2" r="3.7"/>
<circle cx="775.6" cy="448.1" r="3.7"/>
<circle cx="780.2" cy="359.0" r="3.7"/>
<circle cx="787.6" cy="389.6" r="3.7"/>
<circle cx="803.0" cy="442.7" r="3.7"/>
<circle cx="818.0" cy="443.2" r="3.7"/>
<circle cx="821.2" cy="417.2" r="3.7"/>
<circle cx="801.5" cy="397.7" r="3.7"/>
<circle cx="746.1" cy="435.2" r="3.7"/>
<circle cx="785.8" cy="420.9" r="3.7"/>
<circle cx="762.7" cy="431.3" r="3.7"/>
<circle cx="748.5" cy="445.1" r="3.7"/>
<circle cx="778.6" cy="402.8" r="3.7"/>
<circle cx="755.7" cy="422.4" r="3.7"/>
<circle cx="759.1" cy="420.0" r="3.7"/>
<circle cx="793.7" cy="364.0" r="3.7"/>
<circle cx="801.1" cy="381.7" r="3.7"/>
<circle cx="803.0" cy="380.2" r="3.7"/>
<circle cx="776.1" cy="369.9" r="3.7"/>
<circle cx="781.6" cy="387.8" r="3.7"/>
<circle cx="756.0" cy="431.8" r="3.7"/>
<circle cx="781.7" cy="506.2" r="3.7"/>
<circle cx="788.2" cy="422.5" r="3.7"/>
<circle cx="815.1" cy="411.8" r="3.7"/>
<circle cx="773.6" cy="439.9" r="3.7"/>
<circle cx="765.9" cy="515.1" r="3.7"/>
<circle cx="828.6" cy="417.3" r="3.7"/>
<circle cx="754.2" cy="418.4" r="3.7"/>
<circle cx="796.9" cy="421.3" r="3.7"/>
<circle cx="804.9" cy="383.0" r="3.7"/>
<circle cx="755.0" cy="441.4" r="3.7"/>
<circle cx="736.7" cy="475.4" r="3.7"/>
<circle cx="735.4" cy="492.6" r="3.7"/>
<circle cx="803.9" cy="422.2" r="3.7"/>
<circle cx="739.8" cy="400.5" r="3.7"/>
<circle cx="787.2" cy="408.3" r="3.7"/>
<circle cx="774.7" cy="436.9" r="3.7"/>
<circle cx="764.0" cy="441.9" r="3.7"/>
<circle cx="842.4" cy="410.4" r="3.7"/>
<circle cx="813.5" cy="386.6" r="3.7"/>
<circle cx="755.0" cy="437.8" r="3.7"/>
<circle cx="800.5" cy="384.2" r="3.7"/>
<circle cx="818.5" cy="419.5" r="3.7"/>
<circle cx="767.1" cy="405.6" r="3.7"/>
<circle cx="830.4" cy="394.4" r="3.7"/>
<circle cx="806.1" cy="392.6" r="3.7"/>
<circle cx="710.0" cy="469.8" r="3.7"/>
<circle cx="757.2" cy="411.3" r="3.7"/>
<circle cx="749.1" cy="437.0" r="3.7"/>
<circle cx="798.2" cy="439.1" r="3.7"/>
<circle cx="782.6" cy="369.5" r="3.7"/>
<circle cx="800.3" cy="405.4" r="3.7"/>
<circle cx="824.5" cy="414.0" r="3.7"/>
<circle cx="736.6" cy="400.9" r="3.7"/>
<circle cx="705.7" cy="495.9" r="3.7"/>
<circle cx="769.6" cy="426.6" r="3.7"/>
<circle cx="810.2" cy="406.1" r="3.7"/>
<circle cx="751.5" cy="406.2" r="3.7"/>
<circle cx="763.1" cy="397.1" r="3.7"/>
<circle cx="768.5" cy="402.0" r="3.7"/>
<circle cx="739.7" cy="399.3" r="3.7"/>
<circle cx="743.1" cy="465.6" r="3.7"/>
<circle cx="816.2" cy="392.4" r="3.7"/>
<circle cx="794.6" cy="383.3" r="3.7"/>
<circle cx="780.8" cy="411.5" r="3.7"/>
<circle cx="775.2" cy="459.4" r="3.7"/>
<circle cx="810.3" cy="416.4" r="3.7"/>
<circle cx="782.5" cy="459.3" r="3.7"/>
<circle cx="804.8" cy="393.2" r="3.7"/>
<circle cx="751.4" cy="431.7" r="3.7"/>
<circle cx="743.5" cy="414.3" r="3.7"/>
<circle cx="802.3" cy="396.4" r="3.7"/>
<circle cx="778.1" cy="416.5" r="3.7"/>
<circle cx="787.3" cy="374.8" r="3.7"/>
<circle cx="760.0" cy="424.1" r="3.7"/>
<circle cx="782.8" cy="409.3" r="3.7"/>
<circle cx="781.9" cy="396.8" r="3.7"/>
<circle cx="715.7" cy="420.3" r="3.7"/>
<circle cx="796.1" cy="438.0" r="3.7"/>
<circle cx="810.5" cy="428.8" r="3.7"/>
<circle cx="731.2" cy="425.9" r="3.7"/>
<circle cx="830.4" cy="462.8" r="3.7"/>
<circle cx="744.1" cy="409.2" r="3.7"/>
<circle cx="763.7" cy="431.5" r="3.7"/>
<circle cx="806.6" cy="403.1" r="3.7"/>
<circle cx="763.9" cy="420.3" r="3.7"/>
<circle cx="753.3" cy="399.7" r="3.7"/>
<circle cx="762.9" cy="461.4" r="3.7"/>
<circle cx="801.2" cy="418.6" r="3.7"/>
<circle cx="778.1" cy="426.6" r="3.7"/>
<circle cx="748.1" cy="399.8" r="3.7"/>
<circle cx="783.7" cy="379.8" r="3.7"/>
<circle cx="787.4" cy="452.8" r="3.7"/>
<circle cx="747.2" cy="408.8" r="3.7"/>
<circle cx="819.0" cy="439.8" r="3.7"/>
<circle cx="778.8" cy="382.1" r="3.7"/>
<circle cx="786.7" cy="452.3" r="3.7"/>
<circle cx="708.3" cy="494.6" r="3.7"/>
<circle cx="748.0" cy="416.1" r="3.7"/>
<circle cx="788.1" cy="385.9" r="3.7"/>
<circle cx="777.8" cy="515.1" r="3.7"/>
<circle cx="740.2" cy="426.6" r="3.7"/>
<circle cx="765.9" cy="454.6" r="3.7"/>
<circle cx="773.8" cy="436.5" r="3.7"/>
<circle cx="788.0" cy="411.7" r="3.7"/>
<circle cx="772.3" cy="399.3" r="3.7"/>
<circle cx="791.7" cy="417.6" r="3.7"/>
<circle cx="803.6" cy="399.0" r="3.7"/>
<circle cx="787.5" cy="440.9" r="3.7"/>
<circle cx="763.9" cy="448.2" r="3.7"/>
<circle cx="801.8" cy="408.0" r="3.7"/>
<circle cx="781.2" cy="411.0" r="3.7"/>
<circle cx="757.3" cy="438.3" r="3.7"/>
<circle cx="817.3" cy="412.9" r="3.7"/>
<circle cx="779.6" cy="376.6" r="3.7"/>
<circle cx="737.0" cy="444.4" r="3.7"/>
<circle cx="735.8" cy="427.2" r="3.7"/>
<circle cx="766.2" cy="441.1" r="3.7"/>
<circle cx="746.7" cy="430.4" r="3.7"/>
<circle cx="815.1" cy="459.4" r="3.7"/>
<circle cx="775.2" cy="389.6" r="3.7"/>
<circle cx="789.3" cy="373.1" r="3.7"/>
<circle cx="792.7" cy="425.6" r="3.7"/>
<circle cx="830.7" cy="441.5" r="3.7"/>
<circle cx="810.4" cy="440.3" r="3.7"/>
<circle cx="748.7" cy="424.9" r="3.7"/>
<circle cx="774.7" cy="395.5" r="3.7"/>
<circle cx="801.7" cy="372.4" r="3.7"/>
<circle cx="818.5" cy="432.5" r="3.7"/>
<circle cx="831.3" cy="430.4" r="3.7"/>
<circle cx="788.1" cy="449.8" r="3.7"/>
<circle cx="759.1" cy="385.8" r="3.7"/>
<circle cx="791.6" cy="378.1" r="3.7"/>
<circle cx="822.5" cy="414.6" r="3.7"/>
<circle cx="770.6" cy="463.2" r="3.7"/>
<circle cx="774.1" cy="361.6" r="3.7"/>
<circle cx="782.6" cy="450.9" r="3.7"/>
<circle cx="746.2" cy="415.1" r="3.7"/>
<circle cx="785.9" cy="420.9" r="3.7"/>
<circle cx="783.2" cy="420.2" r="3.7"/>
<circle cx="749.4" cy="380.7" r="3.7"/>
<circle cx="801.1" cy="365.2" r="3.7"/>
<circle cx="766.4" cy="462.7" r="3.7"/>
<circle cx="723.5" cy="490.8" r="3.7"/>
<circle cx="756.0" cy="443.1" r="3.7"/>
<circle cx="769.6" cy="455.6" r="3.7"/>
<circle cx="831.5" cy="399.2" r="3.7"/>
<circle cx="747.1" cy="430.4" r="3.7"/>
<circle cx="817.3" cy="391.1" r="3.7"/>
<circle cx="780.3" cy="443.3" r="3.7"/>
<circle cx="816.0" cy="442.6" r="3.7"/>
<circle cx="823.1" cy="412.4" r="3.7"/>
<circle cx="754.1" cy="380.3" r="3.7"/>
<circle cx="803.6" cy="418.8" r="3.7"/>
<circle cx="754.1" cy="401.2" r="3.7"/>
<circle cx="792.3" cy="423.0" r="3.7"/>
<circle cx="729.2" cy="444.0" r="3.7"/>
<circle cx="784.2" cy="486.2" r="3.7"/>
<circle cx="726.9" cy="484.4" r="3.7"/>
<circle cx="764.1" cy="392.2" r="3.7"/>
<circle cx="790.1" cy="401.4" r="3.7"/>
<circle cx="789.6" cy="392.7" r="3.7"/>
<circle cx="811.8" cy="395.7" r="3.7"/>
<circle cx="761.2" cy="415.3" r="3.7"/>
<circle cx="826.6" cy="430.2" r="3.7"/>
<circle cx="787.2" cy="429.1" r="3.7"/>
<circle cx="779.7" cy="524.2" r="3.7"/>
<circle cx="749.5" cy="416.0" r="3.7"/>
<circle cx="753.4" cy="482.0" r="3.7"/>
<circle cx="780.8" cy="454.2" r="3.7"/>
<circle cx="728.2" cy="429.0" r="3.7"/>
<circle cx="790.1" cy="449.6" r="3.7"/>
<circle cx="747.0" cy="489.5" r="3.7"/>
<circle cx="821.5" cy="490.9" r="3.7"/>
<circle cx="801.3" cy="422.0" r="3.7"/>
<circle cx="799.3" cy="411.3" r="3.7"/>
<circle cx="771.7" cy="457.1" r="3.7"/>
<circle cx="784.1" cy="388.8" r="3.7"/>
<circle cx="769.7" cy="416.8" r="3.7"/>
<circle cx="760.3" cy="466.9" r="3.7"/>
<circle cx="771.6" cy="412.5" r="3.7"/>
<circle cx="811.2" cy="441.5" r="3.7"/>
<circle cx="800.4" cy="426.2" r="3.7"/>
<circle cx="784.3" cy="404.3" r="3.7"/>
<circle cx="768.1" cy="427.8" r="3.7"/>
<circle cx="786.6" cy="423.0" r="3.7"/>
<circle cx="826.0" cy="426.4" r="3.7"/>
<circle cx="774.2" cy="446.0" r="3.7"/>
<circle cx="807.7" cy="477.7" r="3.7"/>
<circle cx="824.4" cy="416.6" r="3.7"/>
<circle cx="768.6" cy="474.6" r="3.7"/>
<circle cx="757.0" cy="394.7" r="3.7"/>
<circle cx="729.5" cy="442.4" r="3.7"/>
<circle cx="772.2" cy="452.8" r="3.7"/>
<circle cx="811.9" cy="438.5" r="3.7"/>
<circle cx="719.0" cy="415.0" r="3.7"/>
<circle cx="779.2" cy="392.7" r="3.7"/>
<circle cx="788.4" cy="363.9" r="3.7"/>
<circle cx="771.6" cy="451.4" r="3.7"/>
<circle cx="746.4" cy="520.3" r="3.7"/>
<circle cx="751.2" cy="404.9" r="3.7"/>
<circle cx="805.8" cy="475.9" r="3.7"/>
<circle cx="775.8" cy="411.5" r="3.7"/>
<circle cx="754.5" cy="465.2" r="3.7"/>
<circle cx="813.8" cy="454.1" r="3.7"/>
<circle cx="811.9" cy="442.9" r="3.7"/>
<circle cx="776.2" cy="434.7" r="3.7"/>
<circle cx="792.4" cy="452.6" r="3.7"/>
<circle cx="763.5" cy="372.3" r="3.7"/>
<circle cx="746.1" cy="449.9" r="3.7"/>
<circle cx="754.3" cy="421.2" r="3.7"/>
<circle cx="741.9" cy="430.3" r="3.7"/>
<circle cx="814.0" cy="418.6" r="3.7"/>
<circle cx="819.8" cy="406.9" r="3.7"/>
<circle cx="784.6" cy="472.3" r="3.7"/>
<circle cx="785.5" cy="396.7" r="3.7"/>
<circle cx="768.4" cy="388.4" r="3.7"/>
<circle cx="757.7" cy="422.1" r="3.7"/>
<circle cx="811.9" cy="414.3" r="3.7"/>
<circle cx="744.9" cy="417.4" r="3.7"/>
<circle cx="778.4" cy="456.3" r="3.7"/>
<circle cx="761.5" cy="419.8" r="3.7"/>
<circle cx="798.5" cy="368.1" r="3.7"/>
<circle cx="797.2" cy="427.7" r="3.7"/>
<circle cx="783.3" cy="400.8" r="3.7"/>
<circle cx="796.8" cy="355.4" r="3.7"/>
<circle cx="812.1" cy="388.8" r="3.7"/>
<circle cx="745.0" cy="392.4" r="3.7"/>
<circle cx="743.4" cy="404.9" r="3.7"/>
<circle cx="759.5" cy="398.8" r="3.7"/>
<circle cx="779.0" cy="446.7" r="3.7"/>
<circle cx="772.1" cy="387.6" r="3.7"/>
<circle cx="819.7" cy="414.4" r="3.7"/>
<circle cx="796.8" cy="427.5" r="3.7"/>
<circle cx="798.6" cy="381.9" r="3.7"/>
<circle cx="792.2" cy="434.9" r="3.7"/>
<circle cx="804.0" cy="438.7" r="3.7"/>
<circle cx="744.3" cy="400.4" r="3.7"/>
<circle cx="830.5" cy="403.7" r="3.7"/>
<circle cx="744.6" cy="422.4" r="3.7"/>
<circle cx="760.7" cy="412.5" r="3.7"/>
<circle cx="806.1" cy="413.0" r="3.7"/>
<circle cx="816.2" cy="422.1" r="3.7"/>
<circle cx="799.3" cy="431.8" r="3.7"/>
<circle cx="744.5" cy="517.4" r="3.7"/>
<circle cx="786.4" cy="451.7" r="3.7"/>
<circle cx="832.2" cy="417.2" r="3.7"/>
<circle cx="742.5" cy="432.7" r="3.7"/>
<circle cx="806.8" cy="357.3" r="3.7"/>
<circle cx="745.8" cy="386.2" r="3.7"/>
<circle cx="739.9" cy="433.4" r="3.7"/>
<circle cx="769.9" cy="393.0" r="3.7"/>
<circle cx="776.2" cy="375.5" r="3.7"/>
<circle cx="784.9" cy="400.5" r="3.7"/>
<circle cx="801.0" cy="501.7" r="3.7"/>
<circle cx="772.0" cy="445.1" r="3.7"/>
<circle cx="755.7" cy="463.1" r="3.7"/>
<circle cx="779.3" cy="455.2" r="3.7"/>
<circle cx="817.3" cy="428.7" r="3.7"/>
<circle cx="750.9" cy="504.6" r="3.7"/>
<circle cx="769.5" cy="431.4" r="3.7"/>
<circle cx="819.2" cy="407.4" r="3.7"/>
<circle cx="734.5" cy="426.7" r="3.7"/>
<circle cx="738.1" cy="423.8" r="3.7"/>
<circle cx="753.6" cy="388.7" r="3.7"/>
<circle cx="744.1" cy="412.8" r="3.7"/>
<circle cx="716.3" cy="391.7" r="3.7"/>
<circle cx="796.2" cy="424.2" r="3.7"/>
<circle cx="791.0" cy="393.5" r="3.7"/>
<circle cx="767.1" cy="407.9" r="3.7"/>
<circle cx="773.7" cy="457.9" r="3.7"/>
<circle cx="779.3" cy="414.9" r="3.7"/>
<circle cx="830.3" cy="447.3" r="3.7"/>
<circle cx="828.1" cy="404.2" r="3.7"/>
<circle cx="779.9" cy="412.0" r="3.7"/>
<circle cx="779.0" cy="382.5" r="3.7"/>
<circle cx="791.2" cy="368.8" r="3.7"/>
<circle cx="820.0" cy="384.2" r="3.7"/>
<circle cx="828.3" cy="416.3" r="3.7"/>
<circle cx="770.5" cy="398.8" r="3.7"/>
<circle cx="747.6" cy="426.5" r="3.7"/>
<circle cx="803.0" cy="386.8" r="3.7"/>
<circle cx="768.7" cy="388.0" r="3.7"/>
<circle cx="824.9" cy="450.2" r="3.7"/>
<circle cx="794.7" cy="370.7" r="3.7"/>
<circle cx="733.5" cy="489.1" r="3.7"/>
<circle cx="764.7" cy="417.1" r="3.7"/>
<circle cx="792.3" cy="427.2" r="3.7"/>
<circle cx="770.0" cy="389.5" r="3.7"/>
<circle cx="807.2" cy="412.1" r="3.7"/>
<circle cx="820.6" cy="419.8" r="3.7"/>
<circle cx="799.2" cy="380.9" r="3.7"/>
<circle cx="779.0" cy="432.6" r="3.7"/>
<circle cx="739.6" cy="429.7" r="3.7"/>
<circle cx="773.3" cy="393.9" r="3.7"/>
<circle cx="738.3" cy="446.7" r="3.7"/>
<circle cx="750.1" cy="484.4" r="3.7"/>
<circle cx="750.2" cy="464.5" r="3.7"/>
<circle cx="809.7" cy="356.9" r="3.7"/>
<circle cx="782.6" cy="417.5" r="3.7"/>
<circle cx="815.1" cy="381.4" r="3.7"/>
<circle cx="737.5" cy="430.0" r="3.7"/>
<circle cx="816.4" cy="503.9" r="3.7"/>
<circle cx="758.3" cy="455.4" r="3.7"/>
<circle cx="781.2" cy="449.9" r="3.7"/>
<circle cx="822.8" cy="413.1" r="3.7"/>
<circle cx="738.4" cy="426.4" r="3.7"/>
<circle cx="810.2" cy="419.8" r="3.7"/>
<circle cx="792.6" cy="437.2" r="3.7"/>
<circle cx="800.0" cy="430.5" r="3.7"/>
<circle cx="791.6" cy="383.0" r="3.7"/>
<circle cx="750.0" cy="391.6" r="3.7"/>
<circle cx="786.3" cy="376.4" r="3.7"/>
<circle cx="760.0" cy="372.3" r="3.7"/>
<circle cx="738.0" cy="445.6" r="3.7"/>
<circle cx="769.1" cy="372.9" r="3.7"/>
<circle cx="743.4" cy="382.1" r="3.7"/>
<circle cx="749.9" cy="421.2" r="3.7"/>
<circle cx="765.0" cy="227.7" r="3.7"/>
<circle cx="818.8" cy="250.6" r="3.7"/>
<circle cx="779.2" cy="280.8" r="3.7"/>
<circle cx="792.1" cy="291.2" r="3.7"/>
<circle cx="777.1" cy="305.8" r="3.7"/>
<circle cx="782.3" cy="304.8" r="3.7"/>
<circle cx="717.3" cy="316.4" r="3.7"/>
<circle cx="753.8" cy="321.6" r="3.7"/>
<circle cx="779.6" cy="332.0" r="3.7"/>
<circle cx="738.1" cy="338.3" r="3.7"/>
<circle cx="743.8" cy="342.9" r="3.7"/>
<circle cx="746.9" cy="342.5" r="3.7"/>
<circle cx="779.6" cy="341.2" r="3.7"/>
<circle cx="697.9" cy="347.7" r="3.7"/>
<circle cx="714.0" cy="353.7" r="3.7"/>
<circle cx="810.0" cy="351.8" r="3.7"/>
<circle cx="803.8" cy="356.8" r="3.7"/>
<circle cx="670.8" cy="357.9" r="3.7"/>
<circle cx="684.4" cy="362.2" r="3.7"/>
<circle cx="731.2" cy="364.3" r="3.7"/>
<circle cx="669.8" cy="391.2" r="3.7"/>
<circle cx="691.0" cy="396.0" r="3.7"/>
<circle cx="877.5" cy="278.9" r="3.7"/>
<circle cx="851.5" cy="296.4" r="3.7"/>
<circle cx="823.8" cy="300.6" r="3.7"/>
<circle cx="867.8" cy="316.2" r="3.7"/>
<circle cx="824.0" cy="322.0" r="3.7"/>
<circle cx="855.7" cy="345.4" r="3.7"/>
<circle cx="832.8" cy="347.0" r="3.7"/>
<circle cx="821.3" cy="351.2" r="3.7"/>
<circle cx="825.5" cy="353.7" r="3.7"/>
<circle cx="837.3" cy="353.9" r="3.7"/>
<circle cx="831.7" cy="362.7" r="3.7"/>
<circle cx="920.7" cy="364.1" r="3.7"/>
<circle cx="863.0" cy="365.2" r="3.7"/>
<circle cx="866.1" cy="365.2" r="3.7"/>
<circle cx="873.0" cy="369.5" r="3.7"/>
<circle cx="840.0" cy="370.4" r="3.7"/>
<circle cx="851.5" cy="371.0" r="3.7"/>
<circle cx="846.3" cy="373.1" r="3.7"/>
<circle cx="831.7" cy="375.6" r="3.7"/>
<circle cx="865.0" cy="377.2" r="3.7"/>
<circle cx="854.6" cy="380.8" r="3.7"/>
<circle cx="876.5" cy="379.8" r="3.7"/>
<circle cx="884.4" cy="381.0" r="3.7"/>
<circle cx="886.5" cy="384.5" r="3.7"/>
<circle cx="957.3" cy="380.4" r="3.7"/>
<circle cx="820.2" cy="384.1" r="3.7"/>
<circle cx="817.1" cy="385.6" r="3.7"/>
<circle cx="836.9" cy="382.5" r="3.7"/>
<circle cx="832.8" cy="386.6" r="3.7"/>
<circle cx="841.1" cy="386.0" r="3.7"/>
<circle cx="839.0" cy="389.8" r="3.7"/>
<circle cx="844.8" cy="390.2" r="3.7"/>
<circle cx="885.9" cy="390.2" r="3.7"/>
<circle cx="867.8" cy="392.9" r="3.7"/>
<circle cx="989.0" cy="393.5" r="3.7"/>
<circle cx="910.9" cy="395.0" r="3.7"/>
<circle cx="900.5" cy="397.0" r="3.7"/>
<circle cx="900.5" cy="399.8" r="3.7"/>
<circle cx="881.7" cy="398.5" r="3.7"/>
<circle cx="884.8" cy="397.7" r="3.7"/>
<circle cx="825.5" cy="396.4" r="3.7"/>
<circle cx="856.7" cy="403.3" r="3.7"/>
<circle cx="882.8" cy="407.5" r="3.7"/>
<circle cx="879.6" cy="408.9" r="3.7"/>
<circle cx="871.9" cy="409.5" r="3.7"/>
<circle cx="864.0" cy="408.9" r="3.7"/>
<circle cx="961.9" cy="414.8" r="3.7"/>
<circle cx="961.9" cy="415.2" r="3.7"/>
<circle cx="888.0" cy="425.2" r="3.7"/>
<circle cx="903.6" cy="424.6" r="3.7"/>
<circle cx="903.2" cy="429.8" r="3.7"/>
<circle cx="862.3" cy="430.4" r="3.7"/>
<circle cx="869.8" cy="430.8" r="3.7"/>
<circle cx="874.4" cy="431.2" r="3.7"/>
<circle cx="882.8" cy="435.0" r="3.7"/>
<circle cx="886.5" cy="436.0" r="3.7"/>
<circle cx="908.8" cy="441.2" r="3.7"/>
<circle cx="904.6" cy="443.3" r="3.7"/>
<circle cx="921.9" cy="442.3" r="3.7"/>
<circle cx="953.2" cy="441.7" r="3.7"/>
<circle cx="877.5" cy="445.4" r="3.7"/>
<circle cx="885.2" cy="450.6" r="3.7"/>
<circle cx="896.7" cy="451.2" r="3.7"/>
<circle cx="868.6" cy="460.0" r="3.7"/>
<circle cx="866.1" cy="466.2" r="3.7"/>
<circle cx="878.2" cy="467.3" r="3.7"/>
<circle cx="876.1" cy="472.1" r="3.7"/>
<circle cx="905.7" cy="476.0" r="3.7"/>
<circle cx="937.3" cy="477.1" r="3.7"/>
<circle cx="903.2" cy="482.3" r="3.7"/>
<circle cx="857.1" cy="476.0" r="3.7"/>
<circle cx="863.6" cy="478.8" r="3.7"/>
<circle cx="859.8" cy="485.0" r="3.7"/>
<circle cx="858.8" cy="490.6" r="3.7"/>
<circle cx="843.2" cy="488.1" r="3.7"/>
<circle cx="849.4" cy="486.5" r="3.7"/>
<circle cx="894.2" cy="487.1" r="3.7"/>
<circle cx="865.5" cy="495.4" r="3.7"/>
<circle cx="1002.1" cy="495.8" r="3.7"/>
<circle cx="954.6" cy="500.0" r="3.7"/>
<circle cx="906.1" cy="501.0" r="3.7"/>
<circle cx="849.0" cy="504.2" r="3.7"/>
<circle cx="842.1" cy="504.2" r="3.7"/>
<circle cx="836.9" cy="501.7" r="3.7"/>
<circle cx="908.2" cy="511.7" r="3.7"/>
<circle cx="860.5" cy="512.1" r="3.7"/>
<circle cx="853.6" cy="517.3" r="3.7"/>
<circle cx="962.5" cy="517.7" r="3.7"/>
<circle cx="869.8" cy="525.0" r="3.7"/>
<circle cx="881.1" cy="528.3" r="3.7"/>
<circle cx="996.3" cy="529.8" r="3.7"/>
<circle cx="903.2" cy="530.8" r="3.7"/>
<circle cx="901.5" cy="534.6" r="3.7"/>
<circle cx="831.1" cy="539.6" r="3.7"/>
<circle cx="818.2" cy="545.4" r="3.7"/>
<circle cx="821.3" cy="537.5" r="3.7"/>
<circle cx="819.2" cy="531.9" r="3.7"/>
<circle cx="829.6" cy="513.1" r="3.7"/>
<circle cx="820.7" cy="512.7" r="3.7"/>
<circle cx="844.2" cy="560.4" r="3.7"/>
<circle cx="881.7" cy="554.2" r="3.7"/>
<circle cx="665.2" cy="423.3" r="3.7"/>
<circle cx="668.8" cy="442.3" r="3.7"/>
<circle cx="683.3" cy="485.8" r="3.7"/>
<circle cx="665.6" cy="501.7" r="3.7"/>
<circle cx="702.5" cy="518.8" r="3.7"/>
<circle cx="779.2" cy="550.4" r="3.7"/>
<circle cx="793.8" cy="530.8" r="3.7"/>
<circle cx="817.7" cy="545.2" r="3.7"/>
<circle cx="817.7" cy="531.2" r="3.7"/>
<circle cx="765.6" cy="519.4" r="3.7"/>
<circle cx="771.9" cy="519.4" r="3.7"/>
<circle cx="753.6" cy="322.3" r="3.7"/>
<circle cx="779.1" cy="331.8" r="3.7"/>
<circle cx="738.2" cy="338.2" r="3.7"/>
<circle cx="745.0" cy="342.7" r="3.7"/>
<circle cx="779.3" cy="341.6" r="3.7"/>
<circle cx="794.5" cy="342.7" r="3.7"/>
<circle cx="799.1" cy="341.6" r="3.7"/>
<circle cx="824.1" cy="322.7" r="3.7"/>
<circle cx="855.5" cy="345.5" r="3.7"/>
<circle cx="698.0" cy="347.7" r="3.7"/>
<circle cx="714.3" cy="354.1" r="3.7"/>
<circle cx="783.2" cy="349.5" r="3.7"/>
<circle cx="810.0" cy="352.3" r="3.7"/>
<circle cx="821.4" cy="351.4" r="3.7"/>
<circle cx="825.2" cy="354.1" r="3.7"/>
<circle cx="832.7" cy="347.7" r="3.7"/>
<circle cx="837.3" cy="354.1" r="3.7"/>
<circle cx="671.1" cy="358.0" r="3.7"/>
<circle cx="684.3" cy="362.0" r="3.7"/>
<circle cx="730.9" cy="364.3" r="3.7"/>
<circle cx="832.0" cy="363.2" r="3.7"/>
<circle cx="862.7" cy="364.3" r="3.7"/>
<circle cx="866.1" cy="365.5" r="3.7"/>
<circle cx="872.3" cy="368.9" r="3.7"/>
<circle cx="840.0" cy="371.1" r="3.7"/>
<circle cx="846.8" cy="373.4" r="3.7"/>
<circle cx="851.4" cy="371.1" r="3.7"/>
<circle cx="854.8" cy="380.9" r="3.7"/>
<circle cx="865.0" cy="377.3" r="3.7"/>
<circle cx="876.4" cy="379.5" r="3.7"/>
<circle cx="884.3" cy="381.4" r="3.7"/>
<circle cx="886.6" cy="388.2" r="3.7"/>
<circle cx="867.3" cy="392.7" r="3.7"/>
<circle cx="883.2" cy="395.0" r="3.7"/>
<circle cx="883.6" cy="398.4" r="3.7"/>
<circle cx="899.1" cy="397.3" r="3.7"/>
<circle cx="878.6" cy="408.6" r="3.7"/>
<circle cx="883.2" cy="407.5" r="3.7"/>
<circle cx="875.2" cy="415.5" r="3.7"/>
<circle cx="887.7" cy="425.0" r="3.7"/>
<circle cx="880.9" cy="434.8" r="3.7"/>
<circle cx="885.5" cy="435.9" r="3.7"/>
<circle cx="877.5" cy="444.5" r="3.7"/>
<circle cx="885.0" cy="450.7" r="3.7"/>
<circle cx="896.4" cy="450.7" r="3.7"/>
<circle cx="863.9" cy="431.4" r="3.7"/>
<circle cx="871.8" cy="431.4" r="3.7"/>
<circle cx="855.9" cy="443.9" r="3.7"/>
<circle cx="851.4" cy="447.3" r="3.7"/>
<circle cx="844.5" cy="449.5" r="3.7"/>
<circle cx="867.3" cy="458.6" r="3.7"/>
<circle cx="876.4" cy="471.1" r="3.7"/>
<circle cx="878.6" cy="467.7" r="3.7"/>
<circle cx="894.1" cy="487.0" r="3.7"/>
<circle cx="869.5" cy="524.5" r="3.7"/>
<circle cx="880.9" cy="528.0" r="3.7"/>
<circle cx="899.1" cy="533.6" r="3.7"/>
<circle cx="880.9" cy="554.1" r="3.7"/>
<circle cx="830.9" cy="539.3" r="3.7"/>
<circle cx="817.3" cy="545.0" r="3.7"/>
<circle cx="819.5" cy="537.0" r="3.7"/>
<circle cx="853.6" cy="516.6" r="3.7"/>
<circle cx="859.3" cy="512.0" r="3.7"/>
<circle cx="865.0" cy="495.0" r="3.7"/>
<circle cx="859.3" cy="489.3" r="3.7"/>
<circle cx="860.5" cy="483.6" r="3.7"/>
<circle cx="863.9" cy="478.0" r="3.7"/>
<circle cx="857.0" cy="475.7" r="3.7"/>
<circle cx="844.5" cy="487.0" r="3.7"/>
<circle cx="840.0" cy="499.5" r="3.7"/>
<circle cx="838.9" cy="501.8" r="3.7"/>
<circle cx="848.0" cy="503.0" r="3.7"/>
<circle cx="829.8" cy="513.2" r="3.7"/>
<circle cx="819.5" cy="512.7" r="3.7"/>
<circle cx="811.6" cy="518.9" r="3.7"/>
<circle cx="794.5" cy="530.2" r="3.7"/>
<circle cx="779.1" cy="550.7" r="3.7"/>
<circle cx="665.7" cy="501.1" r="3.7"/>
<circle cx="702.5" cy="518.9" r="3.7"/>
<circle cx="683.2" cy="485.9" r="3.7"/>
<circle cx="668.4" cy="442.0" r="3.7"/>
<circle cx="665.0" cy="423.4" r="3.7"/>
<circle cx="669.5" cy="390.9" r="3.7"/>
<circle cx="832.7" cy="346.8" r="3.7"/>
<circle cx="855.5" cy="345.3" r="3.7"/>
<circle cx="821.4" cy="351.4" r="3.7"/>
<circle cx="825.2" cy="353.6" r="3.7"/>
<circle cx="837.3" cy="353.9" r="3.7"/>
<circle cx="832.0" cy="363.0" r="3.7"/>
<circle cx="863.8" cy="365.0" r="3.7"/>
<circle cx="872.9" cy="369.5" r="3.7"/>
<circle cx="840.3" cy="370.3" r="3.7"/>
<circle cx="851.7" cy="371.1" r="3.7"/>
<circle cx="846.4" cy="372.6" r="3.7"/>
<circle cx="832.0" cy="375.6" r="3.7"/>
<circle cx="865.3" cy="377.1" r="3.7"/>
<circle cx="876.7" cy="379.7" r="3.7"/>
<circle cx="885.0" cy="381.7" r="3.7"/>
<circle cx="887.3" cy="385.5" r="3.7"/>
<circle cx="853.9" cy="380.9" r="3.7"/>
<circle cx="837.3" cy="382.4" r="3.7"/>
<circle cx="832.7" cy="386.2" r="3.7"/>
<circle cx="841.1" cy="385.5" r="3.7"/>
<circle cx="844.8" cy="390.0" r="3.7"/>
<circle cx="819.1" cy="384.7" r="3.7"/>
<circle cx="822.1" cy="383.9" r="3.7"/>
<circle cx="867.6" cy="393.0" r="3.7"/>
<circle cx="886.5" cy="390.0" r="3.7"/>
<circle cx="882.7" cy="397.6" r="3.7"/>
<circle cx="900.2" cy="397.6" r="3.7"/>
<circle cx="909.2" cy="394.5" r="3.7"/>
<circle cx="825.2" cy="396.8" r="3.7"/>
<circle cx="819.1" cy="403.6" r="3.7"/>
<circle cx="834.2" cy="402.9" r="3.7"/>
<circle cx="840.3" cy="403.6" r="3.7"/>
<circle cx="849.4" cy="405.2" r="3.7"/>
<circle cx="857.0" cy="402.9" r="3.7"/>
<circle cx="840.3" cy="406.7" r="3.7"/>
<circle cx="853.9" cy="411.2" r="3.7"/>
<circle cx="860.0" cy="409.7" r="3.7"/>
<circle cx="864.5" cy="411.2" r="3.7"/>
<circle cx="872.1" cy="410.5" r="3.7"/>
<circle cx="879.7" cy="408.9" r="3.7"/>
<circle cx="882.7" cy="406.7" r="3.7"/>
<circle cx="874.4" cy="416.5" r="3.7"/>
<circle cx="860.0" cy="415.0" r="3.7"/>
<circle cx="864.5" cy="418.0" r="3.7"/>
<circle cx="855.5" cy="417.3" r="3.7"/>
<circle cx="847.9" cy="420.3" r="3.7"/>
<circle cx="840.3" cy="421.8" r="3.7"/>
<circle cx="846.4" cy="424.8" r="3.7"/>
<circle cx="888.0" cy="425.6" r="3.7"/>
<circle cx="903.2" cy="424.1" r="3.7"/>
<circle cx="903.2" cy="429.4" r="3.7"/>
<circle cx="863.0" cy="430.9" r="3.7"/>
<circle cx="870.6" cy="430.9" r="3.7"/>
<circle cx="873.6" cy="430.9" r="3.7"/>
<circle cx="881.2" cy="434.7" r="3.7"/>
<circle cx="886.5" cy="436.2" r="3.7"/>
<circle cx="825.2" cy="427.9" r="3.7"/>
<circle cx="832.7" cy="430.9" r="3.7"/>
<circle cx="837.3" cy="437.0" r="3.7"/>
<circle cx="855.5" cy="443.0" r="3.7"/>
<circle cx="850.9" cy="446.1" r="3.7"/>
<circle cx="847.1" cy="448.3" r="3.7"/>
<circle cx="840.3" cy="449.1" r="3.7"/>
<circle cx="878.2" cy="445.3" r="3.7"/>
<circle cx="885.0" cy="450.6" r="3.7"/>
<circle cx="896.4" cy="451.4" r="3.7"/>
<circle cx="903.9" cy="443.8" r="3.7"/>
<circle cx="907.7" cy="441.5" r="3.7"/>
<circle cx="869.1" cy="459.7" r="3.7"/>
<circle cx="866.1" cy="465.8" r="3.7"/>
<circle cx="849.4" cy="461.2" r="3.7"/>
<circle cx="846.4" cy="464.2" r="3.7"/>
<circle cx="838.8" cy="466.5" r="3.7"/>
<circle cx="842.6" cy="473.3" r="3.7"/>
<circle cx="857.7" cy="475.6" r="3.7"/>
<circle cx="863.0" cy="478.6" r="3.7"/>
<circle cx="860.0" cy="484.7" r="3.7"/>
<circle cx="843.3" cy="487.7" r="3.7"/>
<circle cx="849.4" cy="486.2" r="3.7"/>
<circle cx="878.2" cy="467.3" r="3.7"/>
<circle cx="876.7" cy="472.6" r="3.7"/>
<circle cx="905.5" cy="475.6" r="3.7"/>
<circle cx="903.2" cy="482.4" r="3.7"/>
<circle cx="894.1" cy="487.0" r="3.7"/>
<circle cx="865.3" cy="495.3" r="3.7"/>
<circle cx="829.7" cy="466.5" r="3.7"/>
<circle cx="819.1" cy="452.1" r="3.7"/>
<circle cx="822.1" cy="455.2" r="3.7"/>
<circle cx="828.2" cy="491.5" r="3.7"/>
<circle cx="816.1" cy="485.5" r="3.7"/>
<circle cx="698.3" cy="347.6" r="3.7"/>
<circle cx="714.2" cy="353.6" r="3.7"/>
<circle cx="671.1" cy="357.9" r="3.7"/>
<circle cx="684.2" cy="362.3" r="3.7"/>
<circle cx="730.9" cy="364.2" r="3.7"/>
<circle cx="670.3" cy="391.2" r="3.7"/>
<circle cx="691.5" cy="396.1" r="3.7"/>
<circle cx="707.4" cy="393.8" r="3.7"/>
<circle cx="712.0" cy="396.8" r="3.7"/>
<circle cx="718.8" cy="401.4" r="3.7"/>
<circle cx="727.9" cy="391.5" r="3.7"/>
<circle cx="733.2" cy="394.5" r="3.7"/>
<circle cx="707.4" cy="406.7" r="3.7"/>
<circle cx="723.3" cy="410.5" r="3.7"/>
<circle cx="731.7" cy="414.2" r="3.7"/>
<circle cx="737.0" cy="403.6" r="3.7"/>
<circle cx="665.0" cy="423.0" r="3.7"/>
<circle cx="694.5" cy="419.5" r="3.7"/>
<circle cx="697.6" cy="428.6" r="3.7"/>
<circle cx="712.7" cy="431.7" r="3.7"/>
<circle cx="717.3" cy="426.4" r="3.7"/>
<circle cx="726.4" cy="424.8" r="3.7"/>
<circle cx="733.9" cy="421.8" r="3.7"/>
<circle cx="737.0" cy="430.9" r="3.7"/>
<circle cx="692.3" cy="435.5" r="3.7"/>
<circle cx="668.5" cy="442.0" r="3.7"/>
<circle cx="718.8" cy="440.0" r="3.7"/>
<circle cx="724.8" cy="433.9" r="3.7"/>
<circle cx="730.9" cy="438.5" r="3.7"/>
<circle cx="699.8" cy="447.6" r="3.7"/>
<circle cx="714.2" cy="447.9" r="3.7"/>
<circle cx="686.2" cy="458.2" r="3.7"/>
<circle cx="730.9" cy="449.1" r="3.7"/>
<circle cx="737.0" cy="455.2" r="3.7"/>
<circle cx="709.7" cy="460.5" r="3.7"/>
<circle cx="717.3" cy="465.5" r="3.7"/>
<circle cx="724.1" cy="463.5" r="3.7"/>
<circle cx="709.4" cy="470.6" r="3.7"/>
<circle cx="732.4" cy="473.3" r="3.7"/>
<circle cx="683.6" cy="486.2" r="3.7"/>
<circle cx="720.3" cy="481.7" r="3.7"/>
<circle cx="737.0" cy="476.4" r="3.7"/>
<circle cx="665.8" cy="499.1" r="3.7"/>
<circle cx="713.5" cy="497.6" r="3.7"/>
</g>
<rect x="600" y="63.8" width="433.15" height="133.1" fill="none" stroke="#141414" stroke-width="1.6"/>
<rect x="600" y="196.9" width="433.15" height="433.1" fill="none" stroke="#141414" stroke-width="1.6"/>
<rect x="1033.15" y="196.9" width="133.45" height="433.1" fill="none" stroke="#141414" stroke-width="1.6"/>
<line x1="604.13" y1="630" x2="604.13" y2="635" stroke="#1a1a1a" stroke-width="1.4"/>
<line x1="604.13" y1="196.9" x2="604.13" y2="201.9" stroke="#1a1a1a" stroke-width="1.4"/>
<line x1="609.84" y1="630" x2="609.84" y2="635" stroke="#1a1a1a" stroke-width="1.4"/>
<line x1="609.84" y1="196.9" x2="609.84" y2="201.9" stroke="#1a1a1a" stroke-width="1.4"/>
<line x1="614.89" y1="630" x2="614.89" y2="635" stroke="#1a1a1a" stroke-width="1.4"/>
<line x1="614.89" y1="196.9" x2="614.89" y2="201.9" stroke="#1a1a1a" stroke-width="1.4"/>
<line x1="619.4" y1="630" x2="619.4" y2="638" stroke="#1a1a1a" stroke-width="1.4"/>
<line x1="619.4" y1="196.9" x2="619.4" y2="204.9" stroke="#1a1a1a" stroke-width="1.4"/>
<line x1="649.08" y1="630" x2="649.08" y2="635" stroke="#1a1a1a" stroke-width="1.4"/>
<line x1="649.08" y1="196.9" x2="649.08" y2="201.9" stroke="#1a1a1a" stroke-width="1.4"/>
<line x1="666.44" y1="630" x2="666.44" y2="635" stroke="#1a1a1a" stroke-width="1.4"/>
<line x1="666.44" y1="196.9" x2="666.44" y2="201.9" stroke="#1a1a1a" stroke-width="1.4"/>
<line x1="678.76" y1="630" x2="678.76" y2="635" stroke="#1a1a1a" stroke-width="1.4"/>
<line x1="678.76" y1="196.9" x2="678.76" y2="201.9" stroke="#1a1a1a" stroke-width="1.4"/>
<line x1="688.32" y1="630" x2="688.32" y2="635" stroke="#1a1a1a" stroke-width="1.4"/>
<line x1="688.32" y1="196.9" x2="688.32" y2="201.9" stroke="#1a1a1a" stroke-width="1.4"/>
<line x1="696.13" y1="630" x2="696.13" y2="635" stroke="#1a1a1a" stroke-width="1.4"/>
<line x1="696.13" y1="196.9" x2="696.13" y2="201.9" stroke="#1a1a1a" stroke-width="1.4"/>
<line x1="702.73" y1="630" x2="702.73" y2="635" stroke="#1a1a1a" stroke-width="1.4"/>
<line x1="702.73" y1="196.9" x2="702.73" y2="201.9" stroke="#1a1a1a" stroke-width="1.4"/>
<line x1="708.44" y1="630" x2="708.44" y2="635" stroke="#1a1a1a" stroke-width="1.4"/>
<line x1="708.44" y1="196.9" x2="708.44" y2="201.9" stroke="#1a1a1a" stroke-width="1.4"/>
<line x1="713.49" y1="630" x2="713.49" y2="635" stroke="#1a1a1a" stroke-width="1.4"/>
<line x1="713.49" y1="196.9" x2="713.49" y2="201.9" stroke="#1a1a1a" stroke-width="1.4"/>
<line x1="718" y1="630" x2="718" y2="638" stroke="#1a1a1a" stroke-width="1.4"/>
<line x1="718" y1="196.9" x2="718" y2="204.9" stroke="#1a1a1a" stroke-width="1.4"/>
<line x1="747.68" y1="630" x2="747.68" y2="635" stroke="#1a1a1a" stroke-width="1.4"/>
<line x1="747.68" y1="196.9" x2="747.68" y2="201.9" stroke="#1a1a1a" stroke-width="1.4"/>
<line x1="765.04" y1="630" x2="765.04" y2="635" stroke="#1a1a1a" stroke-width="1.4"/>
<line x1="765.04" y1="196.9" x2="765.04" y2="201.9" stroke="#1a1a1a" stroke-width="1.4"/>
<line x1="777.36" y1="630" x2="777.36" y2="635" stroke="#1a1a1a" stroke-width="1.4"/>
<line x1="777.36" y1="196.9" x2="777.36" y2="201.9" stroke="#1a1a1a" stroke-width="1.4"/>
<line x1="786.92" y1="630" x2="786.92" y2="635" stroke="#1a1a1a" stroke-width="1.4"/>
<line x1="786.92" y1="196.9" x2="786.92" y2="201.9" stroke="#1a1a1a" stroke-width="1.4"/>
<line x1="794.73" y1="630" x2="794.73" y2="635" stroke="#1a1a1a" stroke-width="1.4"/>
<line x1="794.73" y1="196.9" x2="794.73" y2="201.9" stroke="#1a1a1a" stroke-width="1.4"/>
<line x1="801.33" y1="630" x2="801.33" y2="635" stroke="#1a1a1a" stroke-width="1.4"/>
<line x1="801.33" y1="196.9" x2="801.33" y2="201.9" stroke="#1a1a1a" stroke-width="1.4"/>
<line x1="807.04" y1="630" x2="807.04" y2="635" stroke="#1a1a1a" stroke-width="1.4"/>
<line x1="807.04" y1="196.9" x2="807.04" y2="201.9" stroke="#1a1a1a" stroke-width="1.4"/>
<line x1="812.09" y1="630" x2="812.09" y2="635" stroke="#1a1a1a" stroke-width="1.4"/>
<line x1="812.09" y1="196.9" x2="812.09" y2="201.9" stroke="#1a1a1a" stroke-width="1.4"/>
<line x1="816.6" y1="630" x2="816.6" y2="638" stroke="#1a1a1a" stroke-width="1.4"/>
<line x1="816.6" y1="196.9" x2="816.6" y2="204.9" stroke="#1a1a1a" stroke-width="1.4"/>
<line x1="846.28" y1="630" x2="846.28" y2="635" stroke="#1a1a1a" stroke-width="1.4"/>
<line x1="846.28" y1="196.9" x2="846.28" y2="201.9" stroke="#1a1a1a" stroke-width="1.4"/>
<line x1="863.64" y1="630" x2="863.64" y2="635" stroke="#1a1a1a" stroke-width="1.4"/>
<line x1="863.64" y1="196.9" x2="863.64" y2="201.9" stroke="#1a1a1a" stroke-width="1.4"/>
<line x1="875.96" y1="630" x2="875.96" y2="635" stroke="#1a1a1a" stroke-width="1.4"/>
<line x1="875.96" y1="196.9" x2="875.96" y2="201.9" stroke="#1a1a1a" stroke-width="1.4"/>
<line x1="885.52" y1="630" x2="885.52" y2="635" stroke="#1a1a1a" stroke-width="1.4"/>
<line x1="885.52" y1="196.9" x2="885.52" y2="201.9" stroke="#1a1a1a" stroke-width="1.4"/>
<line x1="893.33" y1="630" x2="893.33" y2="635" stroke="#1a1a1a" stroke-width="1.4"/>
<line x1="893.33" y1="196.9" x2="893.33" y2="201.9" stroke="#1a1a1a" stroke-width="1.4"/>
<line x1="899.93" y1="630" x2="899.93" y2="635" stroke="#1a1a1a" stroke-width="1.4"/>
<line x1="899.93" y1="196.9" x2="899.93" y2="201.9" stroke="#1a1a1a" stroke-width="1.4"/>
<line x1="905.64" y1="630" x2="905.64" y2="635" stroke="#1a1a1a" stroke-width="1.4"/>
<line x1="905.64" y1="196.9" x2="905.64" y2="201.9" stroke="#1a1a1a" stroke-width="1.4"/>
<line x1="910.69" y1="630" x2="910.69" y2="635" stroke="#1a1a1a" stroke-width="1.4"/>
<line x1="910.69" y1="196.9" x2="910.69" y2="201.9" stroke="#1a1a1a" stroke-width="1.4"/>
<line x1="915.2" y1="630" x2="915.2" y2="638" stroke="#1a1a1a" stroke-width="1.4"/>
<line x1="915.2" y1="196.9" x2="915.2" y2="204.9" stroke="#1a1a1a" stroke-width="1.4"/>
<line x1="944.88" y1="630" x2="944.88" y2="635" stroke="#1a1a1a" stroke-width="1.4"/>
<line x1="944.88" y1="196.9" x2="944.88" y2="201.9" stroke="#1a1a1a" stroke-width="1.4"/>
<line x1="962.24" y1="630" x2="962.24" y2="635" stroke="#1a1a1a" stroke-width="1.4"/>
<line x1="962.24" y1="196.9" x2="962.24" y2="201.9" stroke="#1a1a1a" stroke-width="1.4"/>
<line x1="974.56" y1="630" x2="974.56" y2="635" stroke="#1a1a1a" stroke-width="1.4"/>
<line x1="974.56" y1="196.9" x2="974.56" y2="201.9" stroke="#1a1a1a" stroke-width="1.4"/>
<line x1="984.12" y1="630" x2="984.12" y2="635" stroke="#1a1a1a" stroke-width="1.4"/>
<line x1="984.12" y1="196.9" x2="984.12" y2="201.9" stroke="#1a1a1a" stroke-width="1.4"/>
<line x1="991.93" y1="630" x2="991.93" y2="635" stroke="#1a1a1a" stroke-width="1.4"/>
<line x1="991.93" y1="196.9" x2="991.93" y2="201.9" stroke="#1a1a1a" stroke-width="1.4"/>
<line x1="998.53" y1="630" x2="998.53" y2="635" stroke="#1a1a1a" stroke-width="1.4"/>
<line x1="998.53" y1="196.9" x2="998.53" y2="201.9" stroke="#1a1a1a" stroke-width="1.4"/>
<line x1="1004.24" y1="630" x2="1004.24" y2="635" stroke="#1a1a1a" stroke-width="1.4"/>
<line x1="1004.24" y1="196.9" x2="1004.24" y2="201.9" stroke="#1a1a1a" stroke-width="1.4"/>
<line x1="1009.29" y1="630" x2="1009.29" y2="635" stroke="#1a1a1a" stroke-width="1.4"/>
<line x1="1009.29" y1="196.9" x2="1009.29" y2="201.9" stroke="#1a1a1a" stroke-width="1.4"/>
<line x1="1013.8" y1="630" x2="1013.8" y2="638" stroke="#1a1a1a" stroke-width="1.4"/>
<line x1="1013.8" y1="196.9" x2="1013.8" y2="204.9" stroke="#1a1a1a" stroke-width="1.4"/>
<text x="619.4" y="662" font-size="23" text-anchor="middle" fill="#1a1a1a">0.1</text>
<text x="718" y="662" font-size="23" text-anchor="middle" fill="#1a1a1a">1</text>
<text x="816.6" y="662" font-size="23" text-anchor="middle" fill="#1a1a1a">10</text>
<text x="915.2" y="662" font-size="23" text-anchor="middle" fill="#1a1a1a">100</text>
<text x="1013.8" y="662" font-size="23" text-anchor="middle" fill="#1a1a1a">1000</text>
<line x1="595" y1="610.8" x2="600" y2="610.8" stroke="#1a1a1a" stroke-width="1.4"/>
<line x1="1028.15" y1="610.8" x2="1033.15" y2="610.8" stroke="#1a1a1a" stroke-width="1.4"/>
<line x1="595" y1="592.54" x2="600" y2="592.54" stroke="#1a1a1a" stroke-width="1.4"/>
<line x1="1028.15" y1="592.54" x2="1033.15" y2="592.54" stroke="#1a1a1a" stroke-width="1.4"/>
<line x1="595" y1="577.63" x2="600" y2="577.63" stroke="#1a1a1a" stroke-width="1.4"/>
<line x1="1028.15" y1="577.63" x2="1033.15" y2="577.63" stroke="#1a1a1a" stroke-width="1.4"/>
<line x1="595" y1="565.01" x2="600" y2="565.01" stroke="#1a1a1a" stroke-width="1.4"/>
<line x1="1028.15" y1="565.01" x2="1033.15" y2="565.01" stroke="#1a1a1a" stroke-width="1.4"/>
<line x1="595" y1="554.09" x2="600" y2="554.09" stroke="#1a1a1a" stroke-width="1.4"/>
<line x1="1028.15" y1="554.09" x2="1033.15" y2="554.09" stroke="#1a1a1a" stroke-width="1.4"/>
<line x1="595" y1="544.45" x2="600" y2="544.45" stroke="#1a1a1a" stroke-width="1.4"/>
<line x1="1028.15" y1="544.45" x2="1033.15" y2="544.45" stroke="#1a1a1a" stroke-width="1.4"/>
<line x1="592" y1="535.83" x2="600" y2="535.83" stroke="#1a1a1a" stroke-width="1.4"/>
<line x1="1025.15" y1="535.83" x2="1033.15" y2="535.83" stroke="#1a1a1a" stroke-width="1.4"/>
<line x1="595" y1="479.12" x2="600" y2="479.12" stroke="#1a1a1a" stroke-width="1.4"/>
<line x1="1028.15" y1="479.12" x2="1033.15" y2="479.12" stroke="#1a1a1a" stroke-width="1.4"/>
<line x1="595" y1="445.94" x2="600" y2="445.94" stroke="#1a1a1a" stroke-width="1.4"/>
<line x1="1028.15" y1="445.94" x2="1033.15" y2="445.94" stroke="#1a1a1a" stroke-width="1.4"/>
<line x1="595" y1="422.4" x2="600" y2="422.4" stroke="#1a1a1a" stroke-width="1.4"/>
<line x1="1028.15" y1="422.4" x2="1033.15" y2="422.4" stroke="#1a1a1a" stroke-width="1.4"/>
<line x1="595" y1="404.14" x2="600" y2="404.14" stroke="#1a1a1a" stroke-width="1.4"/>
<line x1="1028.15" y1="404.14" x2="1033.15" y2="404.14" stroke="#1a1a1a" stroke-width="1.4"/>
<line x1="595" y1="389.23" x2="600" y2="389.23" stroke="#1a1a1a" stroke-width="1.4"/>
<line x1="1028.15" y1="389.23" x2="1033.15" y2="389.23" stroke="#1a1a1a" stroke-width="1.4"/>
<line x1="595" y1="376.61" x2="600" y2="376.61" stroke="#1a1a1a" stroke-width="1.4"/>
<line x1="1028.15" y1="376.61" x2="1033.15" y2="376.61" stroke="#1a1a1a" stroke-width="1.4"/>
<line x1="595" y1="365.69" x2="600" y2="365.69" stroke="#1a1a1a" stroke-width="1.4"/>
<line x1="1028.15" y1="365.69" x2="1033.15" y2="365.69" stroke="#1a1a1a" stroke-width="1.4"/>
<line x1="595" y1="356.05" x2="600" y2="356.05" stroke="#1a1a1a" stroke-width="1.4"/>
<line x1="1028.15" y1="356.05" x2="1033.15" y2="356.05" stroke="#1a1a1a" stroke-width="1.4"/>
<line x1="592" y1="347.43" x2="600" y2="347.43" stroke="#1a1a1a" stroke-width="1.4"/>
<line x1="1025.15" y1="347.43" x2="1033.15" y2="347.43" stroke="#1a1a1a" stroke-width="1.4"/>
<line x1="595" y1="290.72" x2="600" y2="290.72" stroke="#1a1a1a" stroke-width="1.4"/>
<line x1="1028.15" y1="290.72" x2="1033.15" y2="290.72" stroke="#1a1a1a" stroke-width="1.4"/>
<line x1="595" y1="257.54" x2="600" y2="257.54" stroke="#1a1a1a" stroke-width="1.4"/>
<line x1="1028.15" y1="257.54" x2="1033.15" y2="257.54" stroke="#1a1a1a" stroke-width="1.4"/>
<line x1="595" y1="234" x2="600" y2="234" stroke="#1a1a1a" stroke-width="1.4"/>
<line x1="1028.15" y1="234" x2="1033.15" y2="234" stroke="#1a1a1a" stroke-width="1.4"/>
<line x1="595" y1="215.74" x2="600" y2="215.74" stroke="#1a1a1a" stroke-width="1.4"/>
<line x1="1028.15" y1="215.74" x2="1033.15" y2="215.74" stroke="#1a1a1a" stroke-width="1.4"/>
<line x1="595" y1="200.83" x2="600" y2="200.83" stroke="#1a1a1a" stroke-width="1.4"/>
<line x1="1028.15" y1="200.83" x2="1033.15" y2="200.83" stroke="#1a1a1a" stroke-width="1.4"/>
<line x1="1033.15" y1="630" x2="1033.15" y2="638" stroke="#1a1a1a" stroke-width="1.5"/>
<text x="586.5" y="542.13" font-size="23" text-anchor="end" fill="#1a1a1a">10</text>
<text x="586.5" y="353.73" font-size="23" text-anchor="end" fill="#1a1a1a">100</text>
<text x="821.9" y="695.5" font-size="27.5" text-anchor="middle" fill="#1a1a1a">abundance [μM]</text>
<text x="537.4" y="417.2" font-size="28" text-anchor="middle" fill="#1a1a1a" transform="rotate(-90 537.4 417.2)">molecular weight [kDa]</text>
<circle cx="867.4" cy="83" r="7.6" fill="#33b35b"/>
<circle cx="867.4" cy="121.7" r="7.6" fill="#5c3a98"/>
<text x="884.6" y="88.8" font-size="23" fill="#1a1a1a">pupylated</text>
<text x="884.6" y="127.8" font-size="23" fill="#1a1a1a">non-pupylated</text>
<text x="2" y="712" font-size="36" font-weight="bold" fill="#1a1a1a">c</text>
<path d="M121.1,982.2 L121.1,979.8 L129.79,979.8 L129.79,979.5 L138.48,979.5 L138.48,982.2 L147.17,982.2 L147.17,973.6 L155.86,973.6 L155.86,957.6 L164.55,957.6 L164.55,950.2 L173.24,950.2 L173.24,935 L181.93,935 L181.93,917.5 L190.62,917.5 L190.62,896.7 L199.31,896.7 L199.31,866 L208,866 L208,857.9 L216.69,857.9 L216.69,800.4 L225.38,800.4 L225.38,809.6 L234.07,809.6 L234.07,777.9 L242.76,777.9 L242.76,805.9 L251.45,805.9 L251.45,753.4 L260.14,753.4 L260.14,784 L268.83,784 L268.83,835.3 L277.52,835.3 L277.52,867.2 L286.21,867.2 L286.21,903.2 L294.9,903.2 L294.9,902.5 L303.59,902.5 L303.59,913.3 L312.28,913.3 L312.28,937.4 L320.97,937.4 L320.97,938.8 L329.66,938.8 L329.66,941 L338.35,941 L338.35,961.6 L347.04,961.6 L347.04,959.8 L355.73,959.8 L355.73,973 L364.42,973 L364.42,969.1 L373.11,969.1 L373.11,976.2 L381.8,976.2 L381.8,980.5 L390.49,980.5 L390.49,982.2 L399.18,982.2 L399.18,982.2 L407.87,982.2 L407.87,982.2 L416.56,982.2 L416.56,977.2 L425.25,977.2 L425.25,982.2 L433.94,982.2 L433.94,982.2 L442.63,982.2 L442.63,982.2 L451.32,982.2 L451.32,980.5 L460.01,980.5 L460.01,982.2 Z" fill="#ebecdf"/>
<line x1="248.7" y1="736" x2="248.7" y2="982.2" stroke="#e0123f" stroke-width="1.7" stroke-dasharray="8.3,3.6" stroke-dashoffset="2.6"/>
<rect x="84" y="736" width="422" height="246.2" fill="none" stroke="#161616" stroke-width="1.6"/>
<line x1="78.5" y1="747.2" x2="84" y2="747.2" stroke="#111" stroke-width="1.6"/>
<text x="74.5" y="753.7" font-size="23" text-anchor="end" fill="#1a1a1a">200</text>
<line x1="78.5" y1="806.3" x2="84" y2="806.3" stroke="#111" stroke-width="1.6"/>
<text x="74.5" y="812.8" font-size="23" text-anchor="end" fill="#1a1a1a">150</text>
<line x1="78.5" y1="865" x2="84" y2="865" stroke="#111" stroke-width="1.6"/>
<text x="74.5" y="871.5" font-size="23" text-anchor="end" fill="#1a1a1a">100</text>
<line x1="78.5" y1="923.3" x2="84" y2="923.3" stroke="#111" stroke-width="1.6"/>
<text x="74.5" y="929.8" font-size="23" text-anchor="end" fill="#1a1a1a">50</text>
<line x1="78.5" y1="981.7" x2="84" y2="981.7" stroke="#111" stroke-width="1.6"/>
<text x="74.5" y="988.2" font-size="23" text-anchor="end" fill="#1a1a1a">0</text>
<line x1="86.52" y1="982.2" x2="86.52" y2="985.7" stroke="#111" stroke-width="1.5"/>
<line x1="94.94" y1="982.2" x2="94.94" y2="985.7" stroke="#111" stroke-width="1.5"/>
<line x1="101.82" y1="982.2" x2="101.82" y2="985.7" stroke="#111" stroke-width="1.5"/>
<line x1="107.64" y1="982.2" x2="107.64" y2="985.7" stroke="#111" stroke-width="1.5"/>
<line x1="112.68" y1="982.2" x2="112.68" y2="985.7" stroke="#111" stroke-width="1.5"/>
<line x1="117.12" y1="982.2" x2="117.12" y2="985.7" stroke="#111" stroke-width="1.5"/>
<line x1="121.1" y1="982.2" x2="121.1" y2="987.7" stroke="#111" stroke-width="1.5"/>
<line x1="147.26" y1="982.2" x2="147.26" y2="985.7" stroke="#111" stroke-width="1.5"/>
<line x1="162.56" y1="982.2" x2="162.56" y2="985.7" stroke="#111" stroke-width="1.5"/>
<line x1="173.42" y1="982.2" x2="173.42" y2="985.7" stroke="#111" stroke-width="1.5"/>
<line x1="181.84" y1="982.2" x2="181.84" y2="985.7" stroke="#111" stroke-width="1.5"/>
<line x1="188.72" y1="982.2" x2="188.72" y2="985.7" stroke="#111" stroke-width="1.5"/>
<line x1="194.54" y1="982.2" x2="194.54" y2="985.7" stroke="#111" stroke-width="1.5"/>
<line x1="199.58" y1="982.2" x2="199.58" y2="985.7" stroke="#111" stroke-width="1.5"/>
<line x1="204.02" y1="982.2" x2="204.02" y2="985.7" stroke="#111" stroke-width="1.5"/>
<line x1="208" y1="982.2" x2="208" y2="987.7" stroke="#111" stroke-width="1.5"/>
<line x1="234.16" y1="982.2" x2="234.16" y2="985.7" stroke="#111" stroke-width="1.5"/>
<line x1="249.46" y1="982.2" x2="249.46" y2="985.7" stroke="#111" stroke-width="1.5"/>
<line x1="260.32" y1="982.2" x2="260.32" y2="985.7" stroke="#111" stroke-width="1.5"/>
<line x1="268.74" y1="982.2" x2="268.74" y2="985.7" stroke="#111" stroke-width="1.5"/>
<line x1="275.62" y1="982.2" x2="275.62" y2="985.7" stroke="#111" stroke-width="1.5"/>
<line x1="281.44" y1="982.2" x2="281.44" y2="985.7" stroke="#111" stroke-width="1.5"/>
<line x1="286.48" y1="982.2" x2="286.48" y2="985.7" stroke="#111" stroke-width="1.5"/>
<line x1="290.92" y1="982.2" x2="290.92" y2="985.7" stroke="#111" stroke-width="1.5"/>
<line x1="294.9" y1="982.2" x2="294.9" y2="987.7" stroke="#111" stroke-width="1.5"/>
<line x1="321.06" y1="982.2" x2="321.06" y2="985.7" stroke="#111" stroke-width="1.5"/>
<line x1="336.36" y1="982.2" x2="336.36" y2="985.7" stroke="#111" stroke-width="1.5"/>
<line x1="347.22" y1="982.2" x2="347.22" y2="985.7" stroke="#111" stroke-width="1.5"/>
<line x1="355.64" y1="982.2" x2="355.64" y2="985.7" stroke="#111" stroke-width="1.5"/>
<line x1="362.52" y1="982.2" x2="362.52" y2="985.7" stroke="#111" stroke-width="1.5"/>
<line x1="368.34" y1="982.2" x2="368.34" y2="985.7" stroke="#111" stroke-width="1.5"/>
<line x1="373.38" y1="982.2" x2="373.38" y2="985.7" stroke="#111" stroke-width="1.5"/>
<line x1="377.82" y1="982.2" x2="377.82" y2="985.7" stroke="#111" stroke-width="1.5"/>
<line x1="381.8" y1="982.2" x2="381.8" y2="987.7" stroke="#111" stroke-width="1.5"/>
<line x1="407.96" y1="982.2" x2="407.96" y2="985.7" stroke="#111" stroke-width="1.5"/>
<line x1="423.26" y1="982.2" x2="423.26" y2="985.7" stroke="#111" stroke-width="1.5"/>
<line x1="434.12" y1="982.2" x2="434.12" y2="985.7" stroke="#111" stroke-width="1.5"/>
<line x1="442.54" y1="982.2" x2="442.54" y2="985.7" stroke="#111" stroke-width="1.5"/>
<line x1="449.42" y1="982.2" x2="449.42" y2="985.7" stroke="#111" stroke-width="1.5"/>
<line x1="455.24" y1="982.2" x2="455.24" y2="985.7" stroke="#111" stroke-width="1.5"/>
<line x1="460.28" y1="982.2" x2="460.28" y2="985.7" stroke="#111" stroke-width="1.5"/>
<line x1="464.72" y1="982.2" x2="464.72" y2="985.7" stroke="#111" stroke-width="1.5"/>
<line x1="468.7" y1="982.2" x2="468.7" y2="987.7" stroke="#111" stroke-width="1.5"/>
<line x1="494.86" y1="982.2" x2="494.86" y2="985.7" stroke="#111" stroke-width="1.5"/>
<text x="121.1" y="1012.5" font-size="23" text-anchor="middle" fill="#1a1a1a">0.1</text>
<text x="208" y="1012.5" font-size="23" text-anchor="middle" fill="#1a1a1a">1</text>
<text x="294.9" y="1012.5" font-size="23" text-anchor="middle" fill="#1a1a1a">10</text>
<text x="381.8" y="1012.5" font-size="23" text-anchor="middle" fill="#1a1a1a">100</text>
<text x="468.7" y="1012.5" font-size="23" text-anchor="middle" fill="#1a1a1a">1000</text>
<text x="294.4" y="1045.5" font-size="28" text-anchor="middle" fill="#1a1a1a">abundance [μM]</text>
<text x="24.5" y="858.2" font-size="28" text-anchor="middle" fill="#1a1a1a" transform="rotate(-90 24.5 858.2)">protein frequency</text>
<circle cx="191.5" cy="768.9" r="6.3" fill="#90ee90" stroke="#111111" stroke-width="1.5"/>
<circle cx="262.1" cy="768.9" r="6.3" fill="#90ee90" stroke="#111111" stroke-width="1.5"/>
<circle cx="296.5" cy="768.9" r="10.3" fill="#90ee90" stroke="#111111" stroke-width="1.5"/>
<circle cx="270.8" cy="858.7" r="3.6" fill="#90ee90" stroke="#111111" stroke-width="1.5"/>
<circle cx="301.8" cy="858.7" r="6.3" fill="white" stroke="#111111" stroke-width="1.5"/>
<circle cx="325.9" cy="858.7" r="6.3" fill="#90ee90" stroke="#111111" stroke-width="1.5"/>
<circle cx="326.1" cy="858.7" r="3.6" fill="white" stroke="#111111" stroke-width="1.5"/>
<circle cx="350.3" cy="858.7" r="10.3" fill="#90ee90" stroke="#111111" stroke-width="1.5"/>
<circle cx="347.5" cy="858.7" r="6.3" fill="white" stroke="#111111" stroke-width="1.5"/>
<circle cx="275.3" cy="948.5" r="3.6" fill="white" stroke="#111111" stroke-width="1.5"/>
<circle cx="308.3" cy="948.5" r="3.6" fill="white" stroke="#111111" stroke-width="1.5"/>
<circle cx="339" cy="948.5" r="6.3" fill="white" stroke="#111111" stroke-width="1.5"/>
<circle cx="335.9" cy="948.5" r="3.6" fill="white" stroke="#111111" stroke-width="1.5"/>
<circle cx="353.4" cy="948.5" r="3.6" fill="white" stroke="#111111" stroke-width="1.5"/>
<text x="164.2" y="798.9" font-size="23.5" fill="#1a1a1a">PanB</text>
<text x="239.4" y="798.9" font-size="23.5" fill="#1a1a1a">Mpa</text>
<text x="294.5" y="798.9" font-size="23.5" fill="#1a1a1a">FabD</text>
<text x="237.3" y="891.1" font-size="23.5" fill="#1a1a1a">RecA</text>
<text x="301.5" y="891.1" font-size="23.5" fill="#1a1a1a">Ino1</text>
<text x="354.3" y="891.1" font-size="23.5" fill="#1a1a1a">Icl1</text>
<path d="M435,768.9h13M441.5,762.5v12.8M451.5,768.9h13M458,762.5v12.8M468,768.9h13M474.5,762.5v12.8" stroke="#111" stroke-width="2.1" fill="none"/>
<path d="M451.5,858.7h13M458,852.3v12.8M468,858.7h13M474.5,852.3v12.8" stroke="#111" stroke-width="2.1" fill="none"/>
<path d="M468,948.5h13M474.5,942.1v12.8" stroke="#111" stroke-width="2.1" fill="none"/>
<path d="M626.6,982.2 L626.6,979.5 L635.31,979.5 L635.31,976.7 L644.02,976.7 L644.02,975.5 L652.73,975.5 L652.73,964.9 L661.44,964.9 L661.44,962.5 L670.15,962.5 L670.15,952.5 L678.86,952.5 L678.86,944.7 L687.57,944.7 L687.57,930 L696.28,930 L696.28,923 L704.99,923 L704.99,884.9 L713.7,884.9 L713.7,891.5 L722.41,891.5 L722.41,897.4 L731.12,897.4 L731.12,828.3 L739.83,828.3 L739.83,795.6 L748.54,795.6 L748.54,792 L757.25,792 L757.25,768 L765.96,768 L765.96,760.2 L774.67,760.2 L774.67,780.8 L783.38,780.8 L783.38,802.5 L792.09,802.5 L792.09,802.7 L800.8,802.7 L800.8,815.7 L809.51,815.7 L809.51,911.6 L818.22,911.6 L818.22,927 L826.93,927 L826.93,954.2 L835.64,954.2 L835.64,946.9 L844.35,946.9 L844.35,968 L853.06,968 L853.06,963.3 L861.77,963.3 L861.77,975 L870.48,975 L870.48,973.7 L879.19,973.7 L879.19,977.3 L887.9,977.3 L887.9,980 L896.61,980 L896.61,977.3 L905.32,977.3 L905.32,982.2 Z" fill="#ebecdf"/>
<line x1="763.3" y1="736" x2="763.3" y2="982.2" stroke="#e0123f" stroke-width="1.7" stroke-dasharray="8.3,3.6" stroke-dashoffset="2.6"/>
<rect x="572.6" y="736" width="421.4" height="246.2" fill="none" stroke="#161616" stroke-width="1.6"/>
<line x1="567.1" y1="747.2" x2="572.6" y2="747.2" stroke="#111" stroke-width="1.6"/>
<text x="562.5" y="753.7" font-size="23" text-anchor="end" fill="#1a1a1a">200</text>
<line x1="567.1" y1="797" x2="572.6" y2="797" stroke="#111" stroke-width="1.6"/>
<text x="562.5" y="803.5" font-size="23" text-anchor="end" fill="#1a1a1a">150</text>
<line x1="567.1" y1="858.5" x2="572.6" y2="858.5" stroke="#111" stroke-width="1.6"/>
<text x="562.5" y="865" font-size="23" text-anchor="end" fill="#1a1a1a">100</text>
<line x1="567.1" y1="920" x2="572.6" y2="920" stroke="#111" stroke-width="1.6"/>
<text x="562.5" y="926.5" font-size="23" text-anchor="end" fill="#1a1a1a">50</text>
<line x1="567.1" y1="981.7" x2="572.6" y2="981.7" stroke="#111" stroke-width="1.6"/>
<text x="562.5" y="988.2" font-size="23" text-anchor="end" fill="#1a1a1a">0</text>
<line x1="587.98" y1="982.2" x2="587.98" y2="985.7" stroke="#111" stroke-width="1.5"/>
<line x1="608.82" y1="982.2" x2="608.82" y2="985.7" stroke="#111" stroke-width="1.5"/>
<line x1="624.99" y1="982.2" x2="624.99" y2="985.7" stroke="#111" stroke-width="1.5"/>
<line x1="638.2" y1="982.2" x2="638.2" y2="985.7" stroke="#111" stroke-width="1.5"/>
<line x1="649.36" y1="982.2" x2="649.36" y2="985.7" stroke="#111" stroke-width="1.5"/>
<line x1="659.04" y1="982.2" x2="659.04" y2="985.7" stroke="#111" stroke-width="1.5"/>
<line x1="667.57" y1="982.2" x2="667.57" y2="985.7" stroke="#111" stroke-width="1.5"/>
<line x1="675.2" y1="982.2" x2="675.2" y2="987.7" stroke="#111" stroke-width="1.5"/>
<line x1="725.41" y1="982.2" x2="725.41" y2="985.7" stroke="#111" stroke-width="1.5"/>
<line x1="754.78" y1="982.2" x2="754.78" y2="985.7" stroke="#111" stroke-width="1.5"/>
<line x1="775.62" y1="982.2" x2="775.62" y2="985.7" stroke="#111" stroke-width="1.5"/>
<line x1="791.79" y1="982.2" x2="791.79" y2="985.7" stroke="#111" stroke-width="1.5"/>
<line x1="805" y1="982.2" x2="805" y2="985.7" stroke="#111" stroke-width="1.5"/>
<line x1="816.16" y1="982.2" x2="816.16" y2="985.7" stroke="#111" stroke-width="1.5"/>
<line x1="825.84" y1="982.2" x2="825.84" y2="985.7" stroke="#111" stroke-width="1.5"/>
<line x1="834.37" y1="982.2" x2="834.37" y2="985.7" stroke="#111" stroke-width="1.5"/>
<line x1="842" y1="982.2" x2="842" y2="987.7" stroke="#111" stroke-width="1.5"/>
<line x1="892.21" y1="982.2" x2="892.21" y2="985.7" stroke="#111" stroke-width="1.5"/>
<line x1="921.58" y1="982.2" x2="921.58" y2="985.7" stroke="#111" stroke-width="1.5"/>
<line x1="942.42" y1="982.2" x2="942.42" y2="985.7" stroke="#111" stroke-width="1.5"/>
<line x1="958.59" y1="982.2" x2="958.59" y2="985.7" stroke="#111" stroke-width="1.5"/>
<line x1="971.8" y1="982.2" x2="971.8" y2="985.7" stroke="#111" stroke-width="1.5"/>
<line x1="982.96" y1="982.2" x2="982.96" y2="985.7" stroke="#111" stroke-width="1.5"/>
<line x1="992.64" y1="982.2" x2="992.64" y2="985.7" stroke="#111" stroke-width="1.5"/>
<text x="675.2" y="1012.5" font-size="23" text-anchor="middle" fill="#1a1a1a">10</text>
<text x="842" y="1012.5" font-size="23" text-anchor="middle" fill="#1a1a1a">100</text>
<text x="790.6" y="1045.5" font-size="28" text-anchor="middle" fill="#1a1a1a">molecular weight [kDa]</text>
<circle cx="756.8" cy="769.2" r="10.3" fill="#90ee90" stroke="#111111" stroke-width="1.5"/>
<circle cx="752" cy="769.2" r="6.3" fill="#90ee90" stroke="#111111" stroke-width="1.5"/>
<circle cx="813.2" cy="769.2" r="6.3" fill="#90ee90" stroke="#111111" stroke-width="1.5"/>
<circle cx="741.2" cy="858.8" r="3.6" fill="white" stroke="#111111" stroke-width="1.5"/>
<circle cx="787.2" cy="858.8" r="10.3" fill="#90ee90" stroke="#111111" stroke-width="1.5"/>
<circle cx="775.2" cy="858.8" r="6.3" fill="#90ee90" stroke="#111111" stroke-width="1.5"/>
<circle cx="812.8" cy="858.8" r="6.3" fill="white" stroke="#111111" stroke-width="1.5"/>
<circle cx="830" cy="858.8" r="3.6" fill="#90ee90" stroke="#111111" stroke-width="1.5"/>
<circle cx="863.2" cy="858.8" r="6.3" fill="white" stroke="#111111" stroke-width="1.5"/>
<circle cx="725.2" cy="948.8" r="3.6" fill="white" stroke="#111111" stroke-width="1.5"/>
<circle cx="736.4" cy="948.8" r="6.3" fill="white" stroke="#111111" stroke-width="1.5"/>
<circle cx="764" cy="948.8" r="3.6" fill="white" stroke="#111111" stroke-width="1.5"/>
<circle cx="793.6" cy="948.8" r="3.6" fill="white" stroke="#111111" stroke-width="1.5"/>
<circle cx="827.2" cy="948.8" r="3.6" fill="white" stroke="#111111" stroke-width="1.5"/>
<text x="685.9" y="798.8" font-size="23.5" fill="#1a1a1a">FabD</text>
<text x="747.4" y="798.8" font-size="23.5" fill="#1a1a1a">PanB</text>
<text x="808.6" y="798.8" font-size="23.5" fill="#1a1a1a">Mpa</text>
<text x="732" y="890.8" font-size="23.5" fill="#1a1a1a">Ino1</text>
<text x="782.3" y="890.8" font-size="23.5" fill="#1a1a1a">Icl1</text>
<text x="824" y="890.8" font-size="23.5" fill="#1a1a1a">RecA</text>
<path d="M924,769.2h13M930.5,762.8v12.8M940.5,769.2h13M947,762.8v12.8M957,769.2h13M963.5,762.8v12.8" stroke="#111" stroke-width="2.1" fill="none"/>
<path d="M940.5,858.8h13M947,852.4v12.8M957,858.8h13M963.5,852.4v12.8" stroke="#111" stroke-width="2.1" fill="none"/>
<path d="M957,948.8h13M963.5,942.4v12.8" stroke="#111" stroke-width="2.1" fill="none"/>
<circle cx="1012.6" cy="757.9" r="6.6" fill="#90ee90" stroke="#111111" stroke-width="1.5"/>
<circle cx="1012.6" cy="817.3" r="6.6" fill="white" stroke="#111111" stroke-width="1.5"/>
<circle cx="1012.6" cy="914.2" r="10.2" fill="white" stroke="#111111" stroke-width="1.5"/>
<circle cx="1012.6" cy="946.3" r="6.2" fill="white" stroke="#111111" stroke-width="1.5"/>
<circle cx="1012.6" cy="977.2" r="3.6" fill="white" stroke="#111111" stroke-width="1.5"/>
<text x="1031" y="752.4" font-size="23.4" fill="#1a1a1a"><tspan font-style="italic">in vivo</tspan> effect</text>
<text x="1031" y="775.7" font-size="23.4" fill="#1a1a1a">known</text>
<text x="1031" y="810.2" font-size="23.4" fill="#1a1a1a">no <tspan font-style="italic">in vivo</tspan></text>
<text x="1031" y="834" font-size="23.4" fill="#1a1a1a">effect known</text>
<text x="1003" y="876" font-size="23.4" fill="#1a1a1a">Contained in</text>
<text x="1031" y="917.6" font-size="23.4" fill="#1a1a1a">3 pupylomes</text>
<text x="1031" y="948.6" font-size="23.4" fill="#1a1a1a">2 pupylomes</text>
<text x="1031" y="978.5" font-size="23.4" fill="#1a1a1a">1 pupylome</text>
</svg>
</body></html>
